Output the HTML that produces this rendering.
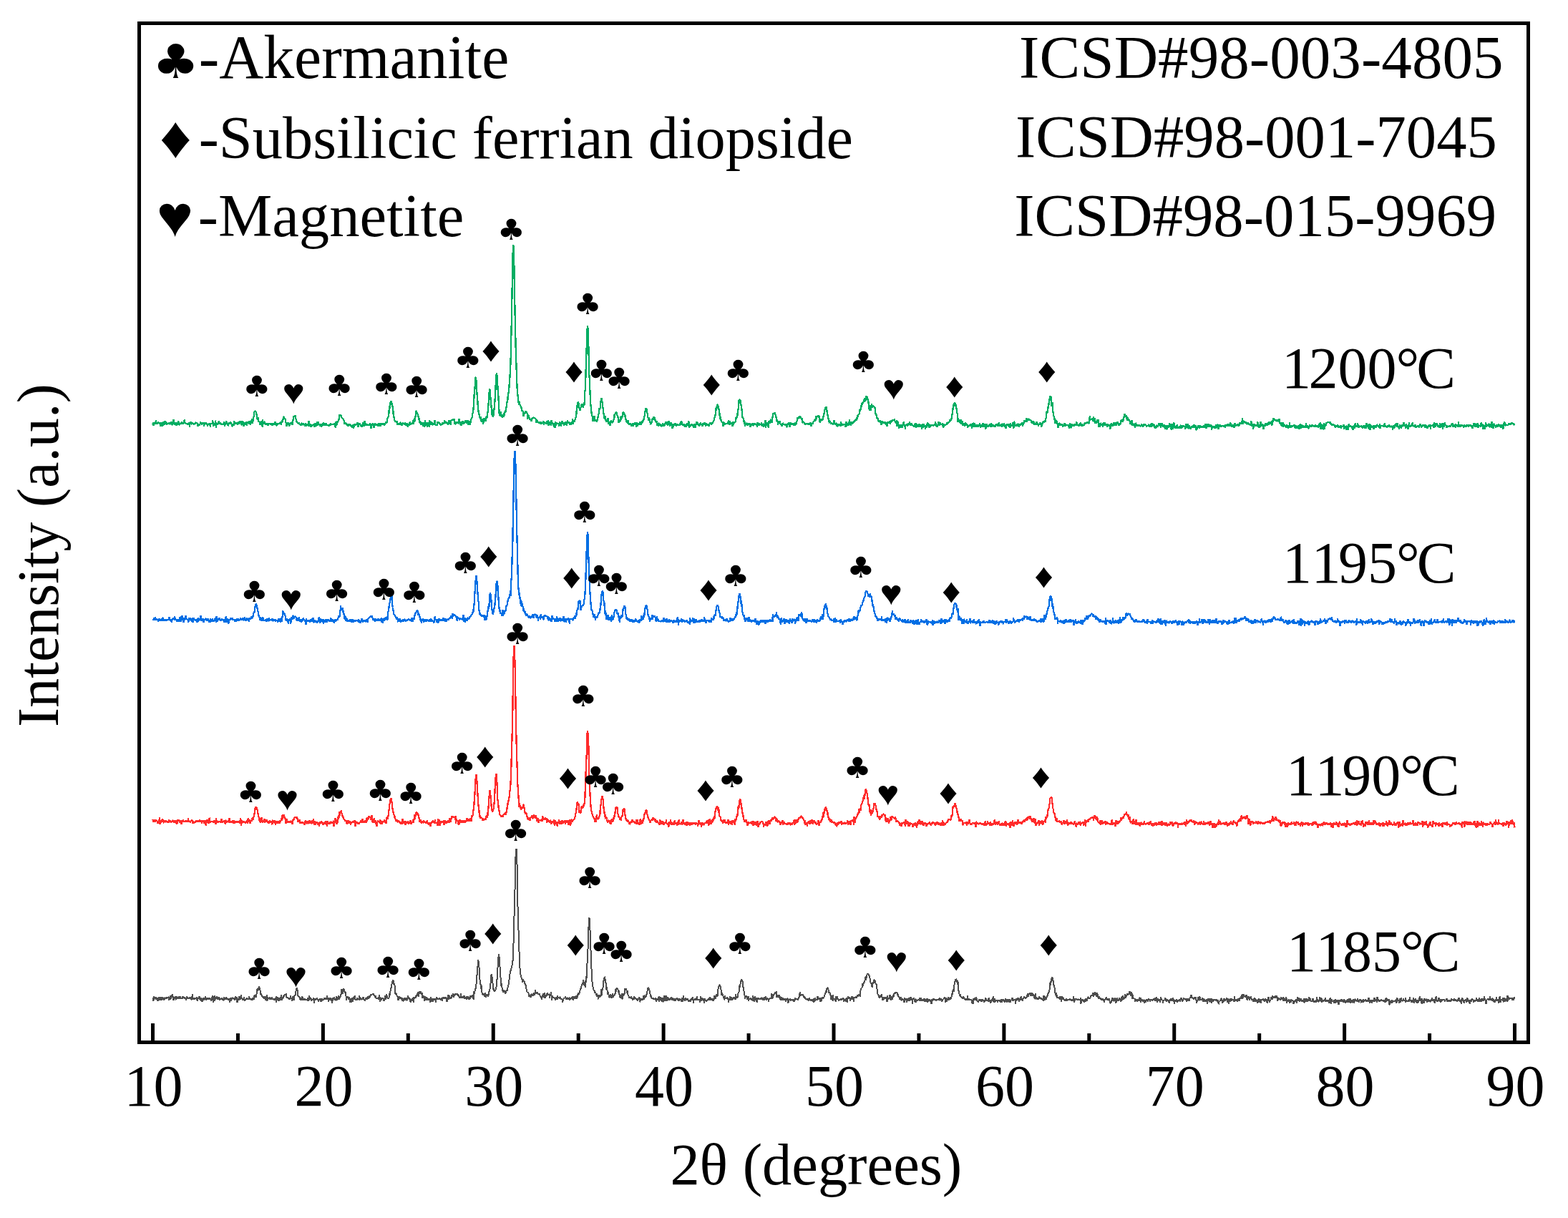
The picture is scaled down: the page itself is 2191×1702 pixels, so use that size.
<!DOCTYPE html>
<html><head><meta charset="utf-8"><title>XRD patterns</title><style>html,body{margin:0;padding:0;background:#fff;}svg{display:block;}</style></head><body>
<svg width="2191" height="1702" viewBox="0 0 2191 1702">
<rect width="2191" height="1702" fill="#fff"/>
<g fill="none" stroke-linejoin="bevel" stroke-linecap="butt" shape-rendering="crispEdges">
<path stroke="#00ad62" stroke-width="2.3" d="M213.5 591.5l.5 3.1 .5-4.8 .4 4.7 .5-3.6 .5 .4 .5 1.6 .4-1.7 .5 .4 .5-4.0 .5 4.9 .4-.9 .5-.6 .5 1.7 .5-1.8 .4 .5 .5-1.6 .5 1.5 .5-1.0 .4 .4 .5 1.8 .5-1.7 .5 .7 .4 4.4 .5-.9 .5-2.6 .5-.7 .4-.9 .5-.7 .5 5.3 .5-3.8 .4-2.0 .5 2.4 .5 .7 .5-.7 .5 2.0 .4-5.8 .5 3.5 .5-.2 .5-2.7 .4 3.3 .5 1.2 .5-1.4 .5-1.1 .4 2.4 .5-1.5 .5 .0 .5 .9 .4-2.6 .5 3.0 .5-.7 .5 .5 .4-2.4 .5 2.5 .5-2.5 .5-1.1 .4 4.1 .5 .0 .5 .2 .5-2.0 .4-.7 .5-4.7 .5 6.0 .5 .3 .4 .7 .5-2.2 .5-.4 .5 1.6 .5 .8 .4 2.3 .5-5.2 .5 1.6 .5 2.1 .4-2.3 .5 .5 .5-4.3 .5 4.6 .4 1.9 .5-1.0 .5 .6 .5-1.5 .4-1.5 .5 2.0 .5-2.2 .5 2.7 .4-4.3 .5 4.2 .5-2.9 .5 1.1 .4-.2 .5 1.3 .5-2.1 .5 1.1 .4-5.2 .5 4.7 .5 .6 .5-1.8 .4 2.5 .5-.8 .5 1.2 .5-.3 .5-.7 .4 2.0 .5-1.4 .5 .9 .5-1.8 .4 .6 .5-1.4 .5 6.8 .5-6.5 .4 .1 .5-1.7 .5 1.7 .5 1.9 .4-.3 .5-2.5 .5 1.4 .5 .2 .4 .8 .5-.7 .5 .4 .5 1.3 .4-.7 .5-1.3 .5 .3 .5-.3 .4-1.6 .5 .9 .5 .4 .5 .1 .4 .0 .5 .9 .5 3.6 .5-2.7 .5 .1 .4-.2 .5-.7 .5 2.1 .5-1.8 .4-.6 .5-2.5 .5 2.5 .5-1.1 .4-.7 .5 1.8 .5 1.2 .5-1.9 .4 1.8 .5-1.0 .5-1.7 .5 5.2 .4-3.8 .5-.5 .5 2.4 .5-3.5 .4 2.7 .5-2.1 .5 1.0 .5-.8 .4 2.6 .5-1.8 .5 4.3 .5-3.6 .4 .3 .5-.6 .5-.7 .5 .3 .5 3.2 .4-4.1 .5 6.3 .5-4.1 .5-1.4 .4 .9 .5-.8 .5 .0 .5 .4 .4-4.6 .5 4.5 .5 3.9 .5-4.6 .4 1.7 .5-1.1 .5-1.0 .5 3.4 .4-6.8 .5 3.9 .5 6.2 .5-6.4 .4 2.5 .5-1.3 .5 1.0 .5-.9 .4-.8 .5 1.4 .5-4.9 .5 3.8 .4-.3 .5 .4 .5-1.8 .5 .7 .4 1.3 .5-.5 .5 1.5 .5-.9 .5 1.5 .4-.9 .5-.6 .5-1.0 .5 1.9 .4-2.1 .5-1.6 .5 6.1 .5-3.4 .4 .9 .5-1.0 .5 .3 .5-4.0 .4 2.3 .5 2.0 .5-.4 .5-1.8 .4 4.7 .5-4.7 .5 1.6 .5-1.7 .4 2.5 .5-1.6 .5-1.0 .5-1.4 .4 1.8 .5 .1 .5 1.4 .5-.2 .4 3.4 .5-.1 .5-2.0 .5-.6 .5 1.0 .4 1.2 .5-7.0 .5 2.3 .5 1.5 .4-1.8 .5 2.5 .5-1.2 .5 .1 .4 .1 .5-1.5 .5 3.1 .5-.4 .4-.2 .5-3.9 .5 3.4 .5 .8 .4-2.2 .5 1.2 .5-4.0 .5 2.0 .4 1.3 .5 .8 .5 .2 .5 2.1 .4-2.6 .5-3.7 .5 5.7 .5-4.3 .4 .6 .5 5.8 .5-2.6 .5-1.5 .5-1.3 .4 1.4 .5-.2 .5 2.4 .5-2.2 .4-2.2 .5 5.0 .5-2.2 .5-2.4 .4-.1 .5 1.8 .5-2.3 .5 2.7 .4-.2 .5-4.2 .5 5.0 .5-.3 .4 1.0 .5-2.1 .5-.2 .5-2.7 .4-3.2 .5 .6 .5 5.9 .5-4.5 .4 1.4 .5-5.7 .5-.3 .5-6.5 .4-.7 .5-.4 .5-.5 .5-.1 .5 1.1 .4 1.6 .5 2.6 .5 6.1 .5-2.4 .4 3.6 .5-3.5 .5 4.0 .5 1.5 .4 1.0 .5-.9 .5 1.1 .5 3.8 .4-2.4 .5 .0 .5-2.9 .5-.1 .4 2.0 .5-.5 .5 6.5 .5-10.1 .4 5.2 .5-2.5 .5 3.5 .5-3.7 .4 .6 .5 .3 .5 1.7 .5 1.1 .4 1.0 .5-2.1 .5 .1 .5 2.3 .5-.5 .4-2.8 .5 3.2 .5 .2 .5-2.9 .4 1.8 .5-1.6 .5 .3 .5 1.0 .4 .0 .5-.1 .5 .2 .5-1.2 .4 2.2 .5-1.9 .5 3.2 .5-2.3 .4-.7 .5-.8 .5 1.4 .5-.4 .4 .8 .5-.4 .5-3.5 .5 5.0 .4-4.6 .5 4.5 .5-.1 .5 1.2 .4-2.1 .5-2.1 .5 1.4 .5-.1 .5 .5 .4-.8 .5 .8 .5-1.9 .5 .6 .4 .4 .5-.6 .5-2.1 .5 5.1 .4-3.8 .5 .0 .5-3.3 .5 2.3 .4-3.3 .5-.4 .5-3.7 .5 .3 .4 .8 .5 1.7 .5 .3 .5 .1 .4 3.5 .5 1.5 .5-.2 .5 6.1 .4-5.1 .5-.1 .5 2.2 .5-1.3 .4-.7 .5 .1 .5 3.9 .5 .5 .5-3.1 .4-1.4 .5 1.5 .5-2.0 .5 .4 .4 .4 .5-.8 .5-.7 .5 4.0 .4-6.7 .5 .6 .5-5.8 .5-.5 .4 .2 .5 .5 .5-1.8 .5 1.0 .4-.8 .5 4.3 .5 .9 .5 1.5 .4 2.4 .5-.5 .5 1.5 .5-.4 .4 1.0 .5 .7 .5-1.4 .5 .9 .4 .7 .5 .3 .5 1.4 .5-.7 .5-.2 .4 1.7 .5-3.0 .5-.9 .5 1.9 .4-1.4 .5 1.9 .5 .1 .5-2.0 .4 2.6 .5-.5 .5-.4 .5 2.7 .4-.8 .5-2.7 .5-.4 .5 3.9 .4-3.9 .5 2.5 .5-1.6 .5 .2 .4 .6 .5 2.5 .5-8.1 .5 4.0 .4 2.3 .5-1.1 .5-.4 .5 4.2 .4-4.3 .5 1.6 .5 2.8 .5-2.5 .5-.3 .4 .1 .5 .5 .5-2.1 .5 1.2 .4 .9 .5 .7 .5 .3 .5 .0 .4-4.5 .5 1.9 .5 .2 .5 2.2 .4-2.3 .5-.6 .5-3.5 .5 3.6 .4 1.9 .5-5.4 .5 2.8 .5 .9 .4 .7 .5-.5 .5 2.4 .5-3.2 .4 1.4 .5 .9 .5 1.6 .5-.8 .4-3.6 .5 2.9 .5-.6 .5-.8 .5-3.8 .4 2.5 .5 2.4 .5-3.3 .5 1.8 .4-.3 .5 1.8 .5-1.4 .5-1.9 .4 2.0 .5-.2 .5 1.3 .5-1.4 .4 1.3 .5-.6 .5 1.9 .5-1.2 .4-1.1 .5 .2 .5-.1 .5 1.9 .4-3.6 .5 1.5 .5 .3 .5-.3 .4 .4 .5-.3 .5-.3 .5 .8 .4-1.3 .5 .9 .5 .4 .5-2.8 .5 1.2 .4 3.4 .5 .6 .5 1.7 .5-9.3 .4 4.5 .5 1.0 .5-1.1 .5-2.1 .4-1.0 .5-.7 .5-1.7 .5-.2 .4-2.7 .5-2.7 .5-2.8 .5 3.0 .4-1.8 .5-.2 .5 .9 .5 .4 .4 2.2 .5 .4 .5 .7 .5 1.0 .4-.2 .5 1.0 .5 .8 .5 1.0 .4 4.5 .5-1.1 .5-1.6 .5 2.2 .5 .3 .4 .0 .5-1.1 .5 1.2 .5 2.1 .4-2.1 .5 .4 .5 2.7 .5-3.6 .4 1.9 .5-.8 .5 1.2 .5-1.6 .4 .6 .5-.5 .5 2.2 .5 .7 .4-2.0 .5 4.0 .5-3.5 .5 .6 .4 .7 .5-3.0 .5 5.8 .5-5.2 .4 .3 .5-1.4 .5 2.8 .5-1.9 .4 1.2 .5-1.8 .5 .7 .5 .1 .4-.7 .5-2.5 .5 4.6 .5 2.1 .5-4.2 .4-.5 .5 1.1 .5-2.0 .5 3.0 .4-.9 .5 .6 .5 2.0 .5-.5 .4 .8 .5 .2 .5-2.5 .5-.2 .4-3.5 .5 1.3 .5 2.2 .5 1.6 .4-1.8 .5-5.4 .5 4.4 .5 2.1 .4-2.5 .5 .3 .5 .5 .5 1.1 .4 1.2 .5-2.7 .5 1.4 .5-.2 .4-.2 .5 .4 .5 1.0 .5-2.4 .5 1.1 .4-2.2 .5 2.2 .5 1.2 .5 4.3 .4-5.6 .5-.7 .5 1.0 .5-.7 .4-1.5 .5 2.0 .5 1.1 .5 .8 .4 2.2 .5-4.7 .5-.5 .5-1.1 .4 1.8 .5 1.5 .5-2.4 .5 2.7 .4-.9 .5-2.1 .5 1.7 .5 .9 .4 1.3 .5-4.3 .5 2.9 .5-.3 .4-2.1 .5 .2 .5 4.0 .5-3.9 .5-.3 .4 1.4 .5-2.6 .5 1.6 .5-.5 .4 .5 .5 .1 .5 .0 .5-.8 .4 2.1 .5-.7 .5 1.0 .5-3.2 .4 .7 .5-1.5 .5-1.1 .5 .7 .4 2.0 .5-2.9 .5-3.4 .5-1.9 .4 .5 .5-2.6 .5-1.4 .5-7.3 .4 1.0 .5-6.0 .5-3.5 .5-2.2 .4-1.3 .5 .9 .5-1.2 .5 3.5 .5 5.1 .4-2.3 .5 3.5 .5 3.6 .5 8.8 .4-.5 .5 1.8 .5 3.6 .5-.8 .4 2.6 .5-.6 .5 .3 .5 .9 .4-.8 .5-.8 .5 4.8 .5 .2 .4-1.8 .5 .9 .5 1.3 .5-2.0 .4 1.2 .5 .3 .5-3.4 .5 .8 .4 2.8 .5-.2 .5-2.0 .5 2.9 .4-.2 .5-1.8 .5 .1 .5-1.5 .5 1.9 .4-1.9 .5 2.2 .5 .3 .5-.2 .4-2.9 .5 3.1 .5 .6 .5-2.7 .4 2.0 .5 1.0 .5-2.7 .5 3.7 .4 1.5 .5-3.2 .5 1.0 .5-2.7 .4 1.3 .5 2.0 .5-6.0 .5 4.6 .4-2.6 .5 2.2 .5-1.0 .5 .6 .4-1.9 .5-.2 .5 2.3 .5-6.0 .4 .3 .5 5.1 .5-2.8 .5-5.9 .5 4.9 .4-7.3 .5 1.6 .5-1.6 .5-6.9 .4 .1 .5 .9 .5 1.1 .5 1.2 .4 .5 .5 4.3 .5-1.0 .5 2.0 .4 .7 .5 6.5 .5-1.2 .5-.6 .4 .0 .5 5.3 .5-3.6 .5-.5 .4 1.2 .5 1.3 .5 .5 .5-3.0 .4 5.3 .5-2.4 .5-3.3 .5 4.4 .4 2.5 .5-2.3 .5-6.9 .5 5.4 .5 .3 .4 1.8 .5-2.0 .5-2.5 .5 5.3 .4 .4 .5-3.2 .5-3.0 .5 4.6 .4-.7 .5 3.0 .5-9.4 .5 5.3 .4-.6 .5-1.3 .5 3.0 .5-1.4 .4-3.0 .5 1.7 .5 3.0 .5-.9 .4-1.5 .5 1.8 .5-2.5 .5 2.4 .4-.1 .5-6.1 .5 5.6 .5 .7 .4 .2 .5-.3 .5 1.2 .5-1.0 .5 1.5 .4-2.8 .5-3.4 .5 2.2 .5 .7 .4-2.7 .5 1.3 .5 2.1 .5-1.0 .4 .1 .5 1.6 .5 .8 .5 .0 .4-2.2 .5 1.2 .5 .8 .5-3.3 .4 .4 .5 1.6 .5-1.3 .5-.5 .4 .8 .5-4.3 .5 4.4 .5-3.0 .4 2.1 .5-.2 .5 .5 .5-1.4 .4 1.7 .5 .6 .5-1.4 .5 3.1 .5-1.2 .4-2.6 .5-3.2 .5 4.3 .5-2.5 .4 .1 .5 .4 .5 5.1 .5-7.1 .4 .2 .5 .0 .5-.4 .5-.2 .4 .1 .5 .2 .5 .8 .5-2.3 .4 .6 .5 6.7 .5-2.5 .5 .4 .4 1.6 .5 1.0 .5-3.7 .5 1.5 .4-.3 .5-.2 .5 .5 .5-1.2 .4 2.5 .5-2.1 .5-1.3 .5-3.6 .5 5.7 .4-1.5 .5 4.4 .5-4.6 .5 .7 .4 5.3 .5-4.7 .5 2.5 .5-1.4 .4-3.2 .5 .8 .5 .8 .5 2.3 .4-2.6 .5 .4 .5 .0 .5-.6 .4 1.7 .5-4.3 .5 1.8 .5 2.5 .4-1.2 .5-.5 .5-.5 .5-1.7 .4 1.6 .5 5.1 .5-5.1 .5-.3 .4 5.1 .5-3.8 .5 3.4 .5-3.0 .5-3.4 .4-2.1 .5 .3 .5-2.2 .5 .5 .4-5.7 .5-.9 .5-1.7 .5-6.9 .4-5.4 .5-10.9 .5-6.0 .5-4.4 .4-9.7 .5-4.5 .5 .0 .5 5.2 .4 8.1 .5 8.6 .5 4.6 .5 6.8 .4 8.0 .5 4.2 .5 3.9 .5 1.1 .4 2.8 .5 3.3 .5-.5 .5 2.4 .4-3.9 .5 7.4 .5-4.3 .5 1.5 .5 3.0 .4-3.5 .5-.1 .5 6.4 .5-2.7 .4-2.3 .5-3.3 .5 3.3 .5-1.5 .4-.5 .5 3.9 .5-3.0 .5-1.1 .4-3.8 .5 1.6 .5 .8 .5-5.2 .4-3.5 .5-3.7 .5-8.0 .5-6.2 .4-7.3 .5-5.5 .5-.2 .5 4.9 .4 6.3 .5 6.2 .5 4.7 .5 7.2 .4 6.1 .5-7.2 .5 8.3 .5 2.0 .4-4.9 .5 2.9 .5-6.2 .5-4.4 .5-5.4 .4-6.6 .5-7.1 .5-12.0 .5-7.0 .4-8.1 .5-2.9 .5 3.9 .5 5.4 .4 9.8 .5 8.6 .5 5.0 .5 11.6 .4 5.2 .5 10.2 .5-3.9 .5 1.1 .4 4.3 .5-7.3 .5 5.3 .5 2.2 .4-2.7 .5 1.3 .5 2.3 .5-2.6 .4-.9 .5 3.1 .5-6.0 .5 4.2 .4-3.7 .5-1.9 .5 .0 .5-1.8 .5 2.7 .4-5.7 .5-4.1 .5-2.6 .5-4.3 .4 .9 .5-6.8 .5-3.2 .5-3.2 .4-1.8 .5-7.3 .5-5.7 .5-8.4 .4-7.2 .5-10.0 .5-20.4 .5-23.8 .4-19.6 .5-27.0 .5-28.0 .5-25.3 .4-15.0 .5-5.3 .5 5.5 .5 17.8 .4 26.9 .5 24.3 .5 25.8 .5 21.4 .4 19.3 .5 15.0 .5 16.1 .5 16.1 .5 11.4 .4 6.6 .5 3.9 .5 4.9 .5 3.7 .4 3.8 .5 .3 .5-4.5 .5 5.0 .4-.4 .5 1.8 .5 .3 .5 1.1 .4 2.0 .5 1.8 .5 2.5 .5-1.3 .4 .9 .5 3.4 .5 3.7 .5-5.1 .4 1.6 .5-.3 .5-1.1 .5 1.1 .4-4.0 .5 1.5 .5 .1 .5 .3 .4 .9 .5 1.4 .5 7.4 .5-6.6 .5 2.9 .4-1.7 .5 1.6 .5 3.2 .5 1.4 .4-.7 .5 .0 .5 1.1 .5 2.3 .4-.9 .5-1.7 .5-2.0 .5 1.1 .4-2.7 .5 2.2 .5-1.6 .5 .2 .4 .1 .5 .0 .5 .4 .5 1.2 .4-.7 .5 1.1 .5 3.7 .5 1.2 .4-4.0 .5 1.9 .5 .3 .5 2.1 .4-.7 .5-.6 .5 1.7 .5-.7 .5-1.4 .4 2.6 .5-1.2 .5 2.2 .5-1.4 .4-2.1 .5 2.7 .5-.7 .5 .0 .4-.4 .5 .9 .5-3.4 .5 2.9 .4 2.9 .5-4.0 .5-.5 .5 1.5 .4 .4 .5-.4 .5 .3 .5 .7 .4 .6 .5-4.3 .5 2.8 .5 .8 .4-4.7 .5 7.5 .5-2.7 .5-.5 .4 .0 .5-1.6 .5-1.0 .5 3.4 .5 1.9 .4-1.3 .5-5.5 .5 .8 .5 3.5 .4 .2 .5 .2 .5 1.5 .5 .3 .4 3.1 .5-5.8 .5 .5 .5 5.7 .4-4.9 .5-3.7 .5 5.3 .5-2.0 .4-1.6 .5 .8 .5 .7 .5 .3 .4-.8 .5 1.2 .5-.8 .5 4.0 .4-2.5 .5-3.3 .5-.5 .5 3.8 .4-1.3 .5 3.8 .5-4.4 .5-1.2 .5-2.2 .4 4.6 .5-3.5 .5 2.9 .5-.3 .4 .7 .5 2.1 .5-4.1 .5 1.0 .4 1.0 .5-2.3 .5-1.1 .5 .6 .4 4.4 .5-1.6 .5-2.5 .5-3.5 .4 5.2 .5-1.2 .5-.5 .5-.2 .4 1.1 .5-.5 .5 3.4 .5-2.9 .4 1.9 .5 .3 .5-.5 .5-2.4 .4 .1 .5-.4 .5-4.8 .5 7.4 .5-5.1 .4 1.5 .5 .0 .5 .1 .5-1.9 .4-.5 .5-.2 .5-2.8 .5-2.1 .4-1.4 .5-8.8 .5-.6 .5-6.7 .4-1.1 .5-1.2 .5 .9 .5 1.0 .4 3.0 .5 3.6 .5 .7 .5 3.0 .4-3.9 .5-.3 .5-1.3 .5-3.3 .4-.2 .5-.5 .5 1.6 .5 .0 .4 3.7 .5-2.1 .5-3.0 .5 2.4 .5-6.9 .4-12.1 .5-3.1 .5-10.1 .5-20.2 .4-12.1 .5-15.4 .5-15.7 .5-12.0 .4-4.6 .5 4.6 .5 12.9 .5 16.0 .4 20.5 .5 16.5 .5 4.4 .5 16.6 .4 8.3 .5 9.4 .5 5.2 .5 5.7 .4 2.7 .5 3.5 .5 .0 .5 .9 .4 7.1 .5-5.0 .5-.2 .5 .2 .4-2.8 .5 7.6 .5-2.0 .5-1.3 .5 2.6 .4-1.0 .5-1.3 .5 3.5 .5-1.7 .4-3.1 .5-.9 .5-2.8 .5-2.3 .4-.1 .5-3.5 .5-5.3 .5 .9 .4-.3 .5-7.9 .5-2.5 .5-3.0 .4-.5 .5 2.0 .5 3.2 .5 4.4 .4 3.3 .5 2.8 .5 5.2 .5 3.4 .4 2.0 .5 2.5 .5-.2 .5-4.4 .4 5.6 .5 1.1 .5 1.5 .5-.2 .5 1.2 .4-1.4 .5 1.3 .5-5.6 .5 6.6 .4 1.3 .5 .1 .5 .2 .5-3.2 .4 5.9 .5-4.5 .5-1.6 .5-1.0 .4-.5 .5 3.0 .5-.2 .5 .4 .4-1.2 .5-1.1 .5-2.6 .5 1.4 .4-8.7 .5 5.1 .5-4.4 .5-1.3 .4-.3 .5-1.6 .5 .1 .5 .2 .4 2.3 .5 1.6 .5 .3 .5 2.8 .5-.7 .4 8.6 .5-4.6 .5 1.2 .5-.4 .4 1.6 .5-.6 .5 .5 .5-7.5 .4 3.2 .5 .2 .5-1.8 .5-.5 .4-5.3 .5-.3 .5-1.0 .5 .1 .4 .8 .5 3.3 .5-1.4 .5 1.3 .4 4.5 .5-.3 .5 3.5 .5 1.6 .4-2.1 .5 3.0 .5 .7 .5 .4 .4-3.9 .5 5.2 .5-.1 .5-1.4 .4 .8 .5 1.0 .5 .7 .5-2.4 .5 2.1 .4-1.2 .5 3.5 .5-1.3 .5-2.3 .4 .0 .5 .4 .5 3.6 .5-5.2 .4 1.9 .5 .3 .5 .4 .5-3.6 .4 3.1 .5-.5 .5-.4 .5 4.4 .4-6.0 .5 2.8 .5-1.9 .5 4.3 .4-3.2 .5-.2 .5-.8 .5 1.0 .4 1.6 .5-4.6 .5 3.1 .5-2.3 .4 .4 .5 2.7 .5-4.6 .5 3.3 .5-4.3 .4 2.6 .5-.3 .5-3.0 .5 2.0 .4-4.0 .5-.7 .5-3.4 .5-.2 .4-5.3 .5-2.1 .5-2.8 .5 .5 .4-.2 .5 2.6 .5 3.7 .5 1.5 .4 3.6 .5 1.4 .5 4.4 .5-2.4 .4-2.2 .5 3.3 .5 2.8 .5 .5 .4 1.4 .5 1.7 .5-4.0 .5 1.3 .4-2.6 .5-1.0 .5-2.7 .5 2.8 .5-3.5 .4-.5 .5-.4 .5 1.7 .5-.8 .4 2.0 .5 2.5 .5-1.4 .5 4.0 .4-.4 .5-1.7 .5 6.6 .5-3.7 .4 .5 .5 1.5 .5 2.7 .5-4.5 .4-.7 .5 2.8 .5-.2 .5-.7 .4 .7 .5 2.6 .5-1.4 .5-1.3 .4 2.1 .5 .1 .5-1.2 .5-3.0 .4 2.1 .5 .2 .5 1.6 .5-1.8 .5 .3 .4 .4 .5-3.1 .5-.6 .5-.8 .4 1.7 .5 1.2 .5-2.2 .5 3.4 .4 .0 .5-.4 .5-5.3 .5 5.5 .4-1.9 .5-3.6 .5 6.7 .5 1.1 .4-4.9 .5 3.1 .5-3.5 .5 3.3 .4 .1 .5-.1 .5 5.1 .5-5.0 .4-1.8 .5 4.2 .5-3.4 .5 .8 .4-.3 .5 1.5 .5-3.7 .5 2.0 .5 .2 .4 .5 .5 2.0 .5-3.0 .5 .2 .4 1.1 .5-1.8 .5 1.2 .5-.6 .4 1.0 .5-.1 .5 .4 .5-.9 .4-.8 .5-3.7 .5 5.0 .5-1.3 .4-4.5 .5 5.1 .5-.4 .5 1.4 .4-1.3 .5 .3 .5 1.2 .5-.2 .4-2.1 .5 1.8 .5 2.5 .5-.5 .4-.6 .5-2.4 .5 4.1 .5-4.6 .5 .9 .4-1.7 .5 2.2 .5 .6 .5-.1 .4-6.2 .5 10.1 .5-5.2 .5 1.5 .4 1.7 .5-1.5 .5-1.0 .5 .0 .4-1.8 .5 1.4 .5 1.7 .5-.8 .4-.1 .5 .1 .5-1.1 .5 4.9 .4-4.9 .5-.8 .5 1.8 .5-2.0 .4 5.5 .5-3.8 .5-2.2 .5-2.2 .4 4.5 .5-3.7 .5 .3 .5 2.8 .5 .1 .4 1.6 .5-3.3 .5 3.6 .5-2.1 .4 1.9 .5-3.2 .5-1.6 .5 3.0 .4-1.0 .5 1.1 .5 1.4 .5 .6 .4-4.4 .5 1.4 .5 .3 .5-.8 .4 1.3 .5-3.0 .5 1.8 .5-1.6 .4 2.6 .5 3.0 .5-4.5 .5 3.6 .4-2.7 .5 1.5 .5 .6 .5-1.3 .4 .4 .5-.5 .5 2.2 .5-1.6 .5-1.5 .4-.6 .5-1.0 .5 1.5 .5-1.3 .4-.2 .5 2.9 .5-1.6 .5-1.0 .4 1.1 .5-2.1 .5-1.1 .5 .2 .4-1.4 .5-3.0 .5-1.0 .5-1.1 .4-3.8 .5 1.7 .5-10.1 .5 3.7 .4-2.4 .5-5.1 .5-1.3 .5 .3 .4 .8 .5 3.4 .5 1.0 .5 2.3 .4 8.3 .5-4.4 .5 1.9 .5 6.7 .5 1.5 .4-.6 .5 1.4 .5 1.9 .5 .3 .4 .7 .5-.3 .5 5.1 .5-6.0 .4 2.3 .5-1.4 .5 .8 .5-.1 .4 2.3 .5-1.1 .5-.7 .5 .7 .4-.2 .5 .3 .5-1.1 .5 .7 .4 .2 .5-2.3 .5-2.4 .5 5.1 .4-1.5 .5 2.5 .5-5.5 .5 3.0 .4 1.5 .5-2.3 .5 1.5 .5-.6 .5-.2 .4-.3 .5 5.1 .5-5.0 .5-1.6 .4 4.3 .5-4.4 .5 2.2 .5-.8 .4-.2 .5-.3 .5-3.5 .5-3.4 .4 2.3 .5-1.6 .5-3.0 .5 .4 .4-7.1 .5-.7 .5-3.4 .5-11.2 .4 4.9 .5-3.9 .5-1.4 .5-.4 .4 1.8 .5 2.8 .5 4.1 .5-1.5 .4 8.0 .5 3.5 .5 6.8 .5-1.1 .5 2.4 .4 .8 .5 1.5 .5 6.0 .5-4.4 .4 6.8 .5-5.0 .5 2.6 .5-1.9 .4 1.5 .5 .2 .5-1.6 .5 .0 .4 3.7 .5-3.4 .5 1.8 .5-2.4 .4 1.5 .5-.3 .5-.4 .5-.1 .4 4.7 .5-3.0 .5-.6 .5 .4 .4 1.4 .5-1.0 .5-2.4 .5 .7 .4 3.3 .5-1.9 .5 .2 .5-1.8 .5-.2 .4 .6 .5 .6 .5 .7 .5-.5 .4 1.0 .5-.8 .5 .3 .5 3.1 .4-6.5 .5 3.8 .5 .4 .5-2.3 .4 3.2 .5-3.7 .5 3.2 .5-2.6 .4 1.1 .5-.1 .5 .5 .5 .2 .4-3.9 .5 4.8 .5-1.3 .5 2.4 .4-4.0 .5 1.3 .5 3.4 .5-2.9 .4-.4 .5-.2 .5 2.5 .5-8.1 .4 11.0 .5-5.6 .5 1.4 .5-1.6 .5 1.4 .4-3.8 .5 1.9 .5 1.1 .5 4.4 .4-5.9 .5-3.1 .5 3.3 .5-1.0 .4-2.8 .5-.2 .5 .4 .5-2.6 .4 3.3 .5 2.2 .5-6.4 .5-.7 .4-3.9 .5-3.2 .5 1.9 .5-.9 .4-.6 .5-.1 .5-1.3 .5 3.7 .4-.8 .5 2.5 .5 2.2 .5 .4 .4 5.3 .5-2.6 .5 1.8 .5 4.9 .5-3.0 .4-.4 .5 1.9 .5-1.9 .5-.6 .4-1.1 .5 4.4 .5 .1 .5 .2 .4 .2 .5-.3 .5 2.8 .5-3.0 .4-1.7 .5 1.0 .5 .7 .5 .7 .4-.7 .5 .3 .5-.6 .5 1.6 .4 .8 .5-2.1 .5 1.8 .5-2.5 .4 5.4 .5-4.6 .5 1.0 .5-.2 .4-2.8 .5 2.7 .5-3.5 .5 3.2 .5 .1 .4 3.1 .5-4.6 .5-1.8 .5 3.5 .4-1.1 .5 .8 .5-1.1 .5 1.5 .4-2.7 .5 1.9 .5 .9 .5 .9 .4-2.8 .5 .5 .5 2.9 .5-5.4 .4 3.0 .5-1.0 .5 2.4 .5-4.4 .4-.8 .5-.6 .5-1.5 .5-3.7 .4 2.5 .5-1.7 .5-.5 .5-.5 .4-1.0 .5-.1 .5 .5 .5 2.0 .5-2.2 .4 2.5 .5 .2 .5 2.3 .5-3.2 .4 6.9 .5-.1 .5-3.0 .5 2.9 .4-.6 .5-.2 .5 3.2 .5-.4 .4-.5 .5 .3 .5 1.6 .5-2.3 .4 .6 .5-1.0 .5 1.0 .5-1.3 .4 1.0 .5 1.0 .5-1.3 .5 1.3 .4 .7 .5-.8 .5-.6 .5-.3 .4-2.4 .5 3.6 .5 2.2 .5-4.5 .5 1.5 .4-.6 .5 .8 .5-1.0 .5-2.4 .4-1.0 .5 .7 .5-1.5 .5 1.0 .4-3.8 .5 2.4 .5-.4 .5-6.1 .4 5.2 .5-2.3 .5-2.1 .5 .5 .4-.8 .5 1.3 .5-2.2 .5 3.9 .4-2.4 .5 1.1 .5 7.6 .5-2.3 .4-.3 .5 .9 .5-2.5 .5-1.1 .4 1.3 .5 1.2 .5-.8 .5-1.4 .5-2.6 .4-1.5 .5-1.1 .5-3.0 .5-4.2 .4-.9 .5-1.0 .5-1.8 .5-.6 .4 .5 .5-.6 .5 6.2 .5 5.2 .4-.2 .5 1.5 .5 4.9 .5-1.7 .4 2.7 .5 3.1 .5 .7 .5-3.1 .4 1.7 .5 .9 .5 1.8 .5-.2 .4-.3 .5-.3 .5-.2 .5 1.2 .4 1.1 .5-1.7 .5-.2 .5-4.5 .5 3.4 .4 .3 .5 1.7 .5 1.3 .5-1.3 .4-1.4 .5 .3 .5 4.7 .5-2.8 .4-1.1 .5 2.4 .5 1.5 .5-3.0 .4-.3 .5-.2 .5 .0 .5 2.2 .4-1.1 .5 1.7 .5-6.2 .5 1.9 .4 1.9 .5 .2 .5-.5 .5 .3 .4 2.1 .5-2.0 .5-1.1 .5 .8 .4-.7 .5 1.1 .5-.2 .5 .5 .5 3.3 .4-4.2 .5-3.6 .5 3.5 .5 .0 .4 1.1 .5 1.5 .5-4.4 .5 3.6 .4-3.6 .5 1.7 .5-6.1 .5 7.2 .4-2.0 .5-1.0 .5 4.2 .5-5.7 .4 1.8 .5 .3 .5-1.0 .5 .2 .4 1.9 .5-3.2 .5 1.2 .5-1.7 .4 1.3 .5-1.8 .5 .0 .5 .3 .4-1.7 .5 1.4 .5-2.8 .5 2.2 .5-1.7 .4-3.7 .5 1.2 .5-4.3 .5 .4 .4-.3 .5 .4 .5-1.7 .5-1.8 .4-3.3 .5-.7 .5 .3 .5-2.4 .4-2.2 .5-4.2 .5 .1 .5 1.8 .4-1.8 .5-.4 .5-2.2 .5 .2 .4-2.6 .5 3.3 .5-5.5 .5 .7 .4 4.2 .5-5.1 .5-1.8 .5-.4 .4 .6 .5-.5 .5 2.1 .5 2.4 .5-1.1 .4 5.6 .5 3.3 .5 4.5 .5 2.6 .4-7.8 .5 6.3 .5 1.3 .5 .5 .4-3.6 .5-5.9 .5 5.3 .5-.5 .4-1.9 .5-.5 .5 1.3 .5-.8 .4 .6 .5 .6 .5 1.4 .5 .0 .4 3.3 .5 5.5 .5 .0 .5 1.2 .4 4.0 .5 1.0 .5-1.4 .5 1.8 .4-.2 .5 1.6 .5 3.5 .5-2.1 .5 .4 .4 1.3 .5-.2 .5-1.9 .5 2.3 .4-1.2 .5 4.7 .5-1.4 .5-.9 .4-2.5 .5 .9 .5 1.3 .5 1.1 .4-2.2 .5 1.8 .5-.9 .5-.7 .4 .3 .5 .0 .5 3.6 .5-2.9 .4-.7 .5 3.6 .5 2.0 .5-2.7 .4-3.6 .5 .8 .5-.1 .5-.7 .4 2.1 .5-3.3 .5 4.0 .5-1.9 .5-1.5 .4-1.6 .5 2.1 .5 .4 .5-1.5 .4-1.9 .5 1.4 .5-1.0 .5-.1 .4 .6 .5 .2 .5-2.0 .5 3.5 .4-.9 .5 2.7 .5-.5 .5 .5 .4-1.5 .5-1.9 .5 8.7 .5-7.8 .4 1.0 .5 3.3 .5 3.2 .5-2.6 .4 5.6 .5-4.8 .5 .8 .5 .0 .4 1.7 .5 .9 .5-4.4 .5 1.4 .4-.7 .5 4.4 .5-4.0 .5-.6 .5-3.3 .4 4.5 .5-5.8 .5 5.5 .5-1.3 .4 1.5 .5 4.9 .5-6.0 .5 .7 .4 .0 .5-1.7 .5 2.4 .5-.1 .4 .4 .5-2.2 .5-1.6 .5 2.4 .4-1.6 .5 1.1 .5-3.7 .5 4.3 .4-.2 .5-.1 .5 .2 .5-3.0 .4 3.2 .5 .7 .5-1.1 .5 .8 .4 1.1 .5-1.2 .5 2.6 .5-1.6 .5-.9 .4-2.6 .5 2.4 .5-3.5 .5 6.9 .4-6.5 .5 2.0 .5-.2 .5 3.1 .4 .6 .5-1.5 .5 .9 .5-2.6 .4 3.0 .5-4.2 .5 1.5 .5 2.3 .4-1.0 .5 2.1 .5-1.2 .5-2.7 .4 .9 .5 5.4 .5-4.5 .5 .5 .4-3.6 .5 5.7 .5-3.1 .5-1.8 .4 1.9 .5 2.1 .5-2.2 .5 5.4 .5-2.9 .4-2.7 .5 3.7 .5-2.6 .5-2.0 .4-1.3 .5-1.7 .5 4.0 .5 .9 .4-2.8 .5 .6 .5 5.2 .5-2.7 .4-1.9 .5 3.5 .5-3.0 .5-.8 .4 .4 .5-.3 .5 1.5 .5-1.1 .4 .6 .5 .1 .5-.3 .5-.2 .4-.3 .5-.6 .5-1.2 .5 2.9 .4-5.4 .5 5.5 .5 .1 .5 .4 .5-.9 .4 2.7 .5-3.5 .5 .2 .5-.7 .4-4.5 .5 5.1 .5 .1 .5-.1 .4-3.5 .5 2.0 .5 .7 .5 .5 .4-1.0 .5 .8 .5-.4 .5-1.4 .4 4.0 .5-1.7 .5 4.3 .5-4.4 .4 .0 .5-.9 .5 1.7 .5-1.5 .4 1.4 .5-1.6 .5 .8 .5-.5 .4-1.0 .5-2.3 .5 1.1 .5 .7 .5-.2 .4-1.5 .5-.1 .5-.3 .5 .2 .4-3.5 .5 1.3 .5-.1 .5-.3 .4-3.2 .5 1.8 .5-4.8 .5-1.9 .4-6.3 .5-.4 .5-7.6 .5 3.0 .4-3.3 .5-.4 .5-1.1 .5-.2 .4 1.9 .5 .2 .5 4.9 .5 2.3 .4-2.3 .5 6.6 .5 1.7 .5 2.4 .4 9.1 .5-3.8 .5 2.3 .5-.5 .5-.2 .4 1.7 .5 1.9 .5-.4 .5-4.9 .4 6.1 .5 .1 .5 .9 .5-4.4 .4 6.3 .5-2.1 .5-.2 .5-.1 .4 2.5 .5-2.4 .5 .2 .5 2.9 .4-2.1 .5-3.0 .5 1.3 .5 3.0 .4-1.5 .5-.1 .5 .0 .5 4.8 .4-4.0 .5 2.2 .5-.9 .5 .0 .4 .0 .5-1.8 .5 2.2 .5-1.5 .5-1.3 .4 .5 .5 1.0 .5-.1 .5 5.0 .4-4.5 .5 .0 .5-3.4 .5 .3 .4 2.1 .5 .5 .5 2.8 .5-5.7 .4 3.9 .5-.4 .5-1.3 .5 3.4 .4-2.8 .5 1.9 .5-2.3 .5 1.0 .4 .9 .5 .7 .5-2.2 .5-.8 .4 1.7 .5 .0 .5-3.7 .5 3.5 .4 2.7 .5-3.9 .5 1.4 .5 2.0 .5-2.8 .4 1.7 .5 .8 .5-5.3 .5 2.5 .4-.3 .5 3.3 .5-2.0 .5-2.2 .4 1.5 .5-.4 .5 6.3 .5-3.6 .4-.3 .5-3.6 .5 1.7 .5 .2 .4-.5 .5 2.6 .5-2.1 .5 1.1 .4-.7 .5-.6 .5-2.0 .5 4.0 .4-1.7 .5-2.6 .5 2.6 .5-3.2 .4 2.6 .5 2.8 .5-2.7 .5 .0 .5-.1 .4 .8 .5-.2 .5-.3 .5 2.0 .4-1.7 .5 1.6 .5-1.8 .5-.2 .4-1.0 .5-1.3 .5 3.0 .5-.7 .4-1.2 .5 1.7 .5 .7 .5-.4 .4-4.8 .5 4.0 .5 1.0 .5-.9 .4 .2 .5 1.3 .5-2.8 .5 .2 .4 2.5 .5 1.4 .5-4.0 .5-1.4 .4 4.3 .5-1.2 .5-1.2 .5-2.2 .5 3.3 .4-1.7 .5 3.8 .5 .0 .5-1.4 .4 3.8 .5-5.3 .5-1.3 .5 2.4 .4-1.4 .5 1.6 .5-3.3 .5 2.1 .4 1.0 .5 2.3 .5-5.2 .5 2.2 .4 3.2 .5-6.1 .5 2.9 .5 1.0 .4-1.0 .5 1.7 .5-1.9 .5-.4 .4-3.4 .5 4.0 .5 4.4 .5-2.1 .4-7.9 .5 1.8 .5 .8 .5 4.6 .5-2.2 .4-.4 .5 1.7 .5-1.5 .5 .1 .4 1.0 .5 1.4 .5-3.6 .5 .1 .4-.1 .5 4.2 .5-2.9 .5 1.1 .4-2.9 .5 3.0 .5-2.6 .5 .9 .4-1.7 .5 1.0 .5 .7 .5-2.7 .4 4.9 .5-2.3 .5-1.3 .5 .0 .4-2.3 .5-2.0 .5 1.4 .5-1.8 .4 .9 .5 1.3 .5-3.2 .5-1.8 .5 3.9 .4 1.3 .5-3.7 .5-.6 .5 .9 .4-.5 .5-.1 .5 1.0 .5 .5 .4 .4 .5-.8 .5 1.3 .5-1.1 .4 3.1 .5-.2 .5 2.3 .5-1.6 .4 .1 .5-1.9 .5 2.0 .5-2.6 .4 5.6 .5-1.1 .5-.9 .5 1.6 .4 .6 .5-2.2 .5 1.2 .5-2.4 .4-1.3 .5 4.5 .5-2.2 .5 .9 .4 .3 .5 3.1 .5-2.0 .5-1.0 .5 1.2 .4-2.4 .5-1.5 .5 1.4 .5 1.2 .4-1.0 .5 5.8 .5-5.3 .5-.1 .4 .5 .5-1.1 .5-1.8 .5-.1 .4 .8 .5-1.3 .5-.8 .5 .2 .4 1.0 .5-.3 .5-4.2 .5-1.8 .4-4.5 .5-4.3 .5 3.6 .5-3.8 .4-1.3 .5-5.8 .5-.4 .5-3.8 .4 .0 .5-5.3 .5-3.3 .5-.1 .5 .5 .4-.6 .5 5.5 .5 8.9 .5-4.6 .4-1.7 .5 9.1 .5 4.4 .5 1.9 .4 4.2 .5 .2 .5 4.8 .5-2.7 .4 1.5 .5 6.9 .5-6.2 .5 4.6 .4-3.1 .5 1.4 .5 2.4 .5 1.4 .4-.8 .5 5.6 .5-.5 .5-6.5 .4 1.7 .5 .2 .5-1.2 .5 2.1 .4 1.4 .5-.9 .5 .4 .5-2.0 .5 1.2 .4-1.6 .5 2.5 .5 1.8 .5-2.7 .4 .1 .5 .9 .5 1.3 .5-4.4 .4 3.3 .5 1.2 .5-3.3 .5 .5 .4 .7 .5 .4 .5-.4 .5 .4 .4-.6 .5 .1 .5-.4 .5 1.2 .4 2.4 .5 2.0 .5-5.2 .5-2.9 .4 3.7 .5 2.8 .5 .0 .5-2.6 .4-1.0 .5-2.0 .5 2.3 .5 .6 .5 .3 .4-.3 .5 .7 .5-3.2 .5 2.0 .4-.2 .5 .2 .5-.1 .5 .4 .4-2.4 .5-3.2 .5 5.0 .5 .5 .4-.5 .5 .2 .5-.3 .5 1.6 .4-.1 .5-2.9 .5 2.0 .5-.4 .4-3.1 .5 .6 .5 3.7 .5-.7 .4-2.4 .5 1.8 .5 1.8 .5-2.1 .4 .1 .5 .2 .5-.6 .5 1.7 .5-3.0 .4-.4 .5-1.3 .5 1.9 .5-.7 .4 .3 .5-1.7 .5 1.1 .5-.3 .4-1.1 .5 1.7 .5-1.7 .5-.2 .4 2.7 .5-1.9 .5-2.0 .5-7.1 .4 6.2 .5-1.7 .5-.7 .5 1.0 .4-.7 .5 .2 .5 .3 .5-1.2 .4-.6 .5 5.0 .5-6.8 .5 6.1 .4 .1 .5 .2 .5-4.3 .5 7.6 .5-4.0 .4 3.7 .5-1.5 .5-.3 .5-.5 .4-3.5 .5 4.6 .5-.7 .5-3.5 .4 6.6 .5 4.0 .5-4.1 .5 1.5 .4 2.7 .5-6.3 .5 2.4 .5 .1 .4-.7 .5 1.9 .5-.6 .5-1.6 .4 4.6 .5-5.0 .5-1.1 .5 4.2 .4-1.2 .5 .8 .5-4.4 .5 1.4 .4 1.8 .5 .2 .5 .6 .5-.6 .5-.5 .4 4.3 .5-5.0 .5 1.8 .5-1.1 .4 2.5 .5-1.0 .5 .0 .5-.6 .4 .1 .5 5.7 .5-5.8 .5 .7 .4-2.9 .5 2.4 .5 .9 .5-1.1 .4 .9 .5-.3 .5-2.6 .5 2.0 .4-3.8 .5 1.4 .5 2.9 .5-1.7 .4-2.1 .5 3.0 .5 .7 .5-1.6 .4-.6 .5 .2 .5-3.3 .5 .7 .5 3.1 .4-1.2 .5 .8 .5 2.4 .5-1.4 .4-.2 .5 .9 .5-2.6 .5-1.2 .4-3.2 .5 3.1 .5-3.8 .5 .8 .4-.9 .5 3.2 .5-2.0 .5-4.0 .4-.3 .5-.4 .5-4.4 .5 .5 .4 2.4 .5-.2 .5 .2 .5 1.4 .4-2.6 .5 5.3 .5-3.1 .5 5.2 .4-3.8 .5 2.3 .5 2.1 .5-1.5 .5 .0 .4 1.9 .5 .9 .5 3.3 .5-2.7 .4 2.1 .5 1.3 .5-6.3 .5 4.5 .4 3.4 .5-1.9 .5-1.5 .5 1.6 .4-.1 .5 1.9 .5-.2 .5-1.7 .4 5.3 .5-7.8 .5 5.6 .5-4.5 .4 2.5 .5-.4 .5 1.7 .5-1.4 .4-.7 .5 1.6 .5-1.1 .5 .2 .4 1.6 .5-1.8 .5 .5 .5 1.3 .5 .2 .4-.8 .5 .1 .5-2.9 .5 2.4 .4 .2 .5-2.0 .5 3.7 .5-1.4 .4-2.7 .5 .3 .5-.2 .5 .4 .4 2.0 .5-2.4 .5 1.9 .5-.4 .4 1.2 .5 .3 .5-.3 .5-.1 .4-.1 .5 .8 .5-1.0 .5-1.1 .4-.9 .5 2.4 .5 1.0 .5-.5 .4-.1 .5 .4 .5-3.5 .5 4.1 .5-5.4 .4 4.0 .5-.4 .5-1.6 .5 2.1 .4-2.2 .5-1.1 .5 3.8 .5 1.4 .4-2.3 .5 1.5 .5 1.9 .5-2.3 .4-1.1 .5 3.2 .5-3.9 .5 .0 .4 1.6 .5 .8 .5-2.2 .5 .2 .4-3.2 .5 1.6 .5 1.7 .5-1.6 .4-2.0 .5 5.3 .5 .9 .5-3.7 .4 1.2 .5-4.1 .5 4.4 .5-1.6 .5 2.1 .4 .4 .5 .2 .5-2.9 .5 3.4 .4 .3 .5-2.4 .5 4.8 .5-4.4 .4-.4 .5-.6 .5 5.0 .5 1.2 .4-3.5 .5-1.8 .5-.7 .5 2.7 .4 .1 .5-.7 .5-5.5 .5 2.5 .4 2.5 .5-3.6 .5 4.8 .5 2.9 .4 .0 .5-2.8 .5-4.8 .5 1.4 .4 6.3 .5-4.1 .5-2.2 .5-3.5 .4 3.6 .5 3.9 .5-2.6 .5 1.6 .5 1.9 .4-3.3 .5 3.1 .5-.7 .5-3.8 .4 .0 .5 4.1 .5-.7 .5-.1 .4-.9 .5 2.8 .5-3.6 .5 1.6 .4-.3 .5-1.2 .5-.6 .5-1.2 .4 5.2 .5-1.9 .5-.4 .5-1.8 .4 2.3 .5-2.7 .5 1.7 .5-1.9 .4 1.3 .5 .5 .5 .5 .5 1.6 .4 .9 .5-2.3 .5-4.3 .5 2.9 .5 1.2 .4 1.0 .5-6.0 .5 3.9 .5 3.0 .4-.1 .5-.7 .5-3.5 .5 1.0 .4 3.2 .5-.2 .5 1.1 .5-2.8 .4 .0 .5-1.6 .5 1.6 .5-1.6 .4 2.4 .5-1.2 .5-1.1 .5-.9 .4-.2 .5 .3 .5 4.0 .5-2.8 .4 .6 .5-1.9 .5 3.8 .5 3.4 .4-5.5 .5 3.1 .5 .7 .5-3.2 .5-2.3 .4 2.2 .5-1.9 .5 3.5 .5-.1 .4-3.4 .5 .9 .5 1.1 .5-1.6 .4 2.5 .5-1.5 .5 .4 .5-.6 .4 1.5 .5-.2 .5 .1 .5-1.7 .4 .0 .5-.5 .5 3.1 .5-4.1 .4 1.5 .5-3.2 .5 4.2 .5 2.8 .4-3.3 .5-3.6 .5 3.1 .5 1.0 .4-2.1 .5 1.6 .5-.6 .5-2.7 .5 4.4 .4-1.9 .5-.6 .5 1.8 .5-.6 .4-.5 .5-1.5 .5 7.1 .5-4.7 .4-.4 .5 .4 .5-.4 .5 1.3 .4 .6 .5-2.5 .5 3.4 .5-3.4 .4 1.1 .5 2.5 .5-2.2 .5-3.7 .4 3.4 .5 1.3 .5-4.8 .5 1.9 .4 .9 .5-.1 .5 4.8 .5-6.8 .4 1.0 .5 1.8 .5-2.5 .5 2.4 .5 .1 .4-.3 .5-.4 .5 .1 .5-.3 .4 .1 .5-.2 .5-.2 .5-.7 .4 1.6 .5 .1 .5-.2 .5-.1 .4 1.3 .5 1.0 .5-5.2 .5 2.6 .4 .1 .5-2.1 .5 1.7 .5 .3 .4-3.2 .5 3.2 .5-2.0 .5 1.9 .4-1.0 .5-.9 .5-.7 .5 2.8 .4-5.6 .5 5.2 .5-2.6 .5 3.5 .5-.2 .4-2.1 .5 1.2 .5 1.2 .5-2.7 .4 3.1 .5-.8 .5 2.3 .5-2.7 .4-3.7 .5 3.0 .5 .8 .5-.8 .4-.4 .5-.7 .5 1.5 .5-2.4 .4 2.5 .5-2.1 .5 .9 .5 2.1 .4-2.5 .5 1.3 .5-4.6 .5 2.2 .4 .1 .5-2.4 .5 2.0 .5-.6 .4-1.0 .5 1.1 .5-7.7 .5 8.7 .5-5.7 .4 2.9 .5-1.0 .5 .3 .5 .1 .4 .1 .5 1.1 .5 1.2 .5-1.8 .4 .5 .5 .6 .5-.6 .5 2.3 .4 .1 .5-2.4 .5 2.6 .5-1.6 .4 .7 .5 1.3 .5-.2 .5 .6 .4-1.1 .5 2.3 .5-3.0 .5-3.4 .4 4.6 .5 1.3 .5 1.8 .5-2.2 .4-1.8 .5 7.5 .5-4.3 .5-1.4 .5-.2 .4-.6 .5-.3 .5 2.8 .5-2.7 .4 2.6 .5-.9 .5 .7 .5-.8 .4-1.6 .5-3.6 .5 7.1 .5-.1 .4-3.3 .5 1.1 .5 .6 .5 3.0 .4-3.3 .5 .6 .5-5.8 .5 2.6 .4 3.8 .5-.9 .5-2.8 .5 3.5 .4-2.1 .5 3.4 .5 2.9 .5-2.1 .4-4.6 .5 1.6 .5 1.5 .5-1.6 .5-3.3 .4 1.7 .5 1.3 .5-1.1 .5-1.4 .4 1.6 .5 1.3 .5-1.3 .5-1.8 .4-.8 .5-1.1 .5 1.0 .5 .8 .4 1.9 .5-3.8 .5 1.5 .5 2.0 .4-4.2 .5 1.2 .5 4.6 .5-7.6 .4 .8 .5 1.7 .5-4.4 .5-1.2 .4 3.0 .5-.3 .5-.1 .5 .2 .4 1.2 .5-1.0 .5 .6 .5 1.5 .5-1.6 .4 .4 .5 1.4 .5-3.5 .5 3.5 .4-1.3 .5 2.1 .5-4.8 .5 2.3 .4 3.8 .5-.5 .5 1.8 .5-.2 .4 .0 .5 2.1 .5-4.8 .5 6.4 .4-5.2 .5-.6 .5 7.0 .5-5.0 .4 1.6 .5-.1 .5-.4 .5 1.1 .4 2.0 .5-2.1 .5 .7 .5 3.0 .4-3.4 .5-.4 .5 .6 .5 1.3 .5-.5 .4 2.9 .5-4.0 .5 3.4 .5-3.2 .4-4.4 .5 5.3 .5 2.4 .5-3.8 .4 3.2 .5-.6 .5-2.1 .5 1.7 .4-1.7 .5 1.0 .5-.4 .5-1.1 .4 1.0 .5-.1 .5-2.2 .5 4.4 .4-2.6 .5 .1 .5 3.9 .5-3.6 .4 .0 .5 1.9 .5-2.0 .5 3.7 .4-3.3 .5-.3 .5-.2 .5 .0 .5 4.7 .4-4.1 .5-2.7 .5 .2 .5 3.7 .4 1.0 .5 1.3 .5-6.0 .5 1.6 .4 2.4 .5 .0 .5 .0 .5-2.9 .4 2.5 .5-.1 .5 1.3 .5-2.4 .4 .7 .5-1.7 .5 2.1 .5-5.5 .4 6.3 .5-1.1 .5-1.2 .5-.6 .4 1.1 .5 1.0 .5 1.7 .5 1.0 .4-3.5 .5-.8 .5-1.2 .5 2.7 .4-.5 .5-1.4 .5 1.2 .5-.4 .5 1.5 .4-3.6 .5 1.1 .5-.1 .5 1.3 .4-.5 .5 .8 .5-.3 .5-.5 .4 1.2 .5-.5 .5-2.0 .5 1.4 .4 .7 .5 .1 .5-.5 .5-1.3 .4 2.8 .5-1.4 .5 .4 .5 1.3 .4-5.1 .5 1.3 .5 2.8 .5-3.1 .4-3.4 .5 9.7 .5-7.5 .5 4.9 .4 2.7 .5-4.9 .5 .6 .5-2.5 .5 7.6 .4-3.6 .5-3.1 .5-2.1 .5 3.6 .4 4.3 .5-7.6 .5 3.6 .5-.7 .4-3.4 .5-.5 .5-.3 .5 .1 .4 .2 .5-1.3 .5 .3 .5 .5 .4-.2 .5-.1 .5-.3 .5 1.7 .4-2.0 .5 .1 .5 3.7 .5-1.5 .4 .9 .5 1.9 .5-.9 .5 .3 .4-1.2 .5 .2 .5 .9 .5-.2 .5-.7 .4 2.3 .5 .4 .5 1.5 .5-1.8 .4-.4 .5-.4 .5 .3 .5 1.7 .4-.4 .5-3.0 .5 2.5 .5 1.8 .4-.5 .5-1.9 .5 1.8 .5 .2 .4-1.2 .5 1.6 .5-3.6 .5 4.5 .4-1.1 .5-1.9 .5 1.5 .5-1.2 .4 1.2 .5-1.8 .5 1.1 .5-3.1 .4 7.0 .5-3.6 .5 1.5 .5-1.7 .5 .1 .4 1.5 .5 3.4 .5-5.9 .5-.3 .4 1.6 .5-1.0 .5 5.6 .5-5.3 .4-2.3 .5-1.2 .5 4.2 .5-1.4 .4-.3 .5 1.4 .5-1.6 .5 .6 .4 .0 .5 1.5 .5-.3 .5 1.7 .4-3.3 .5 6.3 .5-5.4 .5-.5 .4 3.3 .5-4.3 .5 4.8 .5-7.6 .4 2.7 .5 1.6 .5-.9 .5 1.6 .5-.5 .4-1.2 .5 .7 .5-4.5 .5 6.9 .4-5.3 .5 2.5 .5 2.8 .5-2.2 .4 .1 .5 .3 .5 .3 .5-1.3 .4-1.4 .5 2.3 .5-.4 .5 .4 .4 2.9 .5-3.0 .5-1.5 .5 .7 .4 2.5 .5-2.8 .5 .2 .5 3.6 .4-3.0 .5 .7 .5 2.0 .5-1.0 .4-5.9 .5 4.2 .5 .6 .5-2.3 .5 .3 .4 2.5 .5-.2 .5 3.6 .5-7.4 .4-.2 .5 8.3 .5-4.5 .5-2.9 .4 2.7 .5 .0 .5 .1 .5 .8 .4-.6 .5-.7 .5-.5 .5-.9 .4 5.9 .5-4.8 .5-.6 .5 1.3 .4 .1 .5-.3 .5 1.6 .5-1.6 .4-.7 .5-1.9 .5 .3 .5 1.9 .4-.8 .5-.8 .5 3.1 .5-1.6 .5 1.0 .4 .8 .5-4.7 .5 6.3 .5-3.1 .4-.7 .5 .5 .5-1.1 .5 .6 .4 .9 .5-1.7 .5 1.2 .5-.7 .4 1.9 .5-2.1 .5 1.8 .5-5.7 .4 4.7 .5 .1 .5-.2 .5 .3 .4 1.6 .5-1.6 .5 1.3 .5-.5 .4-2.1 .5 .6 .5-.9 .5 2.7 .4-3.4 .5 3.9 .5-1.5 .5-.3 .5 .3 .4 .0 .5 .2 .5-.2 .5-.8 .4 2.8 .5-1.8 .5 5.1 .5-7.3 .4 4.7 .5-2.5 .5 .2 .5 2.3 .4-5.7 .5 1.5 .5 1.5 .5-.9 .4-3.9 .5 3.9 .5 1.3 .5 .0 .4-4.7 .5 3.5 .5 2.3 .5-1.2 .4-.2 .5 3.6 .5-4.5 .5-1.8 .4 2.7 .5 .1 .5-.3 .5 3.1 .5-2.6 .4-3.3 .5 3.1 .5-3.2 .5 3.0 .4-.2 .5-5.6 .5 4.3 .5 1.0 .4-.4 .5-1.1 .5 2.1 .5 2.6 .4-6.4 .5 4.5 .5-1.6 .5-.3 .4 2.0 .5 1.5 .5 1.7 .5-1.7 .4-4.6 .5-3.2 .5 6.0 .5 .1 .4-2.6 .5 1.8 .5 .2 .5-.8 .4-1.1 .5 1.0 .5-.3 .5-4.7 .5 4.7 .4-.2 .5 1.5 .5-.1 .5 .1 .4-1.3 .5 1.0 .5-2.2 .5 3.0 .4 1.8 .5-1.8 .5-.2 .5-.7 .4 .8 .5-1.1 .5-.8 .5 2.0 .4-1.0 .5 2.5 .5-2.3 .5-.2 .4-3.5 .5 2.3 .5 1.9 .5-1.0 .4 2.8 .5-2.3 .5-1.2 .5-.1 .4 .3 .5-.4 .5 1.2 .5-2.5 .5 2.6 .4-.4 .5 2.1 .5 .1 .5-2.7 .4-.6 .5 1.0 .5 .3 .5 .7 .4 3.1 .5-1.8 .5-2.4 .5 .5 .4 .1 .5 1.6 .5-4.0 .5 3.5 .4-2.2 .5-1.2 .5 6.4 .5-4.9 .4 1.4 .5-1.3 .5-.3 .5 .8 .4-1.1 .5 .0 .5-2.1 .5 3.8 .4 1.8 .5-8.0 .5 4.7 .5 2.6 .5-1.5 .4-2.2 .5 .9 .5-.2 .5-2.5 .4 1.8 .5 .0 .5 1.9 .5 1.0 .4-1.0 .5 .4 .5 1.5 .5-.9 .4-3.2 .5-1.8 .5 6.6 .5-3.5 .4 2.6 .5-3.2 .5 3.3 .5-2.1 .4-3.6 .5 8.9 .5-7.0 .5-2.2 .4 5.3 .5-1.8 .5-3.1 .5-1.3 .4 4.7 .5-1.8 .5 1.6 .5 1.1 .4 2.5 .5-3.8 .5 .9 .5 .5 .5 .5 .4-1.3 .5 1.2 .5-1.3 .5 1.0 .4-.4 .5-.6 .5 2.0 .5-2.5 .4 .2 .5 .4 .5-2.8 .5 3.1 .4-4.3 .5 5.8 .5-2.3 .5 2.5 .4-3.6 .5 2.4 .5-.5 .5-.1 .4 2.1 .5-4.7 .5 4.8 .5-3.2 .4-.1 .5 1.5 .5-.9 .5-1.5 .4 1.9 .5 1.7 .5-7.3 .5 5.2 .5-1.1 .4 2.1 .5 .4 .5-2.8 .5 3.2 .4-2.2 .5 1.6 .5-2.8 .5 1.8 .4 .5 .5-.5 .5 .7 .5 .4 .4 1.5 .5-2.1 .5-1.9 .5 2.4 .4-1.2 .5 .9 .5-.1 .5 1.4 .4-1.7 .5-1.3 .5 .7 .5 .7 .4-.2 .5-1.5 .5 2.7 .5-1.2 .4 .0 .5-1.4 .5 1.1 .5-.8 .5 .3 .4 .1 .5 .8 .5-.7 .5 2.5 .4-1.2 .5 3.4 .5-4.0 .5-.6 .4-.1 .5-3.2 .5 4.2 .5-1.3 .4-3.5 .5 6.5 .5-3.4 .5-1.2 .4 3.1 .5 .2 .5 .0 .5-.7 .4-4.4 .5 4.1 .5 3.3 .5-3.5 .4-.6 .5 .8 .5 .3 .5-1.1 .4 1.7 .5 .5 .5-5.6 .5 1.9 .5 2.2 .4-2.9 .5 1.6 .5 3.1 .5 3.6 .4-3.9 .5-3.1 .5 2.8 .5-1.0 .4 5.2 .5-6.2 .5 2.9 .5-6.8 .4 3.5 .5 3.3 .5-2.2 .5-1.2 .4 1.9 .5-1.3 .5 .9 .5-.6 .4-2.2 .5-.3 .5 5.1 .5-.5 .4-1.9 .5-.9 .5-.8 .5 5.1 .4-3.2 .5-5.7 .5 5.9 .5 .6 .5-1.6 .4 5.0 .5-7.2 .5 .8 .5 2.3 .4-.4 .5-.3 .5 1.1 .5 1.9 .4-.9 .5-.9 .5-1.6 .5 .1 .4-.7 .5 3.2 .5-1.3 .5-.3 .4-2.9 .5 4.2 .5-3.2 .5 1.6 .4 2.8 .5-3.2 .5 .3 .5 3.1 .4-3.7 .5 .5 .5-.2 .5 .1 .4 .0 .5 5.6 .5-4.1 .5-4.7 .5 3.7 .4-5.4 .5 2.5 .5 2.7 .5 .1 .4-1.9 .5 1.1 .5-.2 .5 1.0 .4-1.0 .5-.3 .5 1.7 .5-1.1 .4-2.8 .5 2.0 .5-1.5 .5 .0 .4 1.0 .5 1.2 .5-2.2 .5 .1 .4-.1 .5 .3 .5-.9 .5 .6 .4-.2 .5 1.1 .5-.5 .5 .8 .4 .2 .5 .7 .5 .4"/>
<path stroke="#006ee4" stroke-width="2.3" d="M213.5 864.6l.5 .2 .5 2.0 .4-3.6 .5 2.6 .5 .5 .5-2.1 .4-1.7 .5 2.2 .5 1.3 .5-.3 .4-1.8 .5 1.4 .5 .8 .5-.8 .4 .6 .5 3.3 .5-3.0 .5-1.0 .4-1.0 .5 .9 .5 .5 .5 2.0 .4-1.0 .5-1.6 .5 3.1 .5-2.6 .4 .7 .5-2.7 .5 .0 .5 .9 .4 3.2 .5-1.4 .5 1.0 .5-1.1 .5-.8 .4 .4 .5 .2 .5 1.5 .5-2.0 .4 2.3 .5-1.7 .5 1.1 .5-1.5 .4 .7 .5-1.2 .5 .6 .5-1.2 .4-1.0 .5-1.3 .5 4.2 .5-.8 .4 2.2 .5-.6 .5-1.9 .5 4.3 .4-3.6 .5 .7 .5-1.3 .5-1.0 .4-.1 .5 .0 .5 1.7 .5-2.3 .4-2.3 .5 5.8 .5-3.6 .5 2.0 .5 .1 .4 .4 .5-.3 .5 2.7 .5-1.8 .4-.7 .5 .1 .5-.3 .5 3.5 .4-4.6 .5 1.7 .5-.5 .5-3.4 .4 2.6 .5 3.3 .5-1.5 .5-6.0 .4 4.2 .5-4.6 .5 6.7 .5-3.4 .4-.9 .5 7.4 .5-4.6 .5-.5 .4-2.5 .5 2.8 .5-.1 .5 .5 .4-5.6 .5 3.9 .5 .5 .5 1.0 .5-.5 .4 1.0 .5-1.1 .5 3.1 .5 1.1 .4-6.3 .5 1.7 .5 1.4 .5 .8 .4-3.8 .5 1.5 .5 1.2 .5 .7 .4 1.6 .5-.4 .5-.6 .5-4.2 .4 7.1 .5-3.7 .5-2.7 .5 1.4 .4 1.3 .5-.7 .5 .2 .5 1.4 .4 .2 .5-1.3 .5 1.0 .5-1.4 .4 4.3 .5-3.7 .5 3.4 .5-7.0 .5 5.2 .4-1.7 .5 .5 .5-2.0 .5 1.4 .4-.8 .5-1.4 .5-3.4 .5 7.8 .4-1.7 .5-1.8 .5 .3 .5 .8 .4 1.5 .5-3.3 .5 5.6 .5-.7 .4-3.9 .5 1.4 .5-.9 .5 1.1 .4-3.0 .5 2.3 .5 .3 .5 .2 .4 .2 .5 1.4 .5-3.0 .5-.6 .4 1.3 .5 .5 .5 3.2 .5-2.7 .5 .2 .4 3.0 .5-4.7 .5-.1 .5 .7 .4-.5 .5 1.2 .5 2.7 .5-4.8 .4 1.7 .5 .5 .5-.6 .5 2.4 .4-1.5 .5 1.1 .5-4.0 .5 .8 .4-1.5 .5 4.2 .5 2.1 .5-8.3 .4 5.9 .5-.3 .5 1.5 .5-3.1 .4 1.5 .5-1.7 .5-1.5 .5 3.4 .4-4.2 .5 4.0 .5-1.5 .5 .8 .4 2.1 .5-3.0 .5 .8 .5-.3 .5-.9 .4 1.3 .5-1.3 .5 2.6 .5-.9 .4-1.1 .5 4.7 .5-4.5 .5 1.1 .4 .3 .5-1.7 .5-4.2 .5 7.1 .4 1.2 .5-4.7 .5-.1 .5 1.4 .4 .5 .5 4.8 .5-1.6 .5 1.5 .4-6.0 .5 1.3 .5-.5 .5-.9 .4-1.7 .5 1.3 .5 1.0 .5-1.9 .4 .8 .5-1.7 .5 3.7 .5-.4 .5-1.0 .4 1.1 .5-.3 .5 .7 .5 2.2 .4-3.2 .5 1.0 .5-1.6 .5 3.9 .4-2.4 .5-2.0 .5 .7 .5-.7 .4 .2 .5 .7 .5 2.1 .5-1.5 .4-.7 .5 .5 .5-.6 .5 1.7 .4-3.7 .5 2.1 .5 .2 .5-.8 .4 2.2 .5-2.2 .5 .6 .5-2.2 .4 3.9 .5-1.4 .5 .9 .5-1.7 .5-3.1 .4 3.6 .5 1.7 .5 .4 .5-2.0 .4 2.0 .5-4.7 .5 3.1 .5-1.0 .4 .7 .5-1.0 .5 3.1 .5-2.9 .4 3.7 .5-5.2 .5 1.7 .5-.1 .4 .8 .5-1.5 .5 .3 .5-3.1 .4 1.7 .5 1.0 .5-3.8 .5 1.2 .4-2.1 .5-2.0 .5-2.4 .5 1.6 .4-3.3 .5-3.9 .5-2.6 .5-1.3 .5-1.7 .4-.1 .5 1.9 .5 1.6 .5 3.3 .4 2.2 .5 1.6 .5 2.8 .5 2.9 .4 .7 .5 1.5 .5 .4 .5 4.1 .4-1.7 .5-2.6 .5 3.6 .5 1.4 .4-.9 .5-1.8 .5 .3 .5-.4 .4-2.0 .5 3.1 .5 1.8 .5-.5 .4-.5 .5 1.2 .5-1.1 .5-1.6 .4 2.5 .5-1.7 .5 2.5 .5-2.6 .5-1.7 .4 3.2 .5-2.9 .5 3.9 .5-2.0 .4 1.4 .5-4.2 .5 3.2 .5 .5 .4-2.4 .5 2.2 .5-2.0 .5 1.0 .4 .2 .5 .8 .5-2.1 .5 .4 .4 2.5 .5-.3 .5-.9 .5-.7 .4 1.4 .5-.7 .5-.6 .5 2.5 .4-3.1 .5 2.5 .5-.9 .5 .1 .4 .1 .5 .3 .5 1.0 .5 .5 .5-3.5 .4-.7 .5 3.6 .5-3.5 .5 .0 .4 2.2 .5 2.2 .5-2.5 .5-2.1 .4-1.2 .5 4.9 .5-5.6 .5-1.9 .4-7.8 .5 3.7 .5-1.2 .5 1.1 .4 .6 .5 .8 .5 2.6 .5-.2 .4 2.6 .5 4.1 .5-.7 .5-2.3 .4 3.8 .5-2.5 .5 .6 .5-.6 .4 6.3 .5-6.2 .5 1.6 .5-.5 .5 .3 .4-2.8 .5 2.2 .5 5.4 .5-5.5 .4-1.6 .5-2.1 .5 2.3 .5 1.1 .4-5.6 .5 .3 .5 3.3 .5 .9 .4-2.8 .5-.3 .5-.2 .5 .0 .4 .6 .5-.5 .5 1.7 .5-.9 .4 4.9 .5-1.6 .5-2.4 .5 1.3 .4 3.0 .5-1.6 .5-.4 .5-3.1 .4 4.8 .5-.3 .5 1.4 .5-2.9 .5 2.4 .4 .6 .5 .0 .5-.5 .5-1.0 .4-3.0 .5 3.6 .5-4.4 .5 1.6 .4 2.2 .5-1.7 .5 1.8 .5 1.8 .4-3.0 .5 2.6 .5 4.4 .5-9.1 .4 3.3 .5 1.0 .5 .1 .5-1.6 .4 2.1 .5-1.7 .5-.8 .5 1.3 .4 .3 .5 1.2 .5-1.0 .5-3.0 .4 2.7 .5-.7 .5 1.2 .5-4.0 .5 3.8 .4 .7 .5-4.6 .5-1.3 .5 6.8 .4 .0 .5-3.5 .5 3.9 .5-2.7 .4 .3 .5-.1 .5-.5 .5 2.5 .4-1.6 .5 2.4 .5-2.4 .5 2.2 .4-2.5 .5-.1 .5 .3 .5-5.7 .4 6.5 .5-2.7 .5 4.6 .5-6.2 .4 4.0 .5 .3 .5-.9 .5-2.3 .4 3.5 .5-1.9 .5-.1 .5 1.4 .5 3.2 .4-6.1 .5 2.0 .5 .8 .5-1.4 .4 3.3 .5-2.2 .5-2.9 .5 1.0 .4-.2 .5 1.6 .5 2.4 .5-4.3 .4 .4 .5 .4 .5 1.4 .5-.5 .4 .0 .5-1.5 .5 3.1 .5-1.5 .4 1.8 .5-5.6 .5 3.7 .5-.4 .4 2.0 .5-1.0 .5-.6 .5-1.7 .4 2.1 .5 1.5 .5-1.1 .5 2.5 .5-3.5 .4-1.0 .5-.6 .5 2.2 .5 .0 .4-1.1 .5 .4 .5-1.5 .5 1.4 .4-1.5 .5-2.3 .5 .5 .5-.6 .4-3.1 .5 3.1 .5-3.2 .5-5.1 .4-1.3 .5-7.3 .5 6.9 .5-3.2 .4-.1 .5 .4 .5-.7 .5 2.1 .4 2.2 .5 4.1 .5 .1 .5 .1 .4 6.6 .5-2.2 .5-2.0 .5 7.9 .5-3.0 .4-.3 .5-1.2 .5 2.7 .5-2.7 .4 5.4 .5-1.8 .5-.1 .5 .4 .4 .8 .5-1.7 .5 1.5 .5-3.4 .4 2.8 .5 .3 .5-2.0 .5-.9 .4 4.5 .5-.3 .5-4.1 .5 2.4 .4-1.7 .5 .2 .5 3.9 .5-2.1 .4 .5 .5-1.8 .5 1.9 .5-.5 .4-1.1 .5 .5 .5-.9 .5 1.2 .4-1.6 .5 1.2 .5 1.8 .5-1.2 .5-.2 .4-2.3 .5 3.4 .5-1.0 .5 2.7 .4-.4 .5 .0 .5-2.6 .5 .9 .4-3.2 .5-1.2 .5 4.5 .5-.7 .4 2.5 .5-3.8 .5 .6 .5 1.2 .4-.9 .5 1.2 .5-2.0 .5 1.8 .4 .0 .5 .4 .5-2.7 .5 2.4 .4-3.3 .5 .7 .5 3.9 .5-4.5 .4-.6 .5-1.3 .5 .0 .5-.6 .5 .2 .4-1.0 .5-.4 .5 .0 .5 1.2 .4-.7 .5-1.3 .5 1.4 .5 1.6 .4-1.0 .5 3.7 .5-1.7 .5 .9 .4 .3 .5-1.8 .5 4.5 .5-.9 .4-3.2 .5 2.0 .5 .0 .5-.6 .4 .3 .5-.5 .5 1.4 .5-.7 .4-1.9 .5 1.1 .5-.6 .5 2.1 .4-.3 .5-.5 .5 .4 .5 .2 .5-1.6 .4-1.9 .5 6.5 .5-5.0 .5 .3 .4 1.7 .5 4.1 .5-7.0 .5 1.5 .4 1.8 .5-4.4 .5 1.3 .5 1.1 .4 .9 .5-4.2 .5 1.5 .5 .0 .4-1.0 .5-1.0 .5 4.9 .5-2.4 .4-8.5 .5-2.0 .5-1.9 .5-5.4 .4-2.8 .5-.9 .5-.1 .5-6.2 .4-1.2 .5 .1 .5 .8 .5-3.7 .5 6.9 .4 9.0 .5-1.8 .5 6.2 .5 1.8 .4 3.7 .5 .7 .5 .4 .5 1.1 .4 1.1 .5 .8 .5 .7 .5 .7 .4 1.5 .5 .0 .5-2.6 .5 2.8 .4 3.2 .5 .3 .5-3.4 .5-.9 .4 1.0 .5-1.0 .5 1.0 .5 3.6 .4-.6 .5-2.0 .5 .4 .5 .6 .4 .0 .5 .0 .5 .2 .5-.5 .5-2.1 .4 2.5 .5-.1 .5-2.1 .5 .3 .4 1.7 .5-.8 .5 1.7 .5-2.1 .4 1.3 .5-.2 .5-2.4 .5 1.3 .4 .3 .5-.3 .5-1.7 .5 1.3 .4 1.1 .5-1.2 .5 1.4 .5-.7 .4 .0 .5-1.2 .5 2.3 .5-3.9 .4 5.4 .5-3.0 .5 2.5 .5-3.3 .4-1.1 .5-.5 .5 2.5 .5-3.7 .5-1.4 .4-2.7 .5-1.5 .5 .1 .5-1.3 .4-.4 .5-2.1 .5 .1 .5-.1 .4 .8 .5 1.8 .5 3.7 .5-2.7 .4 1.8 .5 3.6 .5 .4 .5-1.7 .4 3.9 .5 3.5 .5-2.1 .5 5.2 .4-4.5 .5-1.3 .5 2.0 .5-.9 .4-2.4 .5 2.0 .5 3.6 .5-2.5 .4-.8 .5 1.2 .5-.1 .5-2.1 .5 1.4 .4 1.5 .5-3.3 .5 2.1 .5-2.1 .4 1.2 .5 1.8 .5-1.4 .5 1.8 .4-.6 .5-.4 .5-2.0 .5 1.4 .4 2.1 .5-1.5 .5-3.1 .5 2.6 .4-.1 .5 .1 .5-.3 .5 1.6 .4-1.2 .5 1.6 .5 1.5 .5-1.2 .4-1.1 .5-5.3 .5-1.3 .5 4.1 .4 1.5 .5-.8 .5-1.1 .5 4.4 .5-2.9 .4-1.0 .5 1.2 .5 4.4 .5-3.7 .4 1.8 .5-4.6 .5 2.8 .5-1.4 .4 .0 .5 .3 .5 .0 .5 1.3 .4-1.9 .5 .5 .5-.1 .5 .5 .4-.2 .5-3.4 .5 4.8 .5-1.2 .4-2.2 .5 1.6 .5 2.2 .5-.3 .4-2.3 .5-.8 .5 4.1 .5-2.4 .4-.4 .5-.9 .5 1.9 .5-3.2 .5 2.6 .4-.3 .5-1.5 .5-.7 .5 .8 .4-1.4 .5-.3 .5-1.1 .5 1.6 .4-3.5 .5 1.0 .5-.8 .5 4.9 .4-8.1 .5 1.9 .5-.6 .5 .2 .4-.2 .5 2.1 .5-.3 .5-1.4 .4 1.8 .5-.1 .5 1.3 .5 2.1 .4-1.2 .5 5.4 .5-2.3 .5-3.3 .4-.5 .5 2.6 .5-.9 .5-.4 .5 3.6 .4-2.3 .5-1.0 .5 1.0 .5 .0 .4 1.2 .5-1.5 .5 .2 .5-1.6 .4 3.3 .5 .8 .5-8.1 .5 6.6 .4 3.0 .5-2.3 .5-.5 .5-2.5 .4 6.6 .5-6.0 .5 2.1 .5-.7 .4-.8 .5 3.2 .5-.3 .5-3.7 .4-.1 .5 2.3 .5-2.7 .5 1.9 .4-3.2 .5-.1 .5 .3 .5-.7 .5 .1 .4-1.5 .5-1.1 .5 .5 .5-2.1 .4-.3 .5-1.5 .5 1.5 .5-6.9 .4-3.3 .5-2.1 .5-9.8 .5-8.3 .4-6.3 .5-6.6 .5-7.1 .5-1.9 .4 2.1 .5 5.7 .5 8.1 .5 7.0 .4 5.4 .5 6.7 .5 2.4 .5 10.4 .4 1.2 .5 5.0 .5-2.3 .5 2.1 .4 1.0 .5-1.4 .5 2.6 .5 .6 .5-.2 .4-.1 .5-.3 .5-1.5 .5 3.2 .4-1.6 .5-1.3 .5 7.5 .5-2.7 .4-2.8 .5 .3 .5-1.4 .5 6.2 .4-6.3 .5 1.9 .5-1.4 .5-7.1 .4-.5 .5 1.6 .5-7.6 .5 3.4 .4-3.5 .5-10.8 .5-5.7 .5-2.0 .4 1.4 .5 5.5 .5 3.3 .5 5.7 .4 6.2 .5 3.9 .5 .0 .5 4.1 .4-2.3 .5-2.5 .5-1.7 .5-3.3 .5-.1 .4-6.0 .5-3.0 .5-9.4 .5-5.8 .4-7.8 .5-4.4 .5 .3 .5 4.5 .4 1.0 .5 14.2 .5 2.0 .5 8.7 .4 4.3 .5 4.7 .5-.1 .5 3.8 .4 1.8 .5-1.1 .5 1.4 .5-.2 .4 1.5 .5 1.3 .5-2.2 .5-5.8 .4 8.3 .5-2.8 .5-2.2 .5 2.0 .4-1.7 .5-2.2 .5 .1 .5-.1 .5-2.5 .4-3.0 .5-3.5 .5 1.2 .5-.7 .4-4.1 .5-1.9 .5-1.6 .5-2.1 .4-.1 .5-1.4 .5 1.9 .5-5.9 .4-.9 .5 3.3 .5-22.0 .5 .9 .4-7.8 .5-15.8 .5-18.6 .5-13.2 .4-27.9 .5-21.6 .5-29.6 .5-13.7 .4-26.5 .5-5.1 .5-1.4 .5 11.1 .4 17.7 .5 25.7 .5 24.1 .5 30.7 .5 17.8 .4 10.0 .5 29.7 .5 16.2 .5 10.6 .4-2.5 .5 7.4 .5 5.7 .5-.6 .4 5.2 .5 1.3 .5 4.5 .5-6.6 .4 9.5 .5-5.6 .5 4.3 .5 .2 .4 .7 .5 1.1 .5 5.2 .5-3.9 .4 4.5 .5 2.1 .5-2.1 .5 2.1 .4 .7 .5 3.9 .5-3.9 .5 1.7 .4 1.6 .5-2.1 .5 1.3 .5 2.5 .5-.4 .4-.1 .5 1.9 .5-2.9 .5 3.8 .4-3.3 .5 3.3 .5-1.8 .5-.2 .4-.6 .5 .6 .5-2.2 .5 1.4 .4-3.5 .5 2.4 .5 3.5 .5-.8 .4-5.3 .5 2.1 .5-1.2 .5-.1 .4 .2 .5 .3 .5 .3 .5 4.1 .4-1.9 .5-2.3 .5 3.3 .5-.5 .4 6.1 .5-6.5 .5 2.1 .5-.7 .5-1.0 .4-.8 .5 4.4 .5-7.1 .5 3.9 .4 .8 .5-.8 .5 .8 .5-1.8 .4 2.5 .5-1.2 .5 .0 .5 3.6 .4-6.3 .5 1.2 .5-1.9 .5 .7 .4 .6 .5 .1 .5-.2 .5 .4 .4 .3 .5-.3 .5 2.5 .5-2.0 .4 5.5 .5-.6 .5-3.8 .5 4.2 .4-2.1 .5-.7 .5 .6 .5 1.2 .5 2.4 .4-1.0 .5 1.3 .5-3.6 .5-5.2 .4 4.0 .5 1.5 .5-1.8 .5 2.5 .4-2.0 .5 1.3 .5 .1 .5 3.1 .4-2.4 .5-1.9 .5 3.0 .5 1.9 .4-2.0 .5-6.4 .5 7.2 .5-2.7 .4 2.6 .5 .0 .5-.8 .5-3.2 .4 2.2 .5-1.4 .5 3.0 .5-3.9 .4 2.6 .5 1.1 .5 .5 .5-1.7 .5-2.2 .4 4.4 .5-2.7 .5 .7 .5-5.6 .4 4.9 .5 3.7 .5-2.1 .5-.1 .4-.6 .5-2.0 .5 .6 .5 4.4 .4-5.4 .5 2.6 .5-1.0 .5 1.3 .4-2.6 .5-.5 .5 2.2 .5-1.1 .4 2.1 .5 4.4 .5-7.5 .5 .8 .4-.6 .5 1.0 .5-.8 .5 1.3 .4-.8 .5 .3 .5 1.6 .5-.1 .5-3.5 .4 .4 .5 .8 .5-.5 .5-4.2 .4 4.4 .5-.2 .5-2.2 .5-2.9 .4 1.6 .5-5.7 .5-2.3 .5 .7 .4-3.7 .5 3.0 .5-10.3 .5-2.0 .4-.1 .5 1.8 .5 2.1 .5-5.3 .4 6.8 .5 7.5 .5-3.3 .5-.9 .4-2.1 .5 .2 .5-.8 .5-.3 .4 .8 .5-2.3 .5 .3 .5-6.0 .5-2.2 .4-3.6 .5-6.9 .5-10.1 .5-16.7 .4-5.1 .5-22.6 .5-12.5 .5-11.1 .4-5.0 .5 4.4 .5 11.9 .5 25.6 .4 6.7 .5 13.0 .5 14.1 .5 9.3 .4 5.2 .5 7.6 .5 6.7 .5 3.8 .4 1.6 .5 1.1 .5-.9 .5 5.7 .4-1.5 .5 3.0 .5 3.1 .5-1.2 .4-.9 .5-3.2 .5 4.3 .5 4.3 .5-5.5 .4 2.5 .5-1.6 .5 1.1 .5-.5 .4-1.9 .5 .3 .5-3.0 .5-.5 .4 .2 .5 .3 .5-3.2 .5 .1 .4-4.6 .5-1.2 .5-5.9 .5-6.5 .4-5.9 .5-2.3 .5-2.2 .5-.6 .4 1.7 .5 11.8 .5 .1 .5 2.1 .4 .0 .5 7.8 .5 4.4 .5 6.8 .4-7.0 .5 7.2 .5 4.0 .5 1.1 .5-2.8 .4 1.4 .5-.1 .5-5.1 .5 4.2 .4 4.1 .5-5.2 .5 .9 .5 2.1 .4 1.9 .5-2.7 .5 .8 .5 4.1 .4-3.0 .5-6.9 .5 5.5 .5-3.2 .4 5.2 .5-3.4 .5 .7 .5-3.8 .4-4.8 .5 .1 .5-3.4 .5 1.5 .4-1.5 .5-1.0 .5 .9 .5 .3 .4 2.4 .5 1.9 .5 2.0 .5-2.7 .5 3.9 .4 .2 .5 3.5 .5-.2 .5 6.2 .4-5.3 .5-1.8 .5-1.2 .5 2.4 .4 .2 .5-4.4 .5 .8 .5 2.1 .4-3.3 .5-7.5 .5-.2 .5-1.3 .4-3.0 .5-.8 .5 .6 .5 1.7 .4 2.4 .5 8.4 .5-.9 .5 6.9 .4-3.2 .5 4.1 .5-3.2 .5 4.0 .4-2.2 .5 1.7 .5-2.3 .5 3.5 .4-2.1 .5 3.5 .5-3.5 .5 .5 .5 .5 .4 2.0 .5-1.0 .5-1.7 .5 .9 .4 1.7 .5 .5 .5-1.1 .5-1.5 .4 3.2 .5-2.9 .5 1.2 .5 .5 .4-.7 .5-3.7 .5 1.9 .5 2.3 .4-.6 .5 1.1 .5-.9 .5-.1 .4 1.3 .5 .6 .5-3.4 .5 2.2 .4 2.1 .5-5.7 .5 1.7 .5 .2 .4-.1 .5 1.5 .5-7.8 .5 2.6 .5 3.7 .4-2.5 .5 .1 .5-2.4 .5 4.3 .4-5.1 .5-4.8 .5 3.4 .5-4.8 .4-4.3 .5-3.0 .5-1.5 .5 .2 .4 .2 .5 1.8 .5 3.6 .5-.7 .4 6.7 .5 1.8 .5 1.8 .5 .3 .4 .7 .5 2.7 .5 4.0 .5-4.1 .4 2.3 .5-4.1 .5 2.5 .5-2.5 .4-.2 .5-3.9 .5 6.5 .5-4.7 .5 .2 .4 .1 .5 .2 .5 1.4 .5-2.5 .4 .7 .5 2.4 .5 3.8 .5 .1 .4 1.1 .5-1.8 .5-5.4 .5 6.2 .4-1.0 .5-.9 .5 1.2 .5 1.6 .4-.5 .5 .7 .5-.4 .5-.1 .4-.1 .5 1.0 .5-.5 .5 .0 .4-1.0 .5-.6 .5 2.2 .5-.6 .4 .6 .5-1.6 .5-4.0 .5 5.7 .5-2.5 .4 2.4 .5-4.0 .5 .8 .5 .3 .4 .3 .5 3.0 .5-5.4 .5 3.4 .4 .9 .5-.1 .5 .5 .5-.5 .4-1.8 .5-.7 .5 3.6 .5-1.9 .4-.9 .5 .9 .5-1.1 .5 2.9 .4-2.2 .5 1.4 .5-.5 .5 .5 .4 2.4 .5-2.6 .5-1.7 .5 2.4 .4-1.3 .5-.2 .5 2.2 .5-2.4 .5 .3 .4 .6 .5 1.2 .5 .0 .5-1.4 .4-5.2 .5 .0 .5 3.6 .5 7.5 .4-5.7 .5 .2 .5 .6 .5-.7 .4-1.5 .5 2.3 .5-2.1 .5 .8 .4-3.6 .5 4.6 .5 .8 .5-1.8 .4-2.4 .5 2.5 .5-1.0 .5 .3 .4 1.7 .5-.1 .5-.1 .5-.6 .4 .6 .5-.4 .5-.3 .5-2.0 .5 4.2 .4-2.2 .5 1.9 .5 .5 .5-2.3 .4 .8 .5-.5 .5 1.2 .5 3.7 .4-10.5 .5 7.4 .5-2.9 .5-.1 .4 1.9 .5-1.7 .5 1.0 .5-1.8 .4-3.1 .5 4.8 .5-1.5 .5 3.9 .4-6.3 .5 2.0 .5 4.7 .5-3.7 .4 1.3 .5-3.9 .5 4.2 .5-.6 .4 1.3 .5-.7 .5-.2 .5-.6 .5 .3 .4 .8 .5-1.4 .5 .9 .5-2.3 .4 3.5 .5-1.4 .5-2.0 .5 .6 .4 .5 .5-2.1 .5 2.6 .5 .0 .4 .1 .5-.4 .5-1.0 .5 2.1 .4-1.1 .5-5.4 .5 6.5 .5-4.4 .4 3.8 .5-.3 .5 2.3 .5-.2 .4-2.8 .5 .7 .5-2.2 .5 1.9 .4-.8 .5 .4 .5-.2 .5 2.7 .5-2.2 .4 1.2 .5-1.8 .5-.5 .5 3.7 .4-4.1 .5-2.8 .5 1.9 .5 1.8 .4-1.4 .5 .9 .5-1.0 .5 1.0 .4-4.9 .5 2.8 .5-4.8 .5-.3 .4 1.7 .5-6.0 .5-1.3 .5-3.1 .4-2.9 .5-.5 .5-1.0 .5-.8 .4 1.7 .5 1.1 .5 4.6 .5 .5 .4 1.7 .5 1.6 .5 5.1 .5 .5 .5 .2 .4-1.2 .5 2.9 .5-2.5 .5 1.5 .4 2.0 .5-2.1 .5 .2 .5 3.2 .4 1.3 .5-2.2 .5 2.7 .5-3.1 .4 1.5 .5-.1 .5 1.6 .5-.9 .4 .0 .5-2.7 .5 1.2 .5 .5 .4 1.6 .5 1.0 .5 .7 .5-.9 .4-.2 .5 .0 .5-1.1 .5-3.6 .4 .9 .5-.9 .5 3.6 .5-.2 .5-2.5 .4 .7 .5-1.1 .5 3.2 .5-.8 .4-.8 .5-.7 .5-.8 .5-.7 .4-2.5 .5 1.1 .5-.9 .5-1.2 .4-5.1 .5 3.5 .5-4.8 .5-3.2 .4-5.5 .5-2.6 .5-3.5 .5-6.2 .4-.8 .5-2.0 .5-.1 .5 1.8 .4 3.4 .5 7.7 .5 .4 .5-4.0 .4 7.3 .5 6.2 .5 2.9 .5 2.8 .5 1.1 .4 1.5 .5-1.6 .5 5.5 .5-.9 .4 3.5 .5 .0 .5 1.6 .5-2.8 .4-3.3 .5 3.0 .5 .5 .5-.9 .4-2.5 .5 4.7 .5 .4 .5-2.4 .4-3.9 .5 6.3 .5-.2 .5-2.3 .4 .5 .5 .4 .5 1.6 .5 1.3 .4-.3 .5-2.8 .5 .9 .5 .7 .4 .3 .5-1.4 .5 .6 .5 .8 .5 .2 .4 .5 .5-.8 .5-4.2 .5 3.1 .4 1.2 .5-.8 .5 5.3 .5-5.6 .4 2.8 .5-3.0 .5 2.3 .5-.4 .4 4.9 .5-5.0 .5 2.0 .5-.6 .4-2.4 .5 .6 .5-2.3 .5 1.0 .4 3.1 .5-3.2 .5 .7 .5-.8 .4 2.7 .5-3.0 .5 1.9 .5-1.8 .4 3.1 .5-3.3 .5 2.0 .5 3.0 .4-2.8 .5-.4 .5 .7 .5-1.2 .5-1.9 .4 2.9 .5 1.0 .5-2.9 .5 .8 .4 1.5 .5-2.4 .5 .1 .5 .0 .4-1.3 .5 3.7 .5-2.0 .5-.2 .4 .1 .5 .4 .5-2.3 .5 3.3 .4-10.4 .5 4.1 .5-1.2 .5 1.1 .4-.1 .5-.8 .5-.3 .5-1.4 .4 .0 .5 .3 .5 .6 .5-5.6 .4 6.9 .5 1.6 .5-3.1 .5 3.0 .5-.4 .4 .1 .5 2.2 .5 .8 .5-1.5 .4 2.8 .5 .3 .5 5.3 .5-4.7 .4-5.1 .5 2.7 .5 4.4 .5-4.0 .4 .5 .5 1.1 .5 1.4 .5-1.3 .4-4.1 .5 3.8 .5 3.9 .5-4.4 .4 1.7 .5-1.3 .5-2.4 .5 2.6 .4 .4 .5 1.9 .5-3.2 .5 3.3 .4-3.7 .5 1.2 .5 .4 .5 3.6 .5-3.8 .4-.2 .5-3.1 .5 2.6 .5 1.4 .4 .4 .5-1.1 .5 3.0 .5-6.5 .4 4.1 .5-.9 .5 .3 .5-.7 .4-1.3 .5 .0 .5-.7 .5 2.3 .4 4.3 .5-6.8 .5 3.4 .5-1.7 .4-1.9 .5-1.4 .5-.3 .5 4.9 .4-4.6 .5 4.8 .5-7.6 .5-1.7 .4 1.4 .5-1.0 .5 .4 .5 .2 .5 2.1 .4-.4 .5-6.2 .5 3.1 .5-1.4 .4 6.9 .5 .8 .5 .5 .5 2.4 .4-2.9 .5 1.7 .5 2.1 .5-.9 .4-.9 .5-2.2 .5 .5 .5 6.1 .4-5.2 .5-1.7 .5 4.8 .5-1.0 .4-.2 .5 .6 .5-1.4 .5 .6 .4-.4 .5-.7 .5 2.2 .5-1.0 .4 .0 .5 .6 .5 .3 .5 .6 .5-.5 .4-1.4 .5-1.8 .5 2.9 .5-1.6 .4 .9 .5 2.2 .5-4.9 .5 2.5 .4-.8 .5 1.2 .5 .0 .5-1.0 .4 3.7 .5-2.7 .5-2.2 .5 3.0 .4-.7 .5-1.0 .5 1.3 .5-.2 .4-1.7 .5 2.7 .5-2.1 .5-3.8 .4 1.3 .5-3.6 .5 4.6 .5-3.2 .4 1.2 .5-1.0 .5-4.5 .5 8.1 .5-4.8 .4 1.1 .5-9.5 .5-2.9 .5-3.8 .4 3.7 .5-5.0 .5-.8 .5-.9 .4 3.9 .5 .2 .5 3.1 .5 4.4 .4 2.5 .5 .7 .5 3.7 .5-.5 .4 1.1 .5 1.6 .5 .5 .5-.3 .4 2.3 .5 .1 .5-1.9 .5 2.1 .4 .0 .5 .3 .5 .2 .5 .6 .4-.7 .5 .3 .5 2.2 .5-5.1 .5 4.0 .4-3.9 .5-1.4 .5 6.4 .5-3.9 .4-.6 .5 4.1 .5-2.0 .5 .5 .4 .4 .5-.2 .5 .8 .5-1.0 .4 1.4 .5-1.8 .5-1.3 .5 3.0 .4 2.0 .5-1.5 .5-4.1 .5 2.4 .4 .5 .5-.2 .5 1.2 .5 3.8 .4-4.9 .5 1.6 .5-2.5 .5 .5 .4 2.1 .5-3.3 .5 1.3 .5 .2 .5-1.2 .4 1.6 .5 .0 .5-.7 .5-1.5 .4 .2 .5 1.0 .5-1.3 .5 1.8 .4 .1 .5-3.4 .5 2.8 .5 .1 .4-.2 .5 .6 .5-.7 .5-2.3 .4 .6 .5 1.4 .5 .4 .5-2.5 .4 .8 .5-2.1 .5 2.6 .5 .4 .4-5.2 .5 4.7 .5-2.6 .5-.1 .4-.2 .5 2.2 .5-3.4 .5 1.3 .5 4.2 .4-6.2 .5-.8 .5-.8 .5-1.4 .4-6.2 .5 3.6 .5-1.3 .5-2.3 .4 1.4 .5-3.9 .5-1.3 .5-2.6 .4 .9 .5-1.0 .5 .7 .5-3.8 .4-.8 .5-1.7 .5-.1 .5-3.1 .4-.6 .5-1.6 .5-.8 .5-.9 .4-4.1 .5-1.6 .5-1.1 .5-.1 .4 1.1 .5-.2 .5 2.6 .5 .4 .5 4.2 .4-1.6 .5-.3 .5 1.7 .5 .5 .4-2.6 .5-2.3 .5 3.1 .5-.3 .4 1.4 .5 1.2 .5 2.5 .5 4.6 .4 .4 .5 5.3 .5 .1 .5-1.0 .4 5.9 .5 1.6 .5 1.7 .5 2.0 .4 3.4 .5 .4 .5 .8 .5-1.8 .4 3.1 .5 .7 .5-1.8 .5 4.8 .4-3.3 .5 2.5 .5-1.6 .5 .2 .5 .9 .4 .6 .5-1.8 .5 1.8 .5-2.5 .4 .9 .5 .8 .5-5.0 .5 7.2 .4-1.5 .5-1.3 .5 1.8 .5-1.1 .4-.7 .5 1.1 .5-.6 .5 .0 .4 3.7 .5-5.4 .5 2.8 .5 .1 .4-.1 .5 3.7 .5-8.1 .5 5.3 .4-4.2 .5 .2 .5 2.0 .5 .1 .4-.3 .5-1.3 .5 4.9 .5-3.4 .5-2.2 .4 2.4 .5-5.1 .5 2.3 .5-3.5 .4-6.5 .5 6.8 .5-2.2 .5 .1 .4-.1 .5 1.2 .5 1.2 .5 1.9 .4-2.2 .5 .8 .5 5.2 .5-3.4 .4-.5 .5 4.2 .5-2.2 .5 2.3 .4-.8 .5 1.7 .5-.7 .5 2.0 .4-2.2 .5-2.9 .5 3.7 .5-2.7 .4 2.2 .5 .2 .5 .1 .5-.2 .4 .7 .5 1.3 .5-3.3 .5 4.1 .5-3.2 .4 3.0 .5-.3 .5-.7 .5-.2 .4-2.6 .5 5.7 .5-2.4 .5-1.4 .4-.4 .5 4.1 .5-2.3 .5 1.1 .4-.2 .5-4.6 .5 5.3 .5-1.3 .4-.6 .5 .1 .5 .0 .5 1.8 .4-2.6 .5-1.8 .5 1.2 .5 2.2 .4-1.1 .5 .0 .5 3.1 .5-2.7 .4-2.7 .5 2.2 .5 .3 .5 4.5 .5-6.2 .4 2.7 .5 .3 .5-2.9 .5 5.0 .4-4.0 .5-1.8 .5 5.4 .5 1.1 .4-3.8 .5-1.1 .5-2.2 .5 6.1 .4-2.9 .5 4.2 .5-3.8 .5 .7 .4-1.2 .5-.2 .5 .6 .5-3.9 .4 3.4 .5 .8 .5-1.7 .5-.3 .4 1.0 .5-.3 .5 1.7 .5-2.9 .4 3.6 .5-3.3 .5 .6 .5 1.1 .5-.6 .4-.1 .5-2.5 .5 .6 .5 4.1 .4 3.8 .5-2.4 .5-2.9 .5-1.3 .4 1.2 .5 .5 .5-.5 .5 .6 .4-.7 .5 1.2 .5 .7 .5-.8 .4-.4 .5 2.7 .5-2.7 .5-3.3 .4 8.2 .5-2.8 .5-4.1 .5 .2 .4 4.3 .5-3.1 .5 1.4 .5-.3 .4 .6 .5-2.0 .5 1.8 .5-1.4 .5-.5 .4 .1 .5 2.8 .5-3.1 .5 2.7 .4-1.5 .5-1.3 .5-1.7 .5 3.9 .4-4.1 .5 5.4 .5-3.7 .5 3.7 .4-7.5 .5 1.5 .5 4.9 .5-3.3 .4 .0 .5 1.2 .5 .0 .5-1.4 .4 3.2 .5-4.3 .5 .4 .5 6.1 .4-4.5 .5-2.6 .5 .3 .5 1.5 .4 .1 .5 2.3 .5-2.5 .5-.1 .5 .0 .4-.7 .5 .1 .5 2.2 .5-.6 .4-2.3 .5-3.0 .5 2.6 .5-2.2 .4 1.5 .5-2.3 .5-1.9 .5-2.6 .4-.7 .5 1.6 .5-5.0 .5-3.8 .4-1.1 .5-3.9 .5-1.3 .5-.5 .4-.6 .5 .6 .5 .6 .5 .7 .4 5.2 .5-.4 .5 4.6 .5 2.3 .4-5.8 .5 14.8 .5 1.4 .5-6.3 .5 2.0 .4 4.4 .5-3.1 .5 1.3 .5-1.2 .4 4.2 .5-1.7 .5 3.4 .5 2.6 .4-4.8 .5-.4 .5-2.0 .5 4.0 .4 3.1 .5-7.3 .5 4.7 .5-2.4 .4 1.0 .5-.2 .5 .7 .5-.7 .4 2.9 .5-5.8 .5 4.0 .5 .2 .4 2.9 .5-3.1 .5-.4 .5-1.1 .4 .7 .5 2.0 .5-6.4 .5 7.0 .5-.3 .4-1.6 .5 1.5 .5-2.3 .5-.5 .4 2.4 .5-.2 .5-1.2 .5 1.2 .4-2.5 .5-1.5 .5 4.8 .5-1.5 .4 1.0 .5-.8 .5-.2 .5 2.5 .4 .5 .5-3.0 .5-.4 .5 .0 .4 1.8 .5-1.9 .5 .5 .5-3.3 .4 2.5 .5 2.7 .5 .9 .5 2.9 .4-6.5 .5 1.2 .5 .0 .5 1.6 .5-2.1 .4 2.4 .5-2.9 .5 .5 .5-.9 .4-.6 .5 2.4 .5 .5 .5-1.2 .4 1.3 .5-.9 .5 1.1 .5-1.6 .4-.4 .5 1.3 .5-1.8 .5 2.2 .4 .2 .5-2.3 .5 1.6 .5-.5 .4 1.8 .5-4.5 .5 1.3 .5 .6 .4 2.2 .5-2.5 .5 .5 .5 .6 .4 1.3 .5-.3 .5-3.7 .5 2.4 .5 2.7 .4-2.7 .5-1.0 .5-.5 .5 1.5 .4 .7 .5 3.1 .5-1.6 .5 .4 .4-3.8 .5-.4 .5 1.3 .5 1.2 .4-.7 .5 1.8 .5-1.6 .5 4.7 .4-4.4 .5-.7 .5 .1 .5 1.4 .4-1.3 .5-.1 .5-1.4 .5 2.6 .4-1.1 .5-1.7 .5 1.6 .5 .7 .4 .7 .5 1.9 .5-4.4 .5 1.3 .5-.9 .4 .4 .5 .6 .5 .4 .5-4.7 .4 1.9 .5 3.5 .5-1.7 .5-3.3 .4 3.7 .5-.3 .5-.4 .5 3.1 .4-1.2 .5-1.4 .5 1.4 .5 .8 .4-3.0 .5-.8 .5 1.2 .5 .7 .4 2.1 .5-1.5 .5-.3 .5-.8 .4 .7 .5-1.2 .5-4.6 .5 3.6 .4 1.3 .5-.3 .5 2.5 .5-1.2 .5 .0 .4-2.0 .5 1.6 .5-2.0 .5 1.9 .4-2.8 .5 .4 .5-1.2 .5 2.4 .4 .1 .5 1.8 .5-3.0 .5-.2 .4-.5 .5 1.6 .5-1.9 .5 1.2 .4-.7 .5-.9 .5-.6 .5 1.6 .4 1.0 .5-3.8 .5 .5 .5 1.8 .4-4.0 .5-1.7 .5 3.6 .5-2.0 .4 .5 .5 .2 .5-.8 .5 .1 .5-.1 .4 3.8 .5-3.5 .5 .5 .5 1.4 .4-1.5 .5 3.1 .5-2.3 .5 2.1 .4 1.2 .5-5.7 .5 4.5 .5 .5 .4 2.0 .5-1.6 .5 1.3 .5-1.9 .4 1.2 .5 1.1 .5-2.3 .5 .1 .4-.7 .5 1.4 .5 .3 .5 .5 .4 .7 .5-2.2 .5 1.6 .5-.4 .4 1.4 .5-.1 .5 .9 .5-.1 .4-1.9 .5 1.4 .5-1.1 .5 .2 .5 .7 .4-.9 .5 1.9 .5-4.6 .5 5.5 .4-2.9 .5 .4 .5-3.0 .5 1.9 .4-2.6 .5 4.7 .5-2.8 .5 4.5 .4-2.8 .5-3.1 .5-5.2 .5 4.0 .4-2.0 .5 5.0 .5-5.2 .5 2.1 .4-5.5 .5 1.0 .5-5.3 .5 .3 .4-2.6 .5-1.8 .5-1.7 .5 .7 .4-5.0 .5-6.4 .5-1.3 .5-2.0 .5-.8 .4 .4 .5 2.3 .5 1.7 .5 11.0 .4-4.7 .5 4.4 .5-.7 .5 7.9 .4 .6 .5-.6 .5 4.8 .5-1.4 .4 3.6 .5 4.0 .5-2.7 .5 1.1 .4 1.6 .5-2.9 .5 .3 .5 1.0 .4 7.7 .5-3.8 .5 .0 .5-1.1 .4 .8 .5-.7 .5 2.1 .5-.3 .4-2.9 .5 1.3 .5 .7 .5 1.5 .5-2.8 .4 3.4 .5-.5 .5-2.8 .5 2.0 .4 2.2 .5-.1 .5-.9 .5-3.7 .4 4.8 .5-3.2 .5-1.5 .5-1.0 .4 3.6 .5-.6 .5 .0 .5-1.0 .4 1.4 .5 .5 .5-.9 .5-1.9 .4-.7 .5 3.0 .5-1.6 .5-2.2 .4 4.9 .5-5.4 .5 3.8 .5 1.0 .4-2.1 .5-.3 .5 1.0 .5 .0 .5-1.8 .4 2.5 .5 5.4 .5-3.1 .5-1.6 .4-1.6 .5 2.7 .5-5.6 .5 3.7 .4 .5 .5 .6 .5 1.8 .5-2.7 .4-.1 .5 .8 .5 1.2 .5-3.9 .4 2.8 .5 .0 .5-1.4 .5 1.9 .4-.2 .5-3.8 .5 5.5 .5-3.7 .4-2.0 .5 1.5 .5 5.9 .5-6.2 .4 3.9 .5-3.6 .5-.9 .5 2.1 .5-2.7 .4 1.4 .5-3.7 .5 1.2 .5 1.1 .4-1.1 .5-4.8 .5 4.3 .5 .5 .4 .0 .5 .3 .5-4.9 .5 3.2 .4-1.9 .5 .4 .5-2.1 .5-.5 .4 2.2 .5-2.4 .5-.7 .5 .0 .4-1.1 .5 .0 .5 .2 .5 .7 .4 3.3 .5-2.7 .5 .6 .5 1.2 .4-.5 .5 2.4 .5-1.8 .5-.2 .5 .8 .4 4.0 .5-2.8 .5-.8 .5 2.2 .4 1.1 .5 1.1 .5-2.9 .5 2.5 .4 1.6 .5-1.1 .5-.5 .5 3.6 .4-2.7 .5-1.2 .5 1.9 .5 .6 .4 .5 .5-.1 .5 .3 .5-.9 .4 .9 .5 .5 .5 .3 .5-.4 .4-1.7 .5 1.6 .5 .6 .5 2.3 .4-1.5 .5-6.9 .5 9.0 .5-4.2 .5 .4 .4-2.1 .5 1.6 .5-1.4 .5 1.4 .4-.5 .5-.3 .5 .8 .5 2.2 .4-1.8 .5-.7 .5-1.9 .5 2.0 .4 4.0 .5-.6 .5-1.0 .5-.2 .4 .3 .5-7.4 .5 7.8 .5-.4 .4-3.2 .5 3.9 .5-2.1 .5-1.6 .4 2.9 .5-4.7 .5 3.2 .5-.6 .4 .4 .5 1.9 .5-2.1 .5 .9 .5-2.9 .4 5.0 .5-3.5 .5-2.3 .5 1.0 .4 3.7 .5-8.2 .5 8.6 .5-2.0 .4-1.9 .5 2.5 .5-4.6 .5 3.0 .4-2.1 .5 1.3 .5-4.7 .5 4.0 .4-1.3 .5 1.0 .5-2.2 .5 .6 .4-2.6 .5 1.5 .5 .2 .5-7.1 .4 3.6 .5-2.2 .5 3.0 .5-1.3 .4-1.9 .5-.2 .5 .5 .5 .6 .5-1.5 .4 1.7 .5-1.5 .5 3.5 .5-.2 .4 1.3 .5 1.0 .5 2.0 .5 1.0 .4-1.8 .5 .1 .5 2.1 .5 .5 .4-.3 .5 1.8 .5-2.0 .5 3.5 .4-2.0 .5 1.0 .5-1.6 .5-1.9 .4 3.5 .5-.9 .5 .4 .5 1.3 .4-1.2 .5 1.4 .5-1.9 .5 .8 .4-.3 .5-.9 .5 1.5 .5-.1 .5 .4 .4-.2 .5-.8 .5-.4 .5 1.2 .4 .0 .5-1.1 .5 .8 .5-3.4 .4 1.3 .5 .3 .5 .9 .5 1.7 .4 .3 .5 .4 .5-1.2 .5 .7 .4-.3 .5-1.9 .5 .9 .5 3.1 .4-6.1 .5 .9 .5 3.0 .5-.1 .4 .4 .5-.7 .5 1.1 .5-1.2 .4 .4 .5 .6 .5 1.6 .5-3.4 .5 1.0 .4-.1 .5-2.5 .5 5.0 .5-1.3 .4-1.2 .5-.4 .5-.3 .5 .9 .4-.5 .5 .7 .5 .0 .5 .1 .4 1.2 .5-.3 .5-2.9 .5-.1 .4 2.4 .5-.5 .5-5.4 .5 4.8 .4-.6 .5 1.4 .5-1.2 .5 3.9 .4-.7 .5-7.6 .5 6.1 .5 1.6 .4-2.8 .5 3.9 .5-4.7 .5-.1 .5-.1 .4 1.1 .5 .9 .5 .8 .5-3.5 .4-.5 .5 1.3 .5 3.7 .5 3.4 .4-4.5 .5-3.3 .5 .5 .5 1.5 .4 .7 .5 .2 .5-.1 .5-1.8 .4 2.9 .5-.4 .5-1.7 .5 .0 .4-1.7 .5 1.3 .5-.3 .5 1.0 .4 .5 .5 2.3 .5-2.9 .5-.5 .4 2.4 .5-3.5 .5 .8 .5 1.7 .4-.1 .5-.4 .5-.7 .5-1.0 .5-1.1 .4 3.2 .5-.1 .5-.2 .5 .0 .4 2.0 .5 1.8 .5-4.4 .5-.6 .4-.3 .5 .0 .5 4.9 .5-3.7 .4-1.2 .5 .2 .5 1.6 .5-.6 .4 .9 .5 3.4 .5-4.7 .5 2.9 .4-3.4 .5 .0 .5 5.1 .5-3.3 .4 .1 .5 1.5 .5-2.5 .5 .0 .4-1.1 .5 1.3 .5 .2 .5 .0 .5-.8 .4-1.1 .5 1.0 .5-1.9 .5-.7 .4 1.3 .5-2.4 .5 6.1 .5-4.6 .4 1.9 .5 2.9 .5-3.1 .5 1.4 .4 1.3 .5-1.9 .5 1.1 .5-.2 .4-2.0 .5 3.4 .5-1.5 .5-2.0 .4 3.2 .5-.5 .5 1.0 .5-1.8 .4 .5 .5-2.5 .5 3.5 .5-3.8 .4 1.9 .5-.4 .5 .8 .5 4.1 .5-1.4 .4-4.0 .5 1.8 .5 .2 .5-6.1 .4 6.6 .5-1.5 .5 .0 .5-1.1 .4 1.0 .5-.2 .5-4.5 .5 3.1 .4 3.8 .5-3.1 .5 2.9 .5-2.0 .4 .6 .5-4.4 .5 1.2 .5-.1 .4 3.1 .5-.9 .5-1.6 .5 3.3 .4-1.7 .5 .7 .5 .2 .5-.2 .4-.3 .5-4.4 .5 3.4 .5 1.9 .5-.2 .4 3.1 .5-8.4 .5 3.6 .5-.6 .4 3.1 .5-.8 .5 .9 .5-2.5 .4 2.9 .5-5.0 .5 1.0 .5 1.2 .4 1.6 .5-.3 .5-2.4 .5-.1 .4 3.2 .5-1.3 .5-2.1 .5-3.3 .4 3.8 .5 .0 .5 3.5 .5-3.0 .4 3.8 .5-2.6 .5 .5 .5-2.8 .4 1.2 .5 .1 .5-1.0 .5 1.9 .5-1.2 .4 .1 .5 .6 .5 1.2 .5 2.4 .4-4.3 .5 4.4 .5-3.0 .5-3.2 .4 2.0 .5 2.5 .5-3.7 .5 1.6 .4 .0 .5-.9 .5 2.2 .5-.6 .4-1.3 .5 3.8 .5-2.0 .5 1.2 .4 1.4 .5-3.6 .5 .1 .5 .5 .4-3.4 .5 4.6 .5 .4 .5-.9 .4-1.0 .5 1.6 .5-.9 .5 1.1 .5-1.4 .4-.8 .5 .1 .5 1.0 .5-2.6 .4 3.7 .5 .8 .5-.8 .5-2.1 .4-5.8 .5 7.6 .5-3.3 .5-4.5 .4 5.4 .5 2.5 .5-2.2 .5-1.5 .4-1.1 .5 1.9 .5-.8 .5-1.2 .4 .5 .5 2.2 .5-1.5 .5-.8 .4-1.7 .5 1.1 .5-2.8 .5 3.4 .4-.5 .5-1.8 .5 .3 .5-.1 .5-.8 .4 2.1 .5-1.9 .5 .1 .5 .8 .4-.8 .5-2.3 .5 3.5 .5-.6 .4 .5 .5 3.5 .5-5.4 .5 5.1 .4-2.3 .5-.9 .5 .5 .5 .5 .4 1.1 .5 3.2 .5-2.1 .5-.4 .4 1.9 .5-1.7 .5-1.3 .5 1.0 .4 4.1 .5-2.2 .5-1.0 .5 3.1 .4-4.3 .5 3.7 .5 .1 .5-3.0 .5 .5 .4-.8 .5-2.3 .5 2.4 .5 3.2 .4-4.4 .5 1.6 .5 .4 .5-1.7 .4 .8 .5 .4 .5 1.0 .5 1.1 .4-2.5 .5 .9 .5 .2 .5-.4 .4 1.2 .5 1.4 .5-3.2 .5 .5 .4-2.9 .5-.4 .5 4.1 .5-1.5 .4 .3 .5 6.3 .5-5.8 .5 .3 .4-.7 .5 2.2 .5-3.0 .5 .4 .5 .7 .4 3.1 .5-3.7 .5 1.6 .5-1.6 .4 .7 .5-2.4 .5 3.4 .5-1.4 .4-.9 .5 1.9 .5-3.3 .5 .2 .4 1.8 .5 1.3 .5 1.1 .5-4.4 .4 .8 .5-1.1 .5-1.4 .5 4.9 .4-4.9 .5 1.8 .5-3.6 .5 .5 .4-.9 .5 1.8 .5 .1 .5 .0 .4 .3 .5 2.8 .5-1.4 .5 1.3 .5-1.7 .4 1.3 .5-1.8 .5 1.5 .5-1.0 .4 1.2 .5-.6 .5 .8 .5 .2 .4 .4 .5-2.5 .5 .0 .5 3.9 .4-6.7 .5 5.7 .5-1.1 .5-.1 .4 1.5 .5-1.8 .5-.3 .5 3.2 .4 1.8 .5-.8 .5 .7 .5-2.2 .4 1.6 .5-3.9 .5 1.8 .5 .8 .4 .4 .5 .1 .5 3.3 .5-1.9 .5-3.7 .4 5.9 .5-3.9 .5 1.6 .5-3.9 .4 5.2 .5-2.8 .5 .8 .5 .0 .4-1.1 .5-.1 .5-1.1 .5 .2 .4 2.7 .5-.8 .5 .3 .5 1.8 .4-6.2 .5 2.2 .5 2.8 .5 .6 .4-1.8 .5 1.9 .5 .2 .5 .7 .4-1.6 .5 1.5 .5-1.7 .5-2.1 .4 .0 .5 1.3 .5 .4 .5-2.8 .5 7.3 .4-6.1 .5 2.5 .5-3.3 .5-3.5 .4 4.9 .5 6.1 .5-7.0 .5-3.0 .4 4.5 .5 3.3 .5-2.7 .5-.9 .4-1.4 .5 2.2 .5-.5 .5 5.4 .4-5.1 .5-1.6 .5 2.6 .5 1.4 .4-1.0 .5-1.7 .5 3.0 .5-3.1 .4-.7 .5-.2 .5-.9 .5 6.3 .4-3.2 .5 2.7 .5-3.4 .5-1.0 .4 .5 .5-.5 .5-1.6 .5 1.5 .5-2.0 .4 3.6 .5-2.9 .5 1.5 .5 .4 .4 .6 .5-1.4 .5 2.1 .5-2.5 .4 5.4 .5-.5 .5-5.7 .5 2.1 .4-1.0 .5-.2 .5 .6 .5 1.1 .4 2.0 .5 .4 .5-3.2 .5-.5 .4 1.4 .5 1.4 .5-1.7 .5 1.7 .4-7.4 .5 3.8 .5-2.0 .5 4.9 .4-2.6 .5 1.0 .5-.5 .5 .1 .5-.6 .4-1.3 .5 1.5 .5-2.0 .5 1.0 .4-3.3 .5 3.0 .5-.2 .5 4.9 .4-2.2 .5-2.6 .5-.6 .5 1.4 .4 2.1 .5-2.9 .5-.3 .5-1.8 .4 .0 .5-.2 .5 .0 .5 .3 .4 .6 .5-1.6 .5 .9 .5 .7 .4 1.1 .5-4.0 .5 3.9 .5 2.7 .4-2.2 .5 1.4 .5-1.0 .5 2.1 .5-2.1 .4 1.2 .5-1.1 .5-.5 .5 1.9 .4 .3 .5 1.2 .5-3.0 .5 .1 .4 2.5 .5-5.7 .5 4.1 .5 .0 .4-.9 .5-.4 .5 2.6 .5-1.0 .4 6.0 .5-5.3 .5-1.0 .5 .4 .4 .4 .5 1.6 .5-1.2 .5-2.5 .4 3.1 .5-2.0 .5-.7 .5 2.6 .4-1.1 .5 .1 .5 2.3 .5-5.3 .5 2.7 .4-.6 .5-1.9 .5 3.9 .5-.3 .4-1.0 .5-.5 .5 .9 .5-1.5 .4 2.6 .5-4.5 .5 3.9 .5-.4 .4-1.0 .5-.9 .5 1.7 .5 .7 .4-.8 .5 1.2 .5-3.6 .5 2.5 .4 .8 .5-2.7 .5 1.4 .5 1.1 .4 .0 .5 .1 .5-1.2 .5 .8 .4-1.3 .5 .1 .5-.4 .5 5.9 .5-9.4 .4 6.3 .5-2.0 .5 .1 .5 1.6 .4-1.4 .5 .0 .5 .2 .5-1.0 .4 1.0 .5 1.3 .5-5.4 .5 3.3 .4-1.1 .5-.2 .5 3.9 .5-1.3 .4 4.1 .5-3.4 .5-2.6 .5 .3 .4 1.9 .5-.9 .5-.7 .5 .6 .4-.6 .5 3.4 .5-2.6 .5-2.0 .4 .9 .5 1.2 .5 1.5 .5 .1 .5-1.2 .4-.9 .5-1.2 .5-2.1 .5 5.0 .4-.9 .5-.6 .5-.1 .5 .6 .4-.4 .5-5.2 .5 5.6 .5-.1 .4-1.4 .5 1.0 .5 3.5 .5-2.9 .4 .1 .5-.9 .5 .0 .5 2.4 .4 .4 .5-1.9 .5 .1 .5-.2 .4-.6 .5-1.9 .5 2.1 .5-.2 .4 .8 .5-.6 .5-3.0 .5 1.4 .5 4.9 .4-3.1 .5 2.8 .5-4.6 .5 1.1 .4 1.1 .5-.6 .5 .4 .5 1.6 .4 1.1 .5-2.2 .5-.9 .5 .6 .4-.6 .5 1.6 .5 1.4 .5-3.0 .4 .9 .5-.5 .5 1.0 .5-2.7 .4 3.0 .5-1.9 .5 2.2 .5-2.2 .4 .2 .5-1.6 .5 1.9 .5-.7 .4-1.3 .5 1.5 .5-3.0 .5-2.2 .5 5.2 .4 .3 .5-.9 .5 1.5 .5-4.9 .4 2.9 .5 1.0 .5 .3 .5 .3 .4-.1 .5-.3 .5 2.3 .5-2.8 .4-4.0 .5 4.8 .5-1.3 .5-.4 .4 1.2 .5 5.2 .5-5.1 .5 1.3 .4 .6 .5-1.5 .5 2.3 .5-.3 .4-2.3 .5 .4 .5-.6 .5 3.1 .4-4.7 .5 3.2 .5 2.7 .5-1.0 .5-2.6 .4 1.8 .5 1.5 .5-4.1 .5 .5 .4-1.7 .5 .8 .5 .7 .5 1.1 .4-.8 .5 1.5 .5-1.8 .5 4.8 .4 .3 .5-5.4 .5 1.0 .5 1.0 .4-.2 .5-.9 .5-4.7 .5 4.4 .4 1.3 .5-1.9 .5-.1 .5 1.3 .4-.9 .5 5.6 .5-4.4 .5-.8 .4 .2 .5-.6 .5 2.6 .5-1.8 .5 .4 .4-.9 .5-3.8 .5-1.8 .5 5.4 .4-3.4 .5 6.2 .5-2.9 .5 .2 .4-1.4 .5 2.1 .5-.7 .5-1.6 .4 1.3 .5-2.4 .5 3.9 .5-1.6 .4 .8 .5-.9 .5-.2 .5-3.3 .4 4.5 .5-.4 .5-.9 .5 6.3 .4-5.3 .5 .9 .5-2.2 .5-.6 .4 2.5 .5-1.5 .5-.4 .5 6.5 .5-5.4 .4-.3 .5-2.6 .5 3.3 .5-.3 .4-2.0 .5 2.2 .5 .0 .5 .6 .4-.6 .5-1.1 .5 1.9 .5-2.6 .4 5.1 .5-2.7 .5-1.6 .5 4.2 .4-1.4 .5-5.0 .5 2.5 .5-2.5 .4-1.8 .5 6.6 .5 1.6 .5-3.2 .4 .3 .5-.3 .5 .1 .5-.3 .4-.5 .5-.3 .5-3.0 .5 2.7 .5-.1 .4 1.3 .5 1.0 .5-.2 .5-1.1 .4 .4 .5-4.0 .5 1.3 .5 4.1 .4-1.9 .5 .1 .5-.5 .5 1.3 .4-1.8 .5 1.2 .5-.2 .5-.1 .4-.6 .5-.4 .5-.7 .5 3.3 .4-4.0 .5 1.5 .5 .5 .5-5.0 .4 6.6 .5-1.3 .5-.3 .5-.1 .4 .7 .5-.2 .5-1.4 .5 1.3 .4-.5 .5 1.0 .5 .3 .5-2.6 .5-3.4 .4 4.7 .5 2.6 .5-6.9 .5 5.8 .4 3.4 .5-7.9 .5 1.6 .5 3.1 .4-.5 .5-1.8 .5 1.2 .5 5.6 .4-9.2 .5 4.3 .5-.2 .5 .8 .4-1.7 .5-2.3 .5 1.9 .5 .1 .4 2.3 .5-.8 .5-3.7 .5 4.3 .4-.9 .5-1.2 .5-1.8 .5 2.6 .4-2.6 .5-3.0 .5 4.1 .5 .7 .5-.8 .4-1.1 .5 3.3 .5-.4 .5-3.4 .4 2.8 .5 .3 .5 1.2 .5-1.2 .4 2.1 .5-.3 .5-1.5 .5 1.2 .4-.7 .5-1.9 .5-2.5 .5 1.4 .4 2.7 .5-2.2 .5 1.7 .5 .1 .4-.3 .5 3.6 .5-1.6 .5-2.5 .4-1.5 .5 1.7 .5-.7 .5 1.2 .4-1.5 .5 1.3 .5-.3 .5 .3 .5 .3 .4 4.4 .5-6.0 .5-1.5 .5 2.4 .4 1.5 .5 .4 .5-1.1 .5 1.7 .4 .3 .5-3.7 .5 2.9 .5 .2 .4-3.5 .5 2.3 .5-.2 .5 .7 .4-1.7 .5 2.7 .5-4.0 .5 1.8 .4 5.8 .5-.5 .5-5.5 .5 5.6 .4-5.3 .5 .6 .5 .7 .5-1.3 .4-1.8 .5 1.9 .5-.8 .5-.2 .5 1.4 .4 .5 .5-.3 .5 4.1 .5 .9 .4-4.7 .5 2.4 .5-7.6 .5 7.2 .4-3.0 .5 1.3 .5 2.6 .5-4.0 .4 .2 .5-5.4 .5 4.9 .5-1.9 .4 2.8 .5-1.6 .5 2.1 .5-2.1 .4 3.4 .5-3.8 .5 2.3 .5 .6 .4-2.3 .5 5.4 .5-6.3 .5 3.7 .4-1.4 .5-2.2 .5 1.8 .5 1.9 .5-.4 .4-2.3 .5-2.3 .5 1.9 .5 4.9 .4-4.8 .5 1.7 .5 .8 .5-1.6 .4 .2 .5 .5 .5 .5 .5 .0 .4 .9 .5-2.5 .5-1.1 .5 .7 .4 .3 .5 .4 .5-1.1 .5 .0 .4 2.7 .5-1.3 .5 .2 .5 1.3 .4-3.5 .5 2.3 .5-.3 .5 .6 .4-2.9 .5 4.0 .5-2.1 .5 .9 .5-1.1 .4 2.4 .5-2.3 .5-3.1 .5 2.0 .4 2.0 .5 .7 .5-1.6 .5-1.4 .4 1.7 .5 .8 .5-.5 .5 1.6 .4-1.9 .5 .0 .5 1.4 .5-3.6 .4-.6 .5 1.7 .5 2.9 .5-.9 .4-.2 .5-1.4 .5 .9 .5-1.0 .4-1.5 .5 1.4 .5-1.6 .5 3.7 .4-3.2 .5 3.0 .5 .7"/>
<path stroke="#ff2b2b" stroke-width="2.3" d="M213.5 1145.1l.5 1.4 .5 2.2 .4-1.0 .5-2.5 .5 2.1 .5 .1 .4-1.4 .5 2.4 .5-2.9 .5 1.7 .4 .4 .5-.3 .5 .5 .5 .6 .4 2.4 .5-4.0 .5 1.2 .5 .2 .4-1.4 .5-4.8 .5 9.5 .5-4.6 .4 .0 .5 2.7 .5-1.8 .5-.3 .4 1.1 .5-4.8 .5 4.5 .5-1.1 .4-1.9 .5 2.8 .5 2.2 .5-3.9 .5 1.6 .4-1.1 .5 1.6 .5-.1 .5-1.9 .4 2.6 .5-1.0 .5 .1 .5 .8 .4-1.6 .5 1.2 .5 1.0 .5-4.1 .4 3.8 .5-2.0 .5 .3 .5-1.6 .4 2.4 .5-1.4 .5 2.5 .5-2.6 .4 1.0 .5-.5 .5 .6 .5-1.6 .4-.1 .5 2.3 .5 .1 .5-.8 .4 2.3 .5-3.7 .5 2.9 .5-3.1 .5 5.0 .4-3.2 .5 .0 .5 3.5 .5-2.7 .4 .0 .5-4.1 .5 2.6 .5-2.0 .4 1.1 .5 .1 .5 2.9 .5-3.6 .4 1.2 .5 .7 .5 1.6 .5 2.0 .4-2.9 .5-1.8 .5 1.2 .5 .6 .4-3.7 .5 3.6 .5-1.0 .5 .7 .4 .3 .5 .0 .5-.5 .5 .1 .4-1.4 .5 1.2 .5-1.8 .5 1.8 .5 .2 .4 .9 .5-1.3 .5-4.1 .5 4.5 .4-1.3 .5 2.1 .5-1.2 .5-.1 .4 2.7 .5-2.6 .5-.2 .5 .0 .4 .5 .5-2.2 .5 2.4 .5 2.3 .4-2.3 .5 .7 .5 2.2 .5-1.5 .4-.7 .5 .5 .5 .0 .5-2.3 .4 .9 .5-.4 .5-.4 .5 1.1 .4-.8 .5 .9 .5-.1 .5-2.3 .5 1.9 .4-.1 .5 1.0 .5-3.0 .5 .8 .4 1.5 .5-.3 .5 .9 .5-1.1 .4-.7 .5 3.9 .5-3.6 .5-.7 .4 .9 .5 .2 .5-.5 .5 1.1 .4 2.7 .5-4.6 .5 1.6 .5 .8 .4 1.4 .5 3.6 .5-7.2 .5 1.8 .4 1.8 .5-4.9 .5 3.2 .5-1.6 .4 2.4 .5 1.8 .5-2.7 .5-5.5 .5 2.6 .4 2.6 .5 1.8 .5-2.6 .5 1.6 .4-.9 .5-.5 .5 1.5 .5-1.3 .4 .2 .5 1.5 .5-1.1 .5 1.2 .4-1.1 .5-1.6 .5 1.4 .5 2.0 .4-1.6 .5 3.3 .5-9.0 .5 5.0 .4 1.5 .5-.4 .5-.4 .5 .3 .4 1.4 .5-1.3 .5-.5 .5 .1 .4 .3 .5-1.1 .5 1.2 .5-.2 .4 .8 .5-1.2 .5-3.9 .5 4.0 .5 1.6 .4-1.2 .5 .0 .5-.8 .5-.1 .4 1.2 .5-3.3 .5 4.3 .5 .1 .4 1.6 .5-5.2 .5-.2 .5 4.0 .4-2.3 .5-.6 .5 .5 .5 .9 .4-2.0 .5 1.4 .5 .6 .5 .3 .4-5.8 .5 6.3 .5-1.5 .5 .0 .4 .4 .5-1.0 .5 2.8 .5-3.2 .4 1.3 .5-1.6 .5 1.9 .5 1.8 .5-.3 .4-3.7 .5 2.2 .5 1.7 .5-3.3 .4 .9 .5 1.0 .5 .2 .5-1.0 .4 .5 .5 .1 .5-1.0 .5 1.0 .4-.3 .5 .5 .5-.7 .5-.5 .4 .3 .5 2.7 .5-3.8 .5-.4 .4-3.3 .5 6.6 .5 3.5 .5-6.1 .4 .1 .5-.4 .5 1.6 .5-.4 .4 1.4 .5-2.5 .5 3.0 .5-2.0 .5 1.4 .4-.1 .5 1.1 .5-2.4 .5 .3 .4-.1 .5-1.6 .5 1.3 .5 2.6 .4-.4 .5-6.6 .5 4.8 .5-1.2 .4-1.3 .5-.1 .5 2.9 .5 2.1 .4-3.6 .5-.6 .5 .2 .5 1.2 .4-1.0 .5-4.3 .5 1.0 .5 2.3 .4-3.1 .5-.8 .5-1.0 .5-2.8 .4-1.9 .5-3.4 .5-4.0 .5-1.7 .5 1.1 .4-1.4 .5 1.4 .5 3.2 .5 .0 .4 .1 .5 5.8 .5 1.8 .5 2.3 .4 1.3 .5 4.4 .5-4.3 .5 5.8 .4-5.9 .5 6.7 .5-3.2 .5 1.6 .4-6.2 .5 5.6 .5 .9 .5-.1 .4 1.0 .5-2.8 .5 1.4 .5 .8 .4-4.2 .5 5.4 .5-1.7 .5-.6 .4-.1 .5 1.6 .5-3.6 .5 2.2 .5 .3 .4-.1 .5 1.7 .5-.5 .5 2.0 .4-1.6 .5-1.3 .5 .1 .5-1.3 .4 .9 .5 1.4 .5 .5 .5-1.6 .4 .3 .5 1.7 .5 2.2 .5-5.8 .4-.2 .5 3.6 .5-1.0 .5-.2 .4 .6 .5 .6 .5-3.7 .5 6.2 .4-.2 .5-3.6 .5 .2 .5-.8 .4 1.1 .5-1.5 .5 1.3 .5 2.1 .5-2.3 .4 1.3 .5-2.9 .5 3.3 .5-4.1 .4 .6 .5 1.7 .5-1.9 .5-1.8 .4-1.2 .5 2.8 .5-7.1 .5 .1 .4 5.1 .5-4.1 .5-1.6 .5 .1 .4 1.3 .5 1.6 .5 1.4 .5 .9 .4 1.2 .5 5.2 .5-3.6 .5-2.0 .4 .2 .5 3.2 .5 .7 .5-.3 .4 .6 .5-1.5 .5 .3 .5-.4 .5 .5 .4-.5 .5 2.3 .5-3.2 .5 .4 .4 1.9 .5-1.3 .5-.4 .5 4.3 .4-2.4 .5-3.9 .5-1.2 .5 .7 .4-.7 .5-1.8 .5-.2 .5-.5 .4-.1 .5 .3 .5 1.4 .5-2.4 .4 1.2 .5 .8 .5 1.8 .5 3.8 .4-1.1 .5 .8 .5 .1 .5-.8 .4-1.9 .5 2.0 .5 3.2 .5-2.2 .5 .4 .4-.6 .5 1.8 .5-.1 .5-1.0 .4 .4 .5-.3 .5 .5 .5 .1 .4 .0 .5 2.0 .5 .9 .5-6.1 .4 2.7 .5-3.0 .5 3.0 .5 1.7 .4-.7 .5-.4 .5-2.5 .5 3.7 .4-1.0 .5-1.0 .5 1.8 .5-4.5 .4 2.1 .5 2.5 .5-4.4 .5 1.5 .4 1.8 .5 .7 .5-.4 .5-3.8 .5 2.7 .4 1.5 .5-1.2 .5-.7 .5-4.3 .4 4.7 .5 3.5 .5-5.8 .5 3.3 .4 2.2 .5-1.6 .5-1.5 .5 1.3 .4-2.4 .5 1.9 .5-.8 .5 2.7 .4-.1 .5-.8 .5-1.3 .5 1.6 .4 3.1 .5-4.7 .5 .4 .5-1.5 .4-.6 .5 2.9 .5-3.7 .5 3.2 .4-2.3 .5 2.6 .5 .4 .5 1.9 .5-3.2 .4-.1 .5 .1 .5 1.0 .5 .4 .4-3.1 .5 1.4 .5-2.4 .5 1.9 .4 1.9 .5 1.9 .5 1.6 .5-7.1 .4 2.4 .5 2.1 .5-1.9 .5-.5 .4 1.6 .5 .6 .5-3.4 .5 1.7 .4-1.8 .5 .3 .5 1.4 .5-1.0 .4 2.1 .5-1.7 .5-1.0 .5 1.7 .4-1.4 .5-1.9 .5 8.3 .5-7.1 .5-.6 .4 1.7 .5-5.8 .5 6.7 .5-4.1 .4-1.1 .5 6.9 .5-4.2 .5 2.2 .4-1.2 .5-2.3 .5-6.1 .5 3.4 .4-5.1 .5-4.6 .5 6.1 .5-4.4 .4-.2 .5-1.6 .5-.4 .5 .5 .4 3.4 .5-1.0 .5 3.8 .5 1.4 .4 .4 .5 1.2 .5 1.0 .5 1.8 .4-1.0 .5 1.9 .5 1.2 .5-.7 .5-.1 .4-.7 .5 3.7 .5 .8 .5-.3 .4-.7 .5-.3 .5-3.2 .5 5.0 .4-1.9 .5 .7 .5-2.5 .5 2.9 .4-2.5 .5 5.1 .5-2.6 .5-.7 .4 .5 .5-1.6 .5 1.1 .5-2.4 .4 1.7 .5 .0 .5-.7 .5 1.2 .4-2.5 .5-1.2 .5 3.4 .5 6.1 .4-4.7 .5-1.0 .5-1.0 .5-.7 .4 1.6 .5 .8 .5 .9 .5-1.5 .5 1.7 .4-.3 .5 .3 .5-2.2 .5 .4 .4-1.4 .5 1.7 .5-3.6 .5 3.2 .4-1.4 .5 1.4 .5-1.4 .5-4.2 .4 5.3 .5-.1 .5 .3 .5-2.1 .4 1.8 .5-.8 .5-2.0 .5 2.0 .4 .6 .5-1.5 .5 1.2 .5 .0 .4-6.7 .5 3.3 .5-.2 .5 .5 .4-1.0 .5-.4 .5-3.7 .5 1.9 .5-.3 .4 .2 .5 .3 .5-.2 .5 3.0 .4-3.4 .5-2.4 .5 5.2 .5 1.6 .4 3.2 .5-2.7 .5-1.4 .5 2.5 .4-4.7 .5 6.4 .5-1.8 .5-1.4 .4 .6 .5 3.3 .5 .9 .5-3.6 .4 7.0 .5-3.8 .5-2.3 .5-2.5 .4 1.5 .5 1.4 .5-1.0 .5-.2 .4 .5 .5 2.8 .5-5.6 .5 6.1 .5-2.7 .4 .9 .5-.9 .5 3.0 .5-4.6 .4 .4 .5 .9 .5-.2 .5-.7 .4-.3 .5-1.9 .5 2.2 .5 1.2 .4 .1 .5-2.6 .5 4.4 .5-1.3 .4-5.4 .5-2.5 .5 2.6 .5 .0 .4-4.7 .5 1.4 .5-7.1 .5-3.0 .4-6.9 .5-.7 .5-1.0 .5-5.1 .4-.9 .5-1.1 .5 2.6 .5 3.1 .5 3.0 .4 6.0 .5 1.7 .5 2.9 .5 2.6 .4 2.0 .5-1.0 .5 2.0 .5 4.3 .4-.8 .5 1.8 .5 1.4 .5 .3 .4-.9 .5 .4 .5-.6 .5 2.6 .4 .4 .5-2.5 .5 1.2 .5-.7 .4 2.1 .5-.9 .5 2.6 .5-2.6 .4 1.4 .5 .0 .5 2.6 .5-2.1 .4 2.0 .5-2.5 .5-5.8 .5 5.1 .5 1.5 .4-1.4 .5 1.0 .5-2.4 .5 2.4 .4-.8 .5 3.4 .5-5.7 .5 2.2 .4 1.5 .5-1.4 .5 .2 .5-.4 .4-1.7 .5 1.6 .5 2.5 .5-.9 .4-1.8 .5 1.2 .5 .6 .5-.1 .4-4.3 .5 1.4 .5 4.7 .5-4.3 .4 1.8 .5-1.0 .5 1.2 .5-4.9 .4 5.0 .5-1.4 .5-3.9 .5 1.0 .5-8.0 .4 6.8 .5-3.6 .5-.2 .5-1.1 .4-5.1 .5 1.9 .5-.8 .5 .0 .4 1.2 .5 .3 .5 3.1 .5-.5 .4 3.3 .5 2.0 .5 3.8 .5-3.3 .4 .3 .5 1.7 .5 .7 .5 2.5 .4-2.0 .5-.2 .5-.4 .5 1.7 .4-.2 .5-3.0 .5 2.0 .5-.7 .4 1.6 .5-.3 .5-1.2 .5 1.7 .5 .5 .4-1.1 .5 2.1 .5-3.7 .5-.7 .4 3.6 .5-.5 .5 .8 .5 1.8 .4-2.7 .5 1.3 .5-.9 .5-.4 .4-.1 .5 5.6 .5-6.1 .5 .3 .4 .1 .5 .5 .5-3.3 .5 3.3 .4-3.9 .5 3.1 .5 .2 .5 .3 .4 .0 .5 .1 .5-4.4 .5 3.5 .4 1.4 .5-1.1 .5 1.6 .5-1.3 .5 .1 .4 .3 .5 4.0 .5-10.2 .5 3.6 .4-.4 .5 1.1 .5-3.1 .5 9.3 .4-6.7 .5 1.6 .5 2.0 .5-2.1 .4-.9 .5 .2 .5 .4 .5-.4 .4 .5 .5-.2 .5-2.3 .5 4.4 .4 1.8 .5-3.6 .5-2.6 .5 4.6 .4-2.9 .5 .0 .5-.6 .5 3.5 .4-2.1 .5-1.5 .5 .1 .5 .0 .5-.4 .4 .7 .5 2.2 .5-7.0 .5 4.7 .4-.5 .5-3.5 .5 5.1 .5-3.1 .4-1.9 .5-3.8 .5 1.7 .5 .0 .4-.4 .5-.6 .5 1.6 .5-.4 .4-.4 .5 1.3 .5-1.1 .5 2.4 .4-4.0 .5 11.3 .5-7.3 .5 1.6 .4 .1 .5 .9 .5-.3 .5 2.8 .4-3.3 .5 7.1 .5-6.0 .5 5.1 .5-5.2 .4-1.9 .5 4.1 .5-3.1 .5 2.5 .4 1.1 .5-3.2 .5 .6 .5 .8 .4 1.6 .5-.2 .5-1.7 .5 .2 .4 1.0 .5-2.9 .5 4.3 .5-1.0 .4-2.9 .5 1.4 .5 .4 .5-.5 .4-3.2 .5-.4 .5 1.7 .5-1.2 .4 2.0 .5 .8 .5-.9 .5 2.0 .4-2.7 .5-.4 .5-2.1 .5 5.0 .5-3.2 .4 3.5 .5-2.3 .5-6.5 .5 1.9 .4-1.8 .5-.7 .5-7.5 .5 1.2 .4-4.5 .5-6.5 .5-8.9 .5-4.2 .4-14.5 .5-3.4 .5-7.1 .5-.9 .4 1.9 .5 6.7 .5 8.8 .5 8.5 .4 6.3 .5 8.3 .5 4.8 .5 3.7 .4 4.5 .5 5.7 .5-2.8 .5 5.3 .4-2.5 .5-.1 .5 .9 .5 1.1 .5-.9 .4 3.7 .5-3.0 .5 1.0 .5 1.5 .4-.2 .5-1.0 .5 .1 .5 .2 .4-1.0 .5-.7 .5 2.2 .5-4.5 .4-.9 .5 .4 .5-1.7 .5 4.0 .4-7.3 .5-1.5 .5-7.4 .5-8.3 .4-4.2 .5-7.1 .5-3.3 .5 2.5 .4 5.6 .5 4.5 .5 7.1 .5 6.3 .4 .3 .5 3.7 .5 .3 .5-.6 .4-3.3 .5 .8 .5-5.7 .5-4.7 .5-7.3 .4-10.0 .5-6.8 .5-10.0 .5-4.0 .4-.9 .5 4.8 .5 8.8 .5 8.9 .4 13.7 .5 1.6 .5 9.4 .5-3.5 .4 6.1 .5 3.6 .5 3.4 .5 .4 .4 .2 .5 .5 .5 2.4 .5-2.8 .4 2.7 .5-1.7 .5 1.2 .5 .6 .4-1.9 .5-1.5 .5-.1 .5-.4 .4-2.1 .5 1.7 .5-.1 .5-2.0 .5 3.3 .4-1.9 .5-3.8 .5-1.7 .5-4.4 .4-.1 .5-5.7 .5-1.5 .5-1.1 .4-2.6 .5-1.9 .5-9.5 .5 .8 .4-4.7 .5-5.4 .5-12.4 .5-14.9 .4-18.9 .5-14.4 .5-19.4 .5-24.2 .4-29.0 .5-30.0 .5-20.2 .5-9.7 .4 2.0 .5 11.8 .5 18.1 .5 28.7 .4 23.9 .5 29.6 .5 20.2 .5 21.5 .5 12.7 .4 15.5 .5 13.7 .5-2.1 .5 17.9 .4 1.4 .5 11.2 .5-5.8 .5 3.2 .4 2.5 .5 .7 .5 .7 .5 2.0 .4-4.5 .5 2.3 .5-2.2 .5 2.2 .4-2.2 .5-2.7 .5 .1 .5 1.6 .4 3.0 .5 1.7 .5 3.8 .5 3.1 .4-1.8 .5 1.2 .5-1.5 .5 4.3 .4-.1 .5 2.9 .5 .0 .5 3.1 .5-2.0 .4-1.5 .5 .8 .5 .5 .5 .1 .4 3.0 .5-2.9 .5-1.3 .5-.5 .4 .8 .5-3.4 .5 2.0 .5 2.0 .4-.2 .5-3.1 .5-.6 .5-.5 .4 .1 .5 .2 .5 .7 .5 3.9 .4-1.9 .5-2.3 .5 1.1 .5 2.9 .4 4.3 .5-3.6 .5 1.8 .5-2.2 .4 .1 .5 6.1 .5-2.7 .5-2.1 .5 1.5 .4-1.0 .5 .6 .5-1.1 .5 .2 .4 2.2 .5-3.6 .5 .9 .5 2.5 .4-7.6 .5 3.0 .5 .4 .5 .1 .4 .2 .5 1.8 .5-2.7 .5 1.1 .4-1.6 .5 1.6 .5 2.2 .5-3.2 .4 6.6 .5-1.8 .5-3.2 .5 3.9 .4-3.0 .5 2.2 .5-1.0 .5-.2 .4 1.7 .5 2.0 .5-4.4 .5 1.3 .5 1.3 .4 3.4 .5-3.7 .5 2.3 .5-1.7 .4-.2 .5 1.2 .5-2.3 .5 1.4 .4-3.8 .5 3.8 .5 5.6 .5-8.3 .4 .5 .5 2.4 .5 2.6 .5-2.6 .4 3.4 .5-4.1 .5 6.2 .5-6.8 .4 2.3 .5-1.7 .5 2.1 .5-5.1 .4 3.0 .5 3.2 .5-1.5 .5-1.1 .4-.4 .5 3.4 .5-4.3 .5 .0 .5-1.6 .4 3.4 .5 1.9 .5-4.3 .5 2.8 .4 .1 .5-2.3 .5 1.2 .5 .2 .4-3.3 .5 6.0 .5-4.9 .5 .2 .4 2.3 .5-.7 .5 1.1 .5-.7 .4-2.9 .5 2.1 .5 4.5 .5-5.1 .4-.8 .5 3.4 .5-4.7 .5 2.1 .4 5.9 .5-4.0 .5-3.8 .5-.8 .4 2.3 .5 .5 .5 .4 .5-2.9 .5 .7 .4-.4 .5-1.1 .5 .6 .5-1.5 .4-1.8 .5-.3 .5-4.4 .5-1.7 .4-2.4 .5-5.9 .5-5.3 .5-1.3 .4 1.2 .5 1.8 .5 2.8 .5-3.2 .4 6.5 .5 6.6 .5-3.0 .5-.6 .4 4.3 .5-1.5 .5-7.0 .5-.6 .4-1.1 .5 .3 .5 1.7 .5 .3 .4-4.4 .5 2.4 .5-2.0 .5-.1 .5-4.3 .4-.2 .5-15.1 .5-11.8 .5-16.4 .4-10.6 .5-9.7 .5-19.5 .5-12.5 .4-4.0 .5 4.8 .5 11.1 .5 7.4 .4 26.9 .5 14.4 .5 8.7 .5 14.8 .4 6.0 .5 8.5 .5 6.4 .5 2.9 .4 1.6 .5 3.9 .5-.7 .5 2.9 .4-.4 .5 2.1 .5 .4 .5 .6 .4 1.9 .5 .0 .5 3.6 .5-5.7 .5 6.4 .4-4.4 .5-2.4 .5-4.3 .5 4.8 .4 .7 .5 .3 .5 1.2 .5-1.4 .4 .0 .5-2.1 .5-1.9 .5 .9 .4-7.4 .5-6.9 .5-1.6 .5-4.7 .4-3.2 .5-3.4 .5-.8 .5 .9 .4 3.0 .5 2.0 .5 9.6 .5 3.6 .4 4.8 .5-2.1 .5 3.3 .5 5.4 .4 1.1 .5-3.2 .5 3.1 .5-2.4 .5 5.3 .4 .5 .5 1.7 .5-1.3 .5-1.4 .4 .0 .5 1.0 .5-.6 .5 3.9 .4-3.7 .5 .0 .5 4.3 .5-5.2 .4 .2 .5-2.2 .5 5.1 .5-3.0 .4-.7 .5 1.8 .5-.6 .5-5.1 .4-2.4 .5 2.4 .5-.7 .5-6.4 .4-2.4 .5-4.1 .5-.3 .5-.7 .4 .9 .5-.2 .5 6.6 .5 2.7 .5 1.8 .4 3.0 .5-2.1 .5 2.6 .5 .4 .4 1.9 .5 1.4 .5-2.9 .5 3.5 .4-3.6 .5-1.9 .5-1.1 .5 .4 .4-9.9 .5 4.0 .5-2.5 .5-1.2 .4-.6 .5 .2 .5 1.4 .5 7.6 .4-1.5 .5 4.9 .5 2.8 .5-1.6 .4 3.5 .5-1.9 .5 .3 .5 2.7 .4-1.6 .5 .1 .5 1.1 .5-.1 .4 3.9 .5-1.0 .5-1.3 .5 1.4 .5-3.0 .4 .2 .5 .4 .5 .9 .5-4.4 .4 1.9 .5 1.4 .5-1.3 .5 1.3 .4-1.2 .5 1.5 .5 .5 .5 .4 .4 1.1 .5-2.0 .5 .4 .5 2.2 .4-6.4 .5 4.6 .5-2.0 .5-3.0 .4 6.9 .5-1.5 .5-.7 .5 1.4 .4 2.0 .5-3.2 .5-.4 .5-5.6 .4 8.6 .5-2.1 .5-3.5 .5 1.8 .5-1.1 .4 3.8 .5-4.4 .5-1.8 .5 3.2 .4-4.2 .5-2.8 .5-3.1 .5-.7 .4-.8 .5-2.5 .5-1.0 .5-.8 .4 .2 .5-.1 .5 5.6 .5 1.7 .4 3.6 .5-2.5 .5 4.4 .5-.4 .4 .2 .5 1.6 .5 2.5 .5-.1 .4 .2 .5-2.7 .5 .6 .5-1.8 .4-.2 .5 2.1 .5-4.8 .5 2.9 .5-1.1 .4-1.0 .5 .4 .5 2.5 .5-.2 .4 1.4 .5 .5 .5-3.3 .5 4.9 .4 .0 .5-.8 .5-2.6 .5 3.1 .4 .8 .5-.5 .5 .8 .5-.4 .4 1.0 .5 2.2 .5-7.5 .5 5.2 .4 1.0 .5-5.4 .5 4.0 .5 1.4 .4-.6 .5-1.0 .5-.1 .5-3.2 .4 3.8 .5 1.4 .5 .0 .5-.6 .5-.8 .4-.9 .5 .2 .5-.7 .5 .9 .4-4.9 .5 5.4 .5 1.2 .5-1.6 .4 2.2 .5-1.5 .5 1.0 .5 4.4 .4-7.7 .5 1.9 .5-1.2 .5-.3 .4 2.5 .5-6.3 .5 5.9 .5 2.1 .4-2.6 .5 .8 .5-2.4 .5 2.8 .4 .1 .5-.8 .5 2.1 .5-2.2 .4 .1 .5-4.9 .5 6.0 .5-1.9 .5 1.2 .4-.7 .5-1.5 .5 1.5 .5 2.7 .4-2.2 .5-2.5 .5 2.2 .5 2.1 .4-6.2 .5-1.6 .5 6.9 .5-1.1 .4 .7 .5-1.5 .5 .7 .5-1.8 .4-.3 .5 2.1 .5 1.5 .5-1.5 .4-4.7 .5-1.0 .5 6.6 .5-1.5 .4-.8 .5 .4 .5 3.4 .5-2.6 .4-1.7 .5 .4 .5-1.4 .5 5.8 .5-3.1 .4-.1 .5-2.7 .5 2.1 .5 2.1 .4 .2 .5-1.7 .5-.6 .5 4.1 .4-3.9 .5-.2 .5-.9 .5 1.6 .4 1.6 .5-1.5 .5 1.4 .5-2.0 .4 1.2 .5-2.1 .5 1.3 .5-.5 .4 .0 .5 1.6 .5-2.1 .5 1.1 .4-.4 .5 2.4 .5-3.0 .5 .5 .4 1.2 .5-1.4 .5 1.5 .5 3.5 .5-4.8 .4 .6 .5-4.4 .5 5.5 .5-1.6 .4 .7 .5-1.6 .5 1.8 .5-.6 .4 5.5 .5-2.4 .5-2.9 .5-1.7 .4 .7 .5 .8 .5 1.2 .5 .8 .4-.2 .5-.8 .5-1.3 .5 .3 .4-1.1 .5 1.0 .5-.6 .5 .5 .4-3.7 .5 1.2 .5 2.7 .5-.7 .4-1.0 .5 4.8 .5-8.4 .5 7.4 .5-1.4 .4-7.4 .5 7.5 .5-1.3 .5-2.1 .4 1.6 .5 2.0 .5-6.0 .5 1.8 .4-1.7 .5 3.3 .5-4.6 .5-1.2 .4-1.3 .5 2.8 .5-4.7 .5 3.9 .4-10.9 .5 1.8 .5-4.6 .5-1.8 .4-1.0 .5-.1 .5-.1 .5 .9 .4 3.2 .5 1.5 .5-4.7 .5 8.1 .4 3.6 .5 .8 .5-.2 .5 1.5 .5 3.0 .4 1.8 .5 .2 .5-.5 .5-.1 .4 1.3 .5 2.9 .5-4.3 .5 .0 .4 .5 .5 2.7 .5-4.2 .5 3.5 .4 .1 .5 .5 .5 .1 .5 1.8 .4-2.2 .5-.9 .5 2.8 .5-2.3 .4-.6 .5-2.7 .5 7.8 .5-2.8 .4-.2 .5-2.8 .5 3.8 .5-4.4 .4 3.5 .5 .8 .5-1.7 .5-1.3 .5 5.4 .4-7.7 .5 2.4 .5 1.1 .5-.1 .4-2.0 .5 .2 .5 .3 .5 4.4 .4 1.0 .5-8.8 .5 3.5 .5-3.1 .4-1.8 .5-.6 .5-5.0 .5 2.3 .4-2.7 .5-4.9 .5-7.0 .5 2.6 .4 1.2 .5-10.3 .5 .5 .5-2.1 .4 .5 .5 3.2 .5 3.7 .5 1.5 .4 4.4 .5 1.6 .5 4.7 .5 .7 .5 3.2 .4 3.6 .5 1.4 .5 .4 .5 2.7 .4-.6 .5-.2 .5 .7 .5-2.1 .4-1.3 .5 2.7 .5 2.3 .5 4.1 .4-6.0 .5 5.8 .5-2.9 .5-2.9 .4 1.8 .5-.9 .5 1.9 .5-1.3 .4 .2 .5 .6 .5-.9 .5 2.0 .4-.9 .5-3.3 .5 3.3 .5-.4 .4 2.9 .5 .6 .5-6.1 .5 4.0 .5-.7 .4-.3 .5-2.0 .5 4.1 .5-1.6 .4 .0 .5 3.0 .5-5.4 .5 1.6 .4-3.3 .5 2.9 .5 6.4 .5-6.0 .4 1.8 .5 .4 .5-1.7 .5 1.4 .4-2.6 .5-1.4 .5 1.3 .5-1.0 .4 .0 .5-1.0 .5 .6 .5 .6 .4 2.1 .5-.8 .5 6.2 .5-5.1 .4 2.3 .5-1.9 .5 1.3 .5 .8 .4-3.4 .5-.7 .5-1.5 .5 6.0 .5-4.6 .4 5.4 .5-3.7 .5 .4 .5-5.0 .4 5.9 .5-5.0 .5 3.6 .5-5.2 .4 6.6 .5-6.5 .5 1.1 .5 1.0 .4-1.9 .5-1.2 .5 1.0 .5-3.4 .4 2.6 .5-.1 .5-1.7 .5-.6 .4-.9 .5-.1 .5 .1 .5 1.8 .4-1.0 .5 5.8 .5-4.7 .5 1.5 .4 1.4 .5-2.5 .5 4.5 .5 .6 .5-3.1 .4 3.0 .5-.4 .5-.9 .5 .5 .4-.4 .5 4.7 .5-1.2 .5-.4 .4-2.2 .5 2.3 .5-1.6 .5 .9 .4-4.2 .5 6.7 .5-2.9 .5 1.2 .4-2.6 .5 .7 .5 2.3 .5-.2 .4-.4 .5-.6 .5 .7 .5 1.9 .4-.9 .5-.2 .5-1.3 .5 .0 .4 2.3 .5-3.0 .5 .9 .5-1.3 .5 1.0 .4-.8 .5 2.9 .5 .3 .5-2.7 .4 1.6 .5 .0 .5 .7 .5-1.1 .4-2.0 .5 1.5 .5-1.4 .5 .8 .4-3.0 .5-1.6 .5 6.8 .5-2.7 .4 .0 .5 .3 .5-4.5 .5 4.1 .4 .0 .5-4.2 .5 4.0 .5-1.9 .4-.6 .5-1.4 .5-3.3 .5 1.0 .4-1.0 .5 1.8 .5-1.7 .5 .6 .5-2.5 .4 .1 .5 .3 .5 .3 .5 1.6 .4-1.7 .5 3.6 .5-1.0 .5 1.8 .4 1.3 .5-1.0 .5 5.6 .5-5.4 .4 4.7 .5 2.1 .5-2.3 .5-1.3 .4 1.6 .5-.6 .5 4.5 .5-4.0 .4-2.5 .5 2.1 .5-2.6 .5 2.7 .4-2.1 .5 2.0 .5 1.3 .5-5.2 .4 3.6 .5-2.4 .5 2.3 .5 .2 .5-4.4 .4 4.2 .5 1.2 .5-.7 .5-1.8 .4 1.6 .5-4.2 .5 2.7 .5 1.5 .4-1.4 .5 1.7 .5-2.1 .5 3.0 .4 .4 .5-.1 .5-.6 .5-.7 .4 1.4 .5-3.9 .5-1.4 .5 2.6 .4 4.5 .5-4.3 .5 .1 .5-1.3 .4 .8 .5 .6 .5-1.3 .5-4.3 .4 2.4 .5-.7 .5-2.9 .5-3.1 .5 3.2 .4-8.4 .5 2.8 .5-1.0 .5-1.4 .4-4.2 .5-1.9 .5-.4 .5 .2 .4 1.5 .5 1.9 .5 2.3 .5-1.7 .4 3.3 .5 6.7 .5-1.3 .5 2.7 .4 1.7 .5 .3 .5-2.2 .5 3.9 .4 .2 .5-.2 .5 .9 .5 .7 .4-3.6 .5 3.4 .5-.8 .5 1.4 .4-1.3 .5 1.3 .5 .2 .5-1.4 .5 .6 .4 1.3 .5 .2 .5 2.2 .5-2.1 .4-.2 .5 4.4 .5-.3 .5-4.2 .4-.1 .5 3.1 .5-3.4 .5 1.8 .4-2.7 .5-.1 .5 .7 .5 .7 .4-.4 .5-.8 .5-1.1 .5-.4 .4 4.9 .5-1.0 .5-.1 .5-.8 .4-.2 .5-.3 .5 .7 .5-.9 .4 2.1 .5-3.0 .5 .9 .5 1.2 .5-.9 .4 .7 .5-.1 .5-1.4 .5 .1 .4-2.8 .5 2.6 .5 3.3 .5-5.8 .4 5.2 .5-.9 .5-.7 .5-2.8 .4 3.1 .5 2.6 .5-5.1 .5-1.3 .4 .0 .5 .6 .5-.3 .5-1.9 .4 1.3 .5 .5 .5 1.2 .5 4.6 .4-12.2 .5 8.1 .5-.7 .5 1.8 .4-5.1 .5-1.0 .5-1.5 .5-.3 .5-1.1 .4-.8 .5-.3 .5-4.0 .5 .0 .4 .7 .5-6.0 .5 5.4 .5-2.4 .4-3.7 .5 1.1 .5 2.4 .5-5.3 .4-4.0 .5 .0 .5-1.3 .5-1.3 .4-1.7 .5-1.5 .5-1.2 .5-6.0 .4 5.9 .5-3.4 .5-2.7 .5-2.0 .4 3.1 .5-9.9 .5 2.8 .5-.3 .4 1.8 .5 2.9 .5 3.0 .5 4.4 .5 4.8 .4 2.6 .5 2.7 .5-2.9 .5 8.7 .4 2.7 .5-2.5 .5 1.0 .5 6.6 .4-8.7 .5 3.6 .5 1.6 .5 .3 .4-1.4 .5-2.2 .5-2.5 .5-2.4 .4-6.3 .5 3.1 .5-1.4 .5-.9 .4 .5 .5 1.7 .5 1.2 .5 4.8 .4 2.6 .5-.4 .5 2.5 .5 6.0 .4-1.1 .5-.8 .5 1.9 .5 .9 .5 1.3 .4 1.0 .5-.3 .5-3.8 .5-1.1 .4 2.8 .5-.5 .5-4.3 .5 2.0 .4 .7 .5-1.8 .5-.7 .5-.7 .4 .1 .5 .7 .5 1.3 .5-1.0 .4 3.2 .5-.5 .5 7.7 .5-6.3 .4 3.0 .5 1.5 .5-.2 .5-.2 .4 1.9 .5-5.0 .5 3.0 .5 4.7 .4-4.1 .5-.6 .5-.7 .5 .0 .5-4.5 .4 5.2 .5-5.5 .5 4.7 .5-5.4 .4 1.4 .5 1.2 .5-1.6 .5 .5 .4 .8 .5 .9 .5 .1 .5 1.2 .4-2.0 .5-1.2 .5 3.4 .5 1.6 .4 1.6 .5-.7 .5 .2 .5-1.9 .4 1.5 .5 1.5 .5-.4 .5 .8 .4 .8 .5-1.1 .5 4.4 .5-3.2 .4 3.7 .5-3.8 .5 .4 .5 4.7 .4-5.2 .5 1.2 .5 .4 .5-2.1 .5 .6 .4 .1 .5-1.5 .5 1.2 .5 .0 .4 2.0 .5 2.8 .5-9.5 .5 6.0 .4 .1 .5-1.3 .5 2.2 .5-1.7 .4-2.2 .5-.5 .5 3.7 .5 3.2 .4-3.6 .5 3.3 .5-4.6 .5-.1 .4 2.9 .5-2.2 .5 1.1 .5-.3 .4-.5 .5 1.0 .5-.1 .5 4.1 .4-2.7 .5-1.3 .5-1.2 .5 .9 .5-1.3 .4 3.7 .5-2.3 .5-1.9 .5 2.7 .4-.2 .5 2.4 .5 1.9 .5-5.4 .4-1.6 .5-.1 .5-2.5 .5 2.7 .4 2.5 .5-6.5 .5 5.4 .5 .7 .4-1.8 .5 1.7 .5 .1 .5-.4 .4-4.3 .5 4.5 .5-2.5 .5-1.3 .4 5.3 .5-.2 .5 .9 .5-4.7 .4 1.5 .5-.6 .5 .7 .5-1.2 .5 1.9 .4 1.2 .5 2.1 .5-2.2 .5-1.3 .4-.4 .5-.1 .5 1.0 .5 .2 .4-1.1 .5 .8 .5-2.0 .5-1.3 .4 4.2 .5-2.6 .5 3.1 .5 1.2 .4-4.2 .5 .4 .5 1.0 .5-.9 .4-2.2 .5 3.0 .5-1.9 .5 1.9 .4-1.4 .5 1.7 .5 .9 .5-3.1 .4 4.4 .5-2.0 .5-.2 .5 .0 .5-1.3 .4-1.9 .5 3.3 .5-1.0 .5 2.3 .4-3.1 .5 2.0 .5-.1 .5 .0 .4-.5 .5-1.2 .5 4.0 .5-4.0 .4 .0 .5 2.4 .5 .9 .5-2.8 .4-4.0 .5 4.2 .5 1.7 .5 1.1 .4-4.0 .5 2.2 .5-.5 .5 .7 .4-.3 .5-1.1 .5-.8 .5-.2 .4 .7 .5-1.7 .5 1.0 .5-2.8 .5 1.4 .4-3.8 .5 1.2 .5-.2 .5-.9 .4 .9 .5-1.0 .5 2.9 .5-2.9 .4-4.9 .5 .5 .5 1.5 .5-3.0 .4-3.5 .5-7.5 .5 3.0 .5-2.8 .4-2.6 .5 1.5 .5-3.3 .5-.9 .4 .5 .5 2.4 .5 3.5 .5 .0 .4 1.9 .5 1.8 .5 3.5 .5 .6 .4 1.8 .5 4.8 .5-2.2 .5 2.6 .5 4.2 .4-.8 .5 .2 .5-2.5 .5 .6 .4 .1 .5 1.7 .5 .4 .5-.6 .4 .0 .5 5.6 .5 .9 .5-3.0 .4 .4 .5-1.4 .5 .6 .5-.1 .4 1.0 .5-1.5 .5 .3 .5-1.0 .4 2.4 .5 2.7 .5-2.6 .5-2.2 .4 .7 .5 1.5 .5-.2 .5-.5 .4-5.2 .5 3.7 .5 1.0 .5 1.3 .5 .6 .4 .4 .5 .0 .5-2.3 .5 2.6 .4-2.7 .5 .4 .5-.1 .5 .2 .4 .4 .5 1.0 .5-2.1 .5 .3 .4 1.6 .5-.6 .5 4.7 .5-7.8 .4 1.0 .5 2.3 .5-1.7 .5 2.6 .4-.9 .5 .1 .5 .3 .5 .3 .4-.7 .5-.7 .5 1.4 .5-2.5 .4 1.3 .5 1.0 .5-.8 .5 1.2 .5 .2 .4 .0 .5-.6 .5-.9 .5 .4 .4 .8 .5 1.6 .5-.6 .5-1.1 .4 .3 .5-4.4 .5 3.3 .5 3.4 .4-2.4 .5 .0 .5 1.1 .5-2.4 .4-3.0 .5 4.1 .5-.7 .5-.1 .4-1.9 .5 1.0 .5 2.2 .5 2.0 .4-6.2 .5 3.5 .5-1.1 .5 1.2 .4-1.5 .5 3.5 .5-2.8 .5 .8 .5-.6 .4 .8 .5 .0 .5-1.2 .5-4.3 .4-.6 .5 4.7 .5 1.8 .5-.9 .4-.2 .5-3.2 .5 2.7 .5 .7 .4 .6 .5 .2 .5-1.3 .5 1.1 .4-4.5 .5 3.6 .5 .7 .5 1.0 .4 1.5 .5-2.3 .5 .0 .5-.9 .4 .0 .5-.5 .5 3.1 .5-2.9 .4-.5 .5 2.3 .5-1.4 .5-.2 .5 2.7 .4-5.2 .5 .4 .5 2.4 .5-3.6 .4 5.5 .5 1.4 .5-4.2 .5 2.5 .4-1.9 .5 .3 .5-.4 .5 2.4 .4-2.8 .5 3.1 .5-3.1 .5-.4 .4 6.5 .5-7.9 .5 .6 .5 2.0 .4 2.6 .5-1.2 .5-1.0 .5-5.4 .4 1.9 .5 3.9 .5 .0 .5 3.2 .4-4.9 .5 .6 .5-1.0 .5-1.5 .5 2.9 .4 .0 .5-3.5 .5 3.0 .5 1.3 .4-.6 .5-1.8 .5-4.7 .5 4.2 .4-.7 .5 1.2 .5 .3 .5-.2 .4-1.7 .5 1.0 .5-.7 .5 2.7 .4-.6 .5 1.4 .5-3.4 .5 1.4 .4-3.0 .5 .6 .5-.2 .5-.7 .4-1.0 .5 3.5 .5-3.2 .5 .6 .4-2.6 .5 1.6 .5-.5 .5 1.3 .5-3.9 .4 4.0 .5-1.9 .5-3.0 .5 .7 .4 .0 .5 1.3 .5-.8 .5-2.0 .4 2.2 .5 1.5 .5-4.0 .5 4.7 .4 .1 .5 .9 .5-2.4 .5 5.5 .4-3.3 .5 1.3 .5-1.2 .5-2.4 .4 .9 .5 3.6 .5 2.3 .5-1.5 .4-3.6 .5-1.2 .5 9.5 .5-4.9 .4 2.5 .5-1.1 .5 .0 .5 .7 .4-1.9 .5-.3 .5-2.4 .5 7.7 .5-7.0 .4 4.3 .5-4.5 .5 2.9 .5 1.6 .4-1.9 .5 .0 .5-.3 .5-2.5 .4 5.9 .5-3.2 .5 2.2 .5-1.4 .4-3.2 .5 2.0 .5-1.3 .5-1.8 .4 1.0 .5 3.5 .5-9.1 .5 3.8 .4-2.0 .5-1.0 .5-.8 .5-4.1 .4-4.6 .5-.5 .5-1.2 .5-1.9 .4-3.9 .5-1.4 .5-5.9 .5-2.7 .5-.1 .4-.7 .5 .6 .5-.5 .5 4.4 .4 4.2 .5 1.6 .5 5.9 .5-.4 .4 4.8 .5 1.4 .5 .0 .5 3.3 .4 .6 .5 3.5 .5 2.7 .5 .2 .4 .1 .5-3.3 .5 4.3 .5 1.2 .4-1.4 .5 .8 .5 .2 .5 .4 .4-2.2 .5 2.6 .5-.8 .5 1.2 .4-2.7 .5 2.1 .5-1.4 .5 3.3 .5 1.9 .4-2.0 .5-1.0 .5 .2 .5 .5 .4-1.4 .5-3.1 .5 6.1 .5-1.7 .4 .8 .5-.8 .5-.8 .5-2.7 .4 4.0 .5-.2 .5-5.6 .5 3.8 .4 4.6 .5-2.0 .5-1.9 .5 .7 .4 1.0 .5 1.0 .5-3.5 .5 2.5 .4-.3 .5 .5 .5-2.9 .5 1.8 .4 .9 .5-1.3 .5 1.0 .5-.4 .5 .4 .4 1.4 .5-.6 .5-3.2 .5 2.8 .4-3.9 .5 2.7 .5 1.4 .5 .3 .4 4.0 .5-5.9 .5 .8 .5 .5 .4 .6 .5 .7 .5-2.5 .5-.9 .4 .5 .5 2.0 .5-3.8 .5 1.7 .4 2.5 .5 1.8 .5-3.5 .5 1.2 .4-1.5 .5-.6 .5 1.0 .5-2.2 .4 1.8 .5 .6 .5 2.7 .5-1.4 .5-3.4 .4 .9 .5-3.0 .5-.3 .5 8.6 .4-7.3 .5 .8 .5 1.0 .5-2.3 .4 .6 .5-2.2 .5 3.1 .5-2.3 .4-1.4 .5 .4 .5 .6 .5-1.0 .4-1.0 .5-.5 .5-.2 .5 .1 .4-.8 .5 .6 .5-.7 .5 .0 .4-.6 .5 .5 .5 5.0 .5-4.6 .4 .3 .5-3.2 .5 4.4 .5-3.9 .5 3.7 .4 .2 .5 1.3 .5-.7 .5 .7 .4-4.1 .5 6.2 .5-.5 .5 2.7 .4-.1 .5-1.0 .5 2.6 .5-2.6 .4-2.2 .5 4.8 .5 1.8 .5-6.7 .4 3.3 .5-3.7 .5 4.7 .5 1.0 .4-3.7 .5 3.2 .5-.7 .5-1.6 .4 .7 .5-.2 .5 .0 .5 1.3 .4-3.0 .5 5.3 .5-2.7 .5 .1 .5 1.2 .4-3.5 .5 1.5 .5 1.8 .5-.1 .4-.6 .5 .9 .5-.4 .5 .3 .4 .8 .5-.8 .5 .9 .5-1.8 .4 1.5 .5-.5 .5-6.3 .5 5.5 .4 2.1 .5-2.4 .5-.3 .5-.1 .4 1.8 .5-1.9 .5-.7 .5 1.8 .4 4.1 .5-4.5 .5-4.3 .5 1.5 .4 1.5 .5 1.4 .5 1.3 .5-1.4 .5-3.3 .4 2.6 .5 .3 .5-1.5 .5-1.4 .4 .9 .5-.6 .5-.8 .5-4.9 .4 3.4 .5 1.3 .5-2.4 .5 .5 .4-1.7 .5-1.9 .5 1.4 .5 1.0 .4-3.0 .5-.7 .5-2.2 .5 .9 .4-.4 .5-1.2 .5 .3 .5-1.0 .4-1.6 .5 4.8 .5-.3 .5 .6 .4 2.2 .5-3.4 .5 5.0 .5 1.4 .5 1.0 .4-4.9 .5 2.4 .5 4.8 .5 1.2 .4 .6 .5-1.6 .5-.4 .5 2.3 .4-1.6 .5 3.6 .5-2.7 .5-4.7 .4 .7 .5 6.6 .5-2.7 .5-.6 .4-1.4 .5 2.3 .5 3.6 .5-8.5 .4 6.9 .5-1.6 .5 1.5 .5 .6 .4 .7 .5-3.6 .5 2.2 .5-2.4 .4 .5 .5 .1 .5 5.1 .5-1.9 .5-1.1 .4-2.2 .5-.6 .5 2.9 .5-.9 .4 1.4 .5-.8 .5-1.1 .5 .6 .4 1.2 .5-1.4 .5-3.6 .5 3.5 .4 1.2 .5-.7 .5 1.2 .5-.6 .4-.5 .5 .5 .5-1.8 .5-.4 .4-.5 .5 1.7 .5 .0 .5-.6 .4 2.1 .5-2.4 .5-1.9 .5 2.9 .4-.2 .5-3.6 .5 3.8 .5 .1 .5 2.2 .4-1.6 .5-1.5 .5 4.4 .5-1.8 .4 .6 .5-2.5 .5-.7 .5 2.8 .4-.5 .5-.8 .5-2.8 .5 2.1 .4-1.7 .5 5.0 .5-4.0 .5 2.8 .4-.9 .5-.8 .5 .6 .5-1.5 .4-2.3 .5 4.5 .5-1.7 .5-3.2 .4 3.2 .5 .9 .5 .5 .5 .1 .4-2.5 .5-3.1 .5 6.7 .5-2.4 .5-1.0 .4-.8 .5 3.4 .5-3.9 .5 3.8 .4-.8 .5-1.9 .5 3.3 .5 .3 .4-4.6 .5 2.2 .5 .1 .5-.3 .4 3.7 .5-3.6 .5 .7 .5 1.8 .4-.4 .5-1.7 .5 2.8 .5-3.2 .4 1.0 .5-3.6 .5 2.4 .5-.3 .4 .8 .5-3.0 .5 .9 .5 2.0 .4 3.5 .5-1.0 .5-2.5 .5-1.3 .4 1.9 .5-1.5 .5-.4 .5 1.1 .5-2.7 .4 .8 .5 3.0 .5-1.8 .5-1.4 .4 2.0 .5-1.2 .5 6.8 .5-5.6 .4 .6 .5 1.5 .5-2.2 .5 .7 .4-.9 .5 1.7 .5-1.6 .5-.2 .4 2.6 .5-2.7 .5-.5 .5 2.5 .4-1.7 .5 .2 .5-.7 .5-.1 .4 1.6 .5-4.1 .5 5.3 .5-2.9 .4 .4 .5 4.6 .5-4.9 .5-5.1 .5 5.0 .4-.4 .5 1.7 .5-4.3 .5 2.2 .4-.6 .5-1.0 .5 .6 .5-2.4 .4 .8 .5 .0 .5-.1 .5 .2 .4-1.7 .5 3.3 .5-.5 .5 .7 .4 .0 .5-.4 .5-.2 .5-1.8 .4 2.2 .5 1.9 .5 2.1 .5-4.8 .4 2.3 .5-1.2 .5 1.2 .5-.7 .4-.5 .5 1.6 .5-.6 .5 .3 .5 2.3 .4-1.4 .5-1.4 .5 .2 .5 1.0 .4-2.6 .5 4.1 .5-.5 .5-3.4 .4 .1 .5-.4 .5 2.9 .5-.9 .4 .9 .5 .1 .5 1.5 .5-1.4 .4-3.5 .5 2.7 .5 2.0 .5-.1 .4 .1 .5-.4 .5-2.0 .5 .3 .4 .4 .5-.5 .5 1.2 .5-1.0 .4 1.7 .5-4.2 .5 3.9 .5-1.5 .5 2.4 .4 .6 .5-1.9 .5-3.8 .5 .9 .4 3.7 .5-1.9 .5 1.1 .5 1.2 .4 .0 .5 4.2 .5-5.1 .5-.9 .4 .6 .5-.2 .5-.3 .5 5.9 .4-3.6 .5-2.3 .5 3.6 .5 1.5 .4-4.8 .5 .4 .5-.4 .5 .2 .4 1.0 .5-.3 .5-3.5 .5-2.9 .4 5.9 .5-1.1 .5 1.9 .5-5.0 .5 2.9 .4 1.2 .5 .7 .5-1.3 .5 .4 .4-.5 .5-.3 .5 .3 .5 1.1 .4-.4 .5-2.6 .5 2.6 .5 1.4 .4-2.1 .5 1.7 .5-.5 .5-.9 .4-2.4 .5 2.5 .5-.8 .5 5.0 .4-2.7 .5-1.6 .5 .6 .5 .4 .4 1.6 .5-2.2 .5-.8 .5-1.3 .4 2.8 .5-3.5 .5-1.3 .5 4.5 .5-.3 .4-1.2 .5 1.8 .5 .6 .5-2.5 .4-3.5 .5 1.9 .5 1.4 .5-.8 .4-1.2 .5 1.6 .5 .1 .5 .6 .4 .6 .5-1.3 .5 5.1 .5-6.8 .4 .8 .5-.8 .5-.1 .5-2.3 .4 2.1 .5 .0 .5-2.4 .5-1.1 .4-.8 .5 1.9 .5 2.2 .5-7.3 .4-.3 .5 5.0 .5-2.6 .5 .3 .5 .7 .4-1.8 .5 1.2 .5-1.0 .5 .0 .4 2.7 .5-2.1 .5-1.1 .5 .7 .4 3.2 .5-1.6 .5 .3 .5-4.6 .4 1.3 .5 3.4 .5 1.6 .5 6.3 .4-4.6 .5-3.2 .5 3.9 .5-.5 .4 3.1 .5 3.4 .5-4.8 .5 1.0 .4-1.2 .5-.7 .5 2.0 .5-3.1 .4 2.8 .5 1.5 .5-2.7 .5 2.3 .5-1.9 .4 1.9 .5-1.8 .5 1.0 .5-.2 .4-2.3 .5 3.2 .5-3.0 .5 3.0 .4-.4 .5 1.6 .5-1.7 .5-2.6 .4 2.3 .5 1.2 .5-3.1 .5 1.0 .4-.7 .5 3.3 .5-2.1 .5-.9 .4 2.2 .5-1.4 .5 1.2 .5 .8 .4-.7 .5 .9 .5-2.4 .5 1.8 .4-.6 .5-.7 .5 .7 .5-.1 .5-2.2 .4 .7 .5 .9 .5-1.5 .5 1.0 .4-.4 .5 .4 .5-1.8 .5 1.7 .4 .2 .5-1.1 .5-.7 .5-1.0 .4 2.8 .5 1.1 .5-2.2 .5-2.1 .4 1.8 .5-2.0 .5-1.2 .5 .8 .4-5.7 .5 2.8 .5 2.5 .5 2.7 .4-1.2 .5-1.9 .5-.2 .5-1.2 .4 2.1 .5-4.3 .5 4.9 .5 .1 .5-3.1 .4 3.6 .5-.6 .5-.5 .5 2.3 .4-2.0 .5 1.8 .5-2.1 .5 4.7 .4-1.5 .5-.7 .5-1.7 .5 8.1 .4-5.7 .5 2.9 .5 2.2 .5-4.2 .4-.3 .5-.5 .5 .9 .5-.1 .4-1.5 .5 .6 .5 2.9 .5 .7 .4-2.1 .5 5.8 .5-5.2 .5-1.0 .4 1.6 .5-.2 .5 .5 .5 3.8 .5-5.5 .4-.7 .5 1.7 .5-.8 .5 .9 .4 1.1 .5-2.2 .5 1.1 .5 1.5 .4-.4 .5-3.6 .5 1.8 .5 .3 .4 .6 .5-.5 .5-.3 .5 .2 .4 .7 .5-3.1 .5 2.6 .5 2.5 .4-2.0 .5 .6 .5 .2 .5 1.1 .4-4.8 .5-.1 .5 1.2 .5 .8 .4-2.2 .5 3.3 .5 .7 .5 .0 .5-1.2 .4-.1 .5-.5 .5 4.1 .5-2.1 .4 .1 .5-1.3 .5-2.6 .5 .5 .4-.3 .5 5.5 .5-5.3 .5 2.3 .4 .6 .5 .7 .5-1.3 .5 .4 .4-.8 .5 1.8 .5-3.7 .5 .8 .4 .8 .5 1.0 .5-1.0 .5-1.8 .4 4.2 .5-3.9 .5 1.2 .5 3.5 .4-1.7 .5-.5 .5 .4 .5-1.4 .4 1.3 .5-1.1 .5 .1 .5 .8 .5-.5 .4 2.4 .5-3.1 .5-.3 .5 1.9 .4-4.3 .5 2.1 .5 2.3 .5-4.6 .4 1.6 .5 2.8 .5-1.1 .5-3.1 .4 1.8 .5 2.5 .5-1.3 .5 .9 .4 1.8 .5 3.3 .5-4.7 .5-1.2 .4 .9 .5 2.0 .5-.9 .5-1.6 .4 2.6 .5-.4 .5-2.5 .5 .4 .4-.4 .5-1.0 .5 3.7 .5-.5 .5-3.9 .4 .7 .5 2.5 .5-4.5 .5 2.5 .4 .9 .5 .3 .5 1.3 .5-2.5 .4 .1 .5-1.0 .5 .9 .5 1.5 .4-1.1 .5 .8 .5 .2 .5-.3 .4-.5 .5 .2 .5 1.8 .5-2.2 .4-.8 .5 .1 .5 .4 .5-.8 .4 6.0 .5-6.2 .5 2.8 .5-.8 .4 5.2 .5-6.3 .5 2.7 .5-3.7 .5 .9 .4 .8 .5 1.8 .5-1.3 .5 .7 .4-1.1 .5-2.8 .5 1.0 .5 1.1 .4-1.0 .5 4.9 .5-3.1 .5 1.7 .4 3.0 .5-1.9 .5-5.0 .5-1.5 .4 4.3 .5-1.2 .5 .5 .5 1.9 .4-1.4 .5 .8 .5-.4 .5-.9 .4-.4 .5 1.0 .5 1.8 .5-.7 .4-.1 .5-2.4 .5-.5 .5 2.0 .5-.7 .4 4.1 .5-5.5 .5 5.4 .5-1.0 .4-8.0 .5 3.7 .5 2.3 .5-.8 .4-1.5 .5 2.9 .5-.5 .5-1.0 .4-.4 .5 2.5 .5-2.8 .5 1.0 .4-.1 .5-1.8 .5 2.3 .5-1.5 .4 .5 .5-.7 .5-.3 .5 2.0 .4-3.4 .5 2.9 .5 .3 .5 .4 .4-1.8 .5-2.2 .5 3.3 .5-3.4 .5 5.5 .4-7.9 .5 6.9 .5-1.4 .5-.2 .4-.2 .5-3.5 .5 4.3 .5-.4 .4 .1 .5-.1 .5 1.6 .5-1.9 .4 2.3 .5-6.4 .5 4.0 .5 .6 .4-5.7 .5 5.6 .5-1.8 .5 5.8 .4-2.9 .5-.9 .5 .3 .5 .8 .4-.9 .5 2.9 .5-6.4 .5 3.3 .4-3.4 .5 2.7 .5 .8 .5 .1 .5-3.3 .4 3.3 .5-.1 .5-5.9 .5 3.6 .4 1.8 .5 1.5 .5-1.9 .5 1.3 .4-3.0 .5 3.9 .5-1.0 .5-2.0 .4-.8 .5 2.4 .5 1.2 .5-1.4 .4-5.2 .5 4.3 .5 .7 .5-5.4 .4 1.5 .5 3.8 .5-1.6 .5 3.0 .4-1.6 .5 2.0 .5-1.9 .5-.2 .4 1.2 .5-.4 .5-.3 .5-1.5 .5-.2 .4 4.2 .5-2.8 .5 3.3 .5-4.4 .4 1.8 .5 .3 .5 .6 .5-2.5 .4 2.1 .5-3.4 .5 6.2 .5-5.6 .4 1.9 .5 3.3 .5-3.7 .5 .5 .4-.1 .5 .4 .5 .1 .5-1.2 .4-3.6 .5 4.5 .5 1.7 .5-1.4 .4 3.2 .5-5.6 .5 .9 .5 2.7 .4-7.3 .5 4.8 .5-3.4 .5 3.1 .5 2.2 .4-2.0 .5-1.4 .5 1.6 .5 1.4 .4-.2 .5-.1 .5 1.8 .5-2.5 .4 .4 .5 .7 .5-3.6 .5 3.1 .4 1.8 .5-2.3 .5 1.5 .5 .5 .4 .1 .5-2.0 .5-2.3 .5 3.0 .4-4.0 .5 3.7 .5-.1 .5 4.8 .4-4.5 .5-1.7 .5-2.0 .5 4.8 .4-1.8 .5 3.2 .5-1.4 .5-1.8 .5 2.4 .4-3.7 .5 2.6 .5 2.3 .5-8.5 .4 5.0 .5 1.5 .5-1.2 .5 1.1 .4-2.0 .5 1.0 .5-2.0 .5 4.5 .4-2.3 .5-.6 .5 .8 .5 2.1 .4-4.5 .5 1.2 .5 .8 .5-.6 .4 .2 .5 1.4 .5-3.9 .5 1.5 .4-.9 .5 .5 .5 1.4 .5 .8 .4-1.5 .5 .5 .5 .0 .5 1.0 .5-6.3 .4 5.8 .5 2.5 .5-2.2 .5 .2 .4-.5 .5-1.7 .5 3.5 .5-4.2 .4 3.2 .5-1.8 .5 1.7 .5-2.3 .4 3.6 .5-1.5 .5-3.7 .5 1.8 .4-.2 .5-.7 .5 1.6 .5-1.3 .4 3.7 .5-3.3 .5 1.4 .5-1.2 .4 1.3 .5 .1 .5-4.7 .5 1.4 .4 7.8 .5-4.0 .5 1.6 .5-2.1 .5 .8 .4-4.1 .5 2.4 .5 .7 .5 .0 .4-.6 .5-3.2 .5 3.6 .5 3.1 .4-2.4 .5 .5 .5 4.2 .5-1.9 .4-2.2 .5 1.1 .5-3.4 .5 3.5 .4-2.6 .5-2.4 .5 1.5 .5 2.7 .4 .5 .5-.4 .5 .1 .5 2.5 .4-4.5 .5-3.6 .5 .6 .5 3.8 .4-.9 .5-1.1 .5 .2 .5 .1 .5 .7 .4 3.7 .5-2.6 .5-2.3 .5 1.1 .4 .9 .5 1.0 .5-2.4 .5 1.7 .4-.7 .5 3.5 .5-5.4 .5 2.0 .4 .1 .5 1.3 .5-.9 .5 2.1 .4-2.4 .5-1.3 .5 1.4 .5-1.2 .4 5.3 .5-5.6 .5-.2 .5 1.3 .4-.8 .5 .0 .5-.3 .5-1.3 .4 3.6 .5-1.2 .5 1.0 .5-.4 .4 1.0 .5-4.9 .5 5.5 .5-3.3 .5 .7 .4 1.6 .5-.6 .5-.1 .5 .9 .4-.9 .5 3.8 .5-2.4 .5-.3 .4 .6 .5 .0 .5-.2 .5-.9 .4-.8 .5-1.9 .5 2.5 .5-1.8 .4 1.0 .5-1.3 .5 .4 .5 .2 .4 1.1 .5 .6 .5-1.1 .5-3.0 .4 3.7 .5-.8 .5 .6 .5-1.7 .4 1.4 .5-1.4 .5 1.2 .5-2.4 .5 1.9 .4 .0 .5 1.8 .5-2.7 .5 1.4 .4 1.6 .5-2.5 .5 .3 .5 5.9 .4-8.6 .5 2.5 .5 .9 .5-3.2 .4 3.7 .5-2.1 .5 3.3 .5 2.3 .4-6.1 .5-1.6 .5 3.9 .5-3.9 .4 2.1 .5-1.5 .5 1.7 .5 2.6 .4-.9 .5-3.4 .5 1.4 .5 2.8 .4-.9 .5-.3 .5 .7 .5 .2 .5-4.3 .4 2.9 .5-1.3 .5 3.3 .5-1.2 .4-.2 .5 1.2 .5-.8 .5-1.0 .4-2.4 .5 2.8 .5 1.7 .5-5.9 .4 7.1 .5-2.9 .5-.3 .5 .5 .4 5.2 .5-4.0 .5 1.0 .5-1.4 .4-5.2 .5 8.5 .5-3.8 .5-1.5 .4-1.3 .5 2.6 .5-1.0 .5 1.8 .4 1.2 .5-2.0 .5 2.4 .5-6.5 .5 3.6 .4-1.0 .5-.5 .5 6.3 .5-7.2 .4 2.7 .5 1.4 .5-1.7 .5-.9 .4 2.1 .5-.6 .5-.3 .5-1.0 .4 3.1 .5-2.3 .5 .0 .5 2.8 .4-2.9 .5-.7 .5 2.9 .5-1.9 .4 1.4 .5-1.5 .5 .9 .5-.6 .4-1.4 .5-2.2 .5 2.0 .5 1.5 .4-.7 .5 .7 .5 .1 .5 4.0 .5-4.6 .4 .5 .5-1.2 .5 1.3 .5-3.0 .4 2.0 .5 .1 .5 2.4 .5-7.5 .4 4.1 .5 .6 .5-1.4 .5 1.6 .4 1.8 .5-1.3 .5 1.8 .5-2.4 .4-4.8 .5 6.2 .5-2.6 .5 3.0 .4-1.0 .5-.8 .5 1.1 .5 .1 .4 1.3 .5-1.9 .5 .2 .5-.6 .4-.8 .5 5.2 .5-4.5 .5 .3 .5-1.7 .4 1.0 .5 .6 .5 2.1 .5 .0 .4-.3 .5-1.3 .5 1.5 .5-5.5 .4 4.1 .5-.5 .5-.1 .5-2.3 .4 8.2 .5-2.4 .5-1.3 .5-4.6 .4 4.0 .5-1.6 .5-4.0 .5 4.4 .4-2.1 .5 2.7 .5-.3 .5-5.8 .4 4.5 .5 1.5 .5 .2 .5-.3 .4-2.6 .5 3.1 .5 4.6"/>
<path stroke="#4d4d4d" stroke-width="2.0" d="M213.5 1397.4l.5-2.9 .5 4.1 .4-6.6 .5 2.8 .5-.7 .5 1.6 .4-2.6 .5 3.2 .5-1.7 .5 2.1 .4-2.2 .5-.2 .5 1.4 .5 3.5 .4-5.1 .5 4.2 .5-1.1 .5-4.0 .4 1.7 .5 .4 .5 2.2 .5-2.4 .4-2.3 .5 1.8 .5-.1 .5 .1 .4 3.3 .5-3.8 .5-.6 .5 1.1 .4 .4 .5 2.4 .5-2.6 .5-1.0 .5 3.4 .4-2.6 .5 .6 .5-.7 .5-1.0 .4 1.8 .5 .4 .5-2.4 .5 1.2 .4-.3 .5-1.0 .5 .3 .5 4.6 .4-1.6 .5-2.3 .5 1.2 .5-4.2 .4 5.6 .5-2.4 .5 1.1 .5-2.8 .4-.8 .5-1.9 .5 .1 .5 2.0 .4 1.4 .5 3.9 .5-.8 .5-2.4 .4-.3 .5 2.0 .5-3.3 .5 1.7 .5 2.3 .4 .5 .5-3.4 .5-1.5 .5 3.7 .4-.8 .5-1.4 .5 1.1 .5-2.7 .4 3.3 .5-.6 .5 .7 .5-3.1 .4 2.8 .5-.8 .5 .4 .5-.5 .4 .9 .5-.2 .5 .2 .5-3.2 .4 1.7 .5-1.5 .5 2.3 .5 .3 .4-2.0 .5 2.6 .5-.6 .5 .0 .4 .3 .5 2.5 .5-2.5 .5-2.5 .5 .6 .4 2.3 .5-1.2 .5 1.5 .5-.9 .4-.4 .5 1.3 .5-2.3 .5 .6 .4 .1 .5 .5 .5 2.5 .5-1.0 .4 .1 .5-1.0 .5-5.9 .5 4.8 .4 .7 .5 2.2 .5-2.6 .5 .6 .4 1.5 .5-2.2 .5 1.5 .5-.7 .4-.2 .5 .4 .5-.5 .5-1.9 .4 4.1 .5 1.7 .5-2.3 .5-2.0 .5 .9 .4 .6 .5-3.8 .5 4.0 .5-3.6 .4 5.3 .5-3.9 .5 4.5 .5-4.5 .4 1.1 .5 1.4 .5 3.5 .5-4.2 .4 .7 .5-1.8 .5 1.3 .5-1.3 .4 3.0 .5-1.6 .5-1.4 .5 1.5 .4-3.8 .5 5.2 .5-1.9 .5-1.2 .4 1.1 .5 .6 .5-.7 .5 1.6 .4-2.2 .5-.4 .5 .2 .5-.4 .5 .8 .4 1.0 .5 .9 .5-1.5 .5 .8 .4 2.6 .5-3.2 .5-2.9 .5 2.7 .4-4.7 .5 4.9 .5 5.0 .5-5.6 .4 2.8 .5-7.1 .5 8.0 .5-5.1 .4 3.0 .5-2.2 .5 .4 .5-1.5 .4-1.7 .5 4.4 .5 .0 .5-2.8 .4 2.3 .5-1.3 .5 3.0 .5-3.9 .4 2.1 .5 1.8 .5-2.0 .5 .5 .4 .7 .5-.5 .5 .6 .5-2.4 .5 3.4 .4-2.3 .5 2.3 .5-1.7 .5 .2 .4 2.3 .5-5.2 .5 3.9 .5-2.6 .4 2.2 .5-2.5 .5 1.0 .5-1.6 .4 3.0 .5-2.0 .5 .6 .5 1.3 .4-1.6 .5 2.4 .5-2.0 .5 2.9 .4-1.8 .5 4.4 .5-4.7 .5-1.4 .4 .7 .5 2.8 .5-.3 .5-3.5 .4 .0 .5 .0 .5 1.3 .5-1.6 .5 1.9 .4-1.3 .5 2.1 .5-2.4 .5 3.5 .4-3.1 .5-3.0 .5 2.0 .5 2.9 .4-2.8 .5 .5 .5 6.5 .5-5.8 .4 .7 .5-.3 .5-.2 .5 2.2 .4-5.7 .5 3.2 .5 .2 .5 .8 .4 .2 .5-6.4 .5 3.4 .5 1.2 .4 .4 .5 1.6 .5-.2 .5 1.7 .4-2.9 .5 .1 .5-1.5 .5 3.8 .5 .1 .4 1.1 .5-2.4 .5 1.1 .5-1.8 .4 1.3 .5-2.1 .5 1.5 .5 .0 .4-.6 .5 1.1 .5-.9 .5-1.6 .4-2.1 .5 2.4 .5-.7 .5 3.5 .4-2.2 .5 .7 .5 1.7 .5-1.5 .4 .5 .5-1.7 .5 .7 .5 2.2 .4-3.6 .5 .7 .5 2.3 .5-4.6 .4-2.1 .5 2.1 .5 1.6 .5-2.9 .5-2.3 .4 5.4 .5-6.6 .5-1.6 .5-4.4 .4 1.2 .5 1.5 .5-3.6 .5-.3 .4 1.0 .5-3.0 .5 5.5 .5-1.2 .4 3.6 .5 3.3 .5-1.0 .5 2.5 .4-.7 .5 1.9 .5 1.2 .5-.3 .4-.3 .5 1.9 .5-2.5 .5 1.4 .4 1.9 .5-1.0 .5-2.2 .5 3.0 .4 1.9 .5-3.8 .5 4.0 .5-7.9 .5 8.8 .4-2.8 .5-1.2 .5-.6 .5 1.4 .4 .0 .5 .2 .5 .1 .5-2.4 .4 1.4 .5-.7 .5 3.1 .5-3.0 .4 2.2 .5-2.9 .5 2.9 .5-.7 .4 .2 .5 1.0 .5-1.6 .5 1.3 .4 1.7 .5-1.5 .5-.5 .5 .3 .4 1.5 .5-6.1 .5 9.5 .5-5.6 .4 2.2 .5-5.0 .5 2.1 .5 .9 .5 .1 .4 2.6 .5-3.5 .5-.4 .5 1.4 .4-2.0 .5 3.9 .5-3.5 .5-4.6 .4 5.9 .5-1.6 .5 3.4 .5-4.8 .4 1.8 .5 .0 .5-.8 .5-3.6 .4 2.4 .5-2.8 .5-.5 .5 1.7 .4-.7 .5-.4 .5-1.6 .5 5.3 .4 .7 .5-.2 .5 .9 .5-1.6 .4 1.4 .5 1.0 .5-1.7 .5 2.0 .5 .5 .4-1.1 .5 .4 .5-4.5 .5 3.7 .4-.3 .5 .1 .5 3.0 .5 .3 .4-6.0 .5 3.1 .5-1.8 .5 1.5 .4 3.2 .5-6.6 .5 .4 .5-1.7 .4-.5 .5-1.8 .5-6.1 .5-.7 .4-.7 .5 1.8 .5 2.1 .5 2.6 .4 6.1 .5-2.4 .5 3.1 .5-1.3 .4 .8 .5 3.9 .5-.8 .5-.7 .5-1.8 .4 1.1 .5 3.3 .5-2.6 .5-3.1 .4 2.3 .5 1.4 .5 1.5 .5-1.8 .4-.8 .5 2.2 .5-1.8 .5-.2 .4 1.1 .5-.1 .5 1.7 .5-1.9 .4 .7 .5-.6 .5 .7 .5 1.6 .4-4.4 .5 4.4 .5 .1 .5-2.6 .4-5.1 .5 5.4 .5 .7 .5-1.8 .4-.1 .5 .9 .5 2.6 .5-1.8 .5 .4 .4-.4 .5 .3 .5-.8 .5 .2 .4-2.1 .5 7.6 .5-6.9 .5 2.8 .4-.9 .5 .5 .5-.9 .5 .1 .4-.6 .5-2.0 .5 2.9 .5-.1 .4-.9 .5 3.1 .5 .1 .5-3.0 .4 .3 .5-1.0 .5 1.9 .5-2.0 .4 .6 .5 4.0 .5-4.9 .5 3.7 .4-2.0 .5-1.4 .5 2.6 .5-1.1 .5 .9 .4-1.5 .5-.3 .5-1.4 .5 .2 .4 1.9 .5-.4 .5-2.6 .5 1.6 .4 1.3 .5-3.1 .5-2.3 .5 5.9 .4-2.8 .5 2.0 .5 3.0 .5-5.1 .4 2.0 .5-.9 .5 2.4 .5-1.1 .4-2.5 .5 3.4 .5 1.5 .5-1.4 .4-2.3 .5 6.3 .5-4.6 .5-1.0 .4-2.0 .5 2.4 .5-2.6 .5 .6 .5 2.3 .4 .4 .5-.6 .5-.6 .5 1.6 .4 .1 .5-5.3 .5 4.3 .5 .3 .4-1.1 .5-.7 .5 1.1 .5-5.3 .4 5.9 .5-2.5 .5-.4 .5-.3 .4-1.4 .5-1.6 .5-1.4 .5-1.9 .4-5.2 .5 5.8 .5 1.2 .5-5.6 .4-1.5 .5-.2 .5 .7 .5 .5 .4 1.0 .5 3.2 .5-.7 .5 .1 .5 3.3 .4 3.5 .5 4.8 .5-6.3 .5 2.9 .4-2.9 .5 3.2 .5-2.2 .5 1.0 .4 2.5 .5-3.0 .5 2.2 .5-.4 .4 6.0 .5-4.3 .5-1.8 .5 5.4 .4-4.0 .5-2.0 .5 .8 .5 2.2 .4 2.1 .5-7.0 .5 3.8 .5-1.4 .4 2.0 .5-6.3 .5 6.5 .5-.8 .4 .4 .5-.5 .5 .6 .5 .9 .4-4.0 .5 2.0 .5-.7 .5 1.1 .5 .5 .4-.6 .5 1.4 .5-6.3 .5 3.6 .4-.2 .5-.6 .5 2.6 .5 .3 .4-1.0 .5 1.1 .5-1.2 .5 .7 .4-3.7 .5 2.9 .5-2.4 .5 3.8 .4-.4 .5 1.1 .5 .2 .5-1.9 .4-1.9 .5 1.0 .5 1.0 .5 .1 .4 .0 .5-3.1 .5 .1 .5 2.5 .4-3.6 .5 2.3 .5-.6 .5 1.2 .5-4.4 .4 2.8 .5-2.1 .5 .6 .5-3.0 .4 1.5 .5-.4 .5-.7 .5-.3 .4 .2 .5 .3 .5 1.1 .5-2.2 .4 3.4 .5-1.8 .5 2.3 .5 .5 .4-1.5 .5 1.4 .5 2.3 .5-.1 .4-.2 .5 .9 .5-.8 .5 .4 .4-.1 .5 1.3 .5-3.7 .5 4.2 .4-6.6 .5 4.7 .5 4.6 .5-5.1 .5 .7 .4-1.1 .5 3.1 .5-3.0 .5 1.1 .4-.3 .5-.6 .5 1.2 .5-.6 .4 3.3 .5-3.1 .5 .8 .5-4.8 .4 5.4 .5-1.4 .5-1.1 .5 .7 .4-5.5 .5 3.3 .5 2.2 .5-1.2 .4 2.0 .5-2.0 .5 1.6 .5-2.0 .4-4.9 .5 2.6 .5-2.5 .5-4.2 .4-2.6 .5-1.3 .5-.3 .5-4.9 .5-2.0 .4-2.3 .5-1.0 .5-.1 .5 .4 .4 5.1 .5 .7 .5-2.0 .5 5.7 .4 7.5 .5 2.6 .5-2.1 .5 1.1 .4 1.5 .5 .6 .5 1.4 .5 1.0 .4-1.7 .5 6.2 .5-4.9 .5-.9 .4 3.0 .5-.7 .5 1.6 .5-2.2 .4 1.6 .5-1.8 .5 3.4 .5-2.5 .4 4.7 .5-4.6 .5 1.4 .5-.4 .5 3.8 .4-4.0 .5 .8 .5 1.9 .5-4.4 .4 2.3 .5 1.9 .5-2.7 .5-1.0 .4 2.1 .5 1.1 .5 .7 .5-2.1 .4-1.2 .5-3.8 .5 4.7 .5-1.5 .4 2.0 .5 .4 .5 .0 .5-1.9 .4 6.7 .5-4.4 .5-.8 .5 .8 .4 1.9 .5-3.9 .5 1.7 .5-1.6 .4-.2 .5 5.8 .5-7.5 .5 1.4 .5 1.0 .4-1.1 .5-1.2 .5 1.1 .5-2.8 .4 .5 .5-.7 .5-2.3 .5-.6 .4 2.7 .5-5.0 .5 6.7 .5-6.6 .4 2.5 .5-2.7 .5-.3 .5 .6 .4-1.2 .5 1.9 .5 1.5 .5 .8 .4-.9 .5-1.5 .5 7.7 .5-.5 .4-2.7 .5 2.9 .5-2.9 .5 1.4 .4 6.5 .5-7.0 .5 2.5 .5 .9 .5 .7 .4 1.7 .5-5.3 .5 3.4 .5-.2 .4-.5 .5-.8 .5 2.7 .5-2.2 .4 1.1 .5-1.1 .5 .4 .5 4.9 .4-5.8 .5 2.8 .5-4.2 .5 6.2 .4-3.2 .5-.9 .5 1.7 .5-.3 .4 2.9 .5-3.1 .5 .4 .5-1.5 .4 1.8 .5-.3 .5-1.2 .5-.8 .4 5.7 .5-4.9 .5 1.4 .5-4.0 .5 2.0 .4-.6 .5 2.1 .5-1.3 .5 1.7 .4-1.8 .5-.1 .5 .0 .5-.4 .4 1.1 .5-.2 .5 2.4 .5-2.9 .4-1.3 .5 3.6 .5 1.6 .5-3.4 .4-2.6 .5 2.4 .5-1.3 .5 .8 .4 .2 .5-2.6 .5 2.8 .5 .0 .4-1.0 .5-1.2 .5 2.3 .5 .3 .4 4.3 .5-4.6 .5-1.6 .5-.1 .5-3.6 .4 2.4 .5 3.7 .5-5.1 .5 3.4 .4-1.2 .5 1.6 .5 .6 .5-1.2 .4 .4 .5-4.4 .5 1.0 .5-1.0 .4 1.7 .5-3.9 .5 5.0 .5 .2 .4-1.2 .5-2.5 .5 .1 .5 .2 .4-1.7 .5 .3 .5 .0 .5 .1 .4 .1 .5-.6 .5 2.9 .5-1.4 .4 .9 .5 .9 .5-1.1 .5 4.1 .5-2.6 .4 2.0 .5-.3 .5-1.9 .5-3.7 .4 5.5 .5 1.2 .5-2.7 .5 3.1 .4-2.5 .5 .9 .5-1.5 .5 .4 .4 2.0 .5 .5 .5-4.0 .5 4.6 .4-1.4 .5 .1 .5-.2 .5-2.0 .4 5.1 .5-1.3 .5-4.0 .5 1.3 .4-.8 .5 1.2 .5-.1 .5 3.2 .4-2.6 .5 2.4 .5-1.5 .5-3.4 .5 2.5 .4-.9 .5-2.3 .5 1.7 .5 .4 .4-2.8 .5 3.5 .5 .7 .5 2.1 .4-11.7 .5 3.7 .5-2.2 .5-1.9 .4 .3 .5-3.2 .5-2.8 .5-3.6 .4-7.2 .5-3.9 .5-6.3 .5-4.9 .4-11.1 .5-.1 .5 2.8 .5 5.4 .4 3.4 .5 10.8 .5 7.6 .5 3.4 .4 .4 .5 6.9 .5-4.9 .5 8.8 .5 1.4 .4 2.0 .5-1.1 .5 1.3 .5 .1 .4-1.7 .5 2.3 .5 1.4 .5 .1 .4-2.1 .5-2.7 .5 6.3 .5-1.5 .4-2.9 .5 2.5 .5-1.6 .5 1.6 .4 .8 .5-2.8 .5 1.3 .5-6.0 .4 1.1 .5-1.3 .5-2.6 .5-4.0 .4-1.8 .5-8.8 .5-4.5 .5-1.6 .4 1.8 .5 4.6 .5 4.4 .5 5.1 .4 5.1 .5-.7 .5 2.7 .5 .0 .5 1.4 .4-1.1 .5-.7 .5-1.3 .5-2.0 .4-1.8 .5-7.0 .5-3.3 .5-12.8 .4-1.5 .5-9.5 .5-6.3 .5-4.9 .4 1.8 .5 3.6 .5 5.3 .5 16.2 .4 4.1 .5 1.7 .5 8.6 .5 5.5 .4-6.2 .5 6.5 .5 2.1 .5 2.9 .4 .5 .5-2.4 .5 .5 .5-.3 .4 2.4 .5-.8 .5 .5 .5 2.9 .5-3.5 .4-1.2 .5-.6 .5-.2 .5 1.5 .4-4.8 .5-.1 .5-2.6 .5-2.9 .4-3.1 .5-3.0 .5-3.7 .5-4.4 .4-1.4 .5-2.4 .5-1.4 .5-2.5 .4 .2 .5-3.0 .5-4.6 .5-3.5 .4 1.1 .5-19.3 .5-12.7 .5-15.5 .4-27.7 .5-14.4 .5-16.6 .5-29.2 .4-13.1 .5-6.6 .5-1.8 .5 9.9 .5 15.2 .4 26.7 .5 29.2 .5 11.7 .5 21.6 .4 12.3 .5 17.8 .5-.2 .5 22.8 .4 1.4 .5 5.5 .5 4.1 .5 1.5 .4 1.4 .5 .4 .5 2.1 .5 3.5 .4-1.3 .5-2.8 .5 1.3 .5 .5 .4 .7 .5 1.6 .5 1.6 .5 2.3 .4-1.2 .5 4.3 .5 1.6 .5 2.9 .4 .5 .5 2.2 .5-.9 .5 1.5 .5-1.4 .4 3.4 .5 3.3 .5-2.3 .5 .3 .4-.6 .5 3.0 .5-1.8 .5 2.3 .4-5.3 .5 3.2 .5-1.3 .5-1.2 .4 1.2 .5 .9 .5-3.3 .5-.9 .4 3.8 .5-1.5 .5-.4 .5-3.0 .4-2.8 .5 4.3 .5 .2 .5-.4 .4 .1 .5-.1 .5-.6 .5 2.2 .4-1.0 .5 1.9 .5-.5 .5 .5 .5-1.5 .4 2.4 .5 2.0 .5-.1 .5 .6 .4 .6 .5 3.4 .5-4.2 .5 .0 .4 1.2 .5-6.7 .5 5.3 .5-.5 .4 1.1 .5-6.6 .5 5.1 .5 3.3 .4-4.8 .5 2.5 .5-.4 .5-2.8 .4-1.6 .5 3.3 .5-4.0 .5 .8 .4 2.0 .5-.4 .5 .0 .5-.5 .4 .1 .5 5.1 .5-3.9 .5 .5 .5-.4 .4-4.8 .5 7.1 .5 4.5 .5-6.0 .4 2.1 .5-.1 .5 .6 .5-.1 .4 .6 .5-.3 .5 .4 .5-1.0 .4 2.5 .5 1.6 .5-3.0 .5-.9 .4-1.2 .5 3.1 .5 1.1 .5-5.4 .4 3.3 .5-.8 .5 .9 .5-.9 .4-.9 .5 2.7 .5-3.0 .5 .6 .4 1.8 .5 .6 .5 .8 .5-.9 .5-.3 .4 1.9 .5 3.5 .5-3.5 .5-.2 .4-2.2 .5 .1 .5-.3 .5-.3 .4 .0 .5-2.5 .5 3.3 .5 .2 .4 .9 .5-1.0 .5-1.6 .5 1.3 .4 .1 .5-1.3 .5 2.6 .5-2.7 .4 .7 .5 3.4 .5-2.0 .5 .7 .4-2.1 .5 1.3 .5-1.8 .5 .6 .4 .2 .5 1.1 .5-3.3 .5 5.8 .5-6.5 .4 3.7 .5-2.4 .5-1.0 .5 4.1 .4-2.7 .5 1.8 .5-2.4 .5-1.1 .4 .2 .5 .8 .5 2.6 .5-3.8 .4-.3 .5-4.3 .5 3.2 .5-1.2 .4-1.0 .5-.3 .5-.1 .5-4.2 .4-.9 .5-.9 .5 .2 .5-3.6 .4-3.3 .5 1.0 .5-1.9 .5-.3 .4 .9 .5-5.7 .5 6.6 .5 1.6 .5-1.0 .4-.3 .5-2.4 .5 6.3 .5-15.4 .4 8.4 .5-7.3 .5-5.3 .5-17.3 .4-2.1 .5-14.6 .5-14.5 .5-16.5 .4-10.0 .5-3.3 .5 4.7 .5 11.5 .4 8.4 .5 15.3 .5 15.9 .5 10.7 .4 11.2 .5 8.6 .5 6.5 .5 .5 .4 4.9 .5-.7 .5 4.8 .5-.4 .4 .4 .5 3.2 .5-.4 .5 .1 .5 .7 .4 3.0 .5-2.4 .5 1.2 .5 3.0 .4-1.6 .5-.6 .5 5.2 .5 .5 .4-4.5 .5-.7 .5 1.6 .5 .7 .4-2.6 .5 1.4 .5-.2 .5-9.3 .4 9.1 .5-8.7 .5 .3 .5 .7 .4-2.2 .5-8.4 .5-2.4 .5-2.1 .4-2.2 .5-1.7 .5 .9 .5 4.9 .4 .4 .5 3.8 .5 8.0 .5-2.1 .5-1.6 .4 6.4 .5 3.6 .5 .6 .5-4.0 .4 4.3 .5 3.8 .5-.1 .5-1.2 .4-.4 .5 1.4 .5-4.1 .5 3.9 .4 .9 .5 .4 .5-2.0 .5-4.9 .4 5.4 .5 .2 .5-.3 .5-2.2 .4 .3 .5-.1 .5-2.5 .5-.1 .4-6.9 .5 3.9 .5-2.3 .5 .1 .4-1.8 .5-.5 .5 .8 .5 .6 .5 2.4 .4 1.8 .5-2.1 .5 4.6 .5 1.4 .4 3.8 .5-1.1 .5-.1 .5-1.6 .4 3.7 .5-6.7 .5 7.7 .5-1.0 .4-4.4 .5-2.4 .5 3.3 .5-.7 .4-1.7 .5-.6 .5-1.1 .5-6.9 .4 2.2 .5-1.5 .5 .4 .5 1.4 .4 1.5 .5 1.2 .5 3.0 .5-5.3 .4 8.0 .5-1.5 .5 2.6 .5 .6 .4 1.9 .5-1.6 .5 .6 .5 .1 .5 .9 .4-2.6 .5 3.3 .5-1.7 .5 1.7 .4 1.0 .5 .3 .5-3.0 .5 2.4 .4-.7 .5-3.6 .5 1.8 .5-.2 .4 1.2 .5 .3 .5 .6 .5 .1 .4-.7 .5 2.7 .5-1.3 .5 1.9 .4-2.3 .5-.4 .5 .2 .5-2.8 .4 2.6 .5-1.4 .5 5.8 .5-2.6 .4-2.8 .5 1.1 .5 .5 .5 .0 .5-.6 .4-.4 .5 2.4 .5-3.0 .5-4.2 .4 5.6 .5 .0 .5-5.8 .5 3.3 .4 .1 .5-2.2 .5 1.8 .5-4.5 .4 .5 .5 .4 .5-2.6 .5-6.0 .4-.1 .5-1.2 .5 .6 .5 2.1 .4-1.7 .5 4.0 .5 2.2 .5 2.1 .4 .8 .5 2.5 .5-1.4 .5 3.4 .4-.4 .5 1.0 .5 .6 .5-1.0 .5 .0 .4 1.9 .5-1.3 .5 .4 .5 .4 .4-1.4 .5 2.7 .5-3.9 .5 5.7 .4-2.7 .5-1.6 .5 2.4 .5 .2 .4-1.5 .5 .7 .5-3.8 .5 3.3 .4 3.9 .5-8.1 .5 4.0 .5 1.3 .4-1.8 .5-3.0 .5 3.6 .5 2.8 .4-1.1 .5 1.9 .5-6.1 .5 1.8 .4 3.7 .5 .7 .5-3.5 .5-5.4 .5 5.8 .4 1.7 .5-2.3 .5 2.8 .5-7.6 .4 6.2 .5-3.5 .5 4.7 .5-2.3 .4 1.0 .5-4.5 .5 4.2 .5-2.7 .4 2.0 .5 .2 .5 1.1 .5-1.4 .4-1.9 .5 2.7 .5-4.4 .5 1.8 .4 2.1 .5-.1 .5-2.5 .5 .4 .4 3.2 .5-.5 .5-1.0 .5 2.1 .4-3.1 .5 2.7 .5-3.3 .5 4.1 .5-1.8 .4-.6 .5-.8 .5-1.0 .5 1.8 .4 1.2 .5-.4 .5-.5 .5-1.1 .4 3.4 .5-3.1 .5 .0 .5 1.7 .4-.6 .5-.6 .5-.2 .5 3.5 .4-2.9 .5-2.3 .5 1.7 .5 3.9 .4-5.4 .5 2.3 .5-5.7 .5 6.6 .4-1.4 .5 1.3 .5 .6 .5-1.3 .4-3.1 .5 2.1 .5 .5 .5 1.3 .5-1.9 .4-.6 .5 .2 .5 1.2 .5 1.0 .4 2.1 .5-2.9 .5 1.3 .5 1.3 .4-2.5 .5 2.4 .5-2.7 .5 .1 .4 .0 .5-1.6 .5-.9 .5 3.2 .4-4.5 .5 3.8 .5 4.9 .5-5.4 .4 1.2 .5-1.1 .5-.2 .5 1.1 .4 .7 .5-2.5 .5 1.8 .5-1.2 .4-3.7 .5 4.1 .5 .8 .5-.8 .5 .7 .4 .1 .5-.8 .5 .6 .5-.8 .4 4.4 .5-3.2 .5-5.9 .5 6.9 .4-.3 .5 .3 .5-1.9 .5-2.6 .4 3.4 .5-1.1 .5 .1 .5-1.2 .4 6.9 .5-5.6 .5-1.2 .5 1.3 .4 1.7 .5-1.2 .5 1.3 .5 .4 .4 .1 .5-.8 .5-.6 .5-.9 .4 .2 .5-.4 .5-.6 .5 1.6 .5-3.7 .4 4.5 .5-5.4 .5 3.0 .5 .1 .4 1.1 .5-.5 .5-1.4 .5 2.7 .4 .2 .5-2.6 .5 .4 .5 2.6 .4-3.1 .5 1.4 .5-5.8 .5 1.2 .4 3.9 .5-2.9 .5-.5 .5-1.0 .4-1.7 .5-.6 .5 2.8 .5-.2 .4-10.0 .5 .2 .5-2.2 .5-2.9 .4-.5 .5-.2 .5 .1 .5 2.4 .5 3.3 .4 .4 .5 7.1 .5 1.2 .5-4.2 .4 3.1 .5-.1 .5 2.2 .5 .6 .4 1.0 .5 3.8 .5-1.4 .5-2.0 .4-2.6 .5 4.2 .5-.7 .5 .9 .4-.5 .5-1.4 .5 .3 .5 .8 .4 2.0 .5-1.8 .5 6.3 .5-4.4 .4 1.1 .5-2.3 .5 .0 .5-3.5 .4 3.9 .5 1.7 .5-4.4 .5 2.3 .5 1.4 .4-.1 .5-.7 .5-1.2 .5-.6 .4-.1 .5-1.3 .5 2.6 .5-1.1 .4 1.1 .5 1.0 .5-7.5 .5 4.1 .4 .7 .5-.7 .5-.1 .5 1.5 .4-4.9 .5 .2 .5-4.2 .5 .9 .4-2.2 .5-8.0 .5 2.3 .5-.2 .4-4.6 .5-2.6 .5-1.7 .5-.6 .4 .0 .5 2.5 .5-1.1 .5 7.9 .5 .9 .4 2.0 .5 3.0 .5 3.2 .5 3.1 .4 .6 .5 5.1 .5-5.0 .5 .1 .4 2.2 .5-1.8 .5 1.0 .5 2.2 .4 1.7 .5-.9 .5-4.0 .5 7.1 .4-2.2 .5-.8 .5 .2 .5-.8 .4-.2 .5 1.6 .5-2.4 .5 3.3 .4-1.4 .5 .3 .5 .2 .5 1.8 .4-7.2 .5 5.1 .5-2.4 .5 .4 .5 5.8 .4-8.1 .5 2.0 .5 4.0 .5-1.3 .4-2.6 .5 5.3 .5-2.9 .5 3.8 .4-6.3 .5 3.0 .5-2.6 .5 .4 .4 .7 .5 .4 .5 .0 .5-.3 .4-.4 .5-.3 .5 1.3 .5-.4 .4-2.0 .5 .5 .5 2.1 .5-.9 .4-1.0 .5 3.4 .5-2.6 .5 2.4 .4-2.0 .5-2.4 .5 2.9 .5-.7 .4-2.9 .5 .4 .5 2.1 .5 2.3 .5-1.7 .4 1.0 .5-1.3 .5-.4 .5 3.0 .4 1.3 .5-4.4 .5 1.9 .5-2.0 .4-.3 .5 1.2 .5-.6 .5-.5 .4 .6 .5-7.6 .5 7.6 .5-3.0 .4 1.9 .5-1.8 .5-2.5 .5-1.0 .4 .3 .5-1.0 .5-.6 .5-1.2 .4 1.2 .5 .4 .5-2.5 .5 5.8 .4 2.3 .5-1.9 .5 .1 .5-.6 .5-.5 .4 3.3 .5-4.4 .5 5.5 .5-4.9 .4 6.7 .5-2.0 .5 .8 .5 1.2 .4 1.0 .5-4.7 .5 1.3 .5 3.0 .4-3.0 .5 1.0 .5 .6 .5 .9 .4-.6 .5 .1 .5-1.7 .5 2.9 .4-.9 .5 3.0 .5-3.1 .5 .8 .4-2.0 .5 1.3 .5-.8 .5-1.4 .4 7.2 .5-2.0 .5-4.0 .5 1.3 .5 .8 .4-2.4 .5 .3 .5 2.8 .5-2.1 .4 .2 .5 1.0 .5-1.0 .5 .2 .4-.8 .5 3.0 .5-.8 .5-1.9 .4 1.3 .5 1.5 .5-.1 .5-5.1 .4 2.4 .5 .2 .5-1.0 .5 .2 .4 .0 .5 .1 .5 .4 .5 .8 .4-.1 .5-.9 .5-1.1 .5-2.2 .4 .6 .5-4.7 .5-2.5 .5 4.4 .5 .4 .4-.6 .5-.4 .5-.3 .5 .3 .4-.2 .5 .0 .5 1.2 .5 .5 .4 .4 .5 2.2 .5 .1 .5-1.0 .4-.3 .5 2.4 .5 .8 .5-.7 .4 1.5 .5-.7 .5-.1 .5-.7 .4 .6 .5 .7 .5 1.8 .5-2.1 .4-2.7 .5 2.2 .5 1.4 .5-.3 .4-1.1 .5 .9 .5 1.9 .5-2.8 .5 1.8 .4-1.2 .5-.5 .5 3.4 .5-3.1 .4-.1 .5 4.6 .5-4.6 .5-.8 .4-1.2 .5 3.4 .5-.1 .5-1.6 .4 .9 .5 .0 .5 1.2 .5-5.6 .4 3.5 .5-3.4 .5 2.3 .5 1.6 .4 .1 .5-1.0 .5-1.3 .5 5.2 .4-4.3 .5 4.2 .5 .3 .5-3.0 .4-1.8 .5-.2 .5-1.4 .5 2.2 .5 .1 .4-.9 .5-.8 .5-1.2 .5-.5 .4-2.4 .5 .1 .5-3.3 .5 1.2 .4-4.0 .5 3.3 .5-5.7 .5-.6 .4-.7 .5 .3 .5 2.5 .5 1.5 .4 3.2 .5-1.2 .5 .4 .5 .3 .4 4.1 .5-1.2 .5 7.0 .5-6.3 .4 5.0 .5 .3 .5-1.1 .5 3.9 .4-8.4 .5 5.5 .5 .3 .5-.2 .5 .4 .4-.8 .5 .4 .5 2.5 .5 1.1 .4-7.4 .5 3.1 .5 .8 .5-.3 .4-4.1 .5 5.0 .5-1.6 .5 3.3 .4-.4 .5-2.0 .5 1.3 .5-.6 .4-.4 .5 .8 .5-1.5 .5 .3 .4 1.5 .5-1.1 .5-.6 .5 1.0 .4-2.7 .5 1.3 .5 .8 .5 3.8 .4-2.7 .5 .0 .5 .6 .5-1.3 .5 3.0 .4-4.4 .5 4.6 .5-5.8 .5 1.6 .4 5.9 .5-6.8 .5-2.8 .5 4.4 .4-1.3 .5-1.2 .5-.1 .5 1.6 .4 .0 .5 3.9 .5-5.0 .5 2.8 .4-1.9 .5-1.4 .5-1.8 .5 5.2 .4-3.2 .5 .1 .5 .9 .5 5.1 .4-5.5 .5-1.2 .5 1.4 .5-.4 .4 .1 .5-1.8 .5 .9 .5 .9 .5-1.9 .4-1.7 .5 2.5 .5-2.0 .5-.6 .4-1.7 .5 2.4 .5-1.9 .5 .1 .4 3.1 .5-7.6 .5-1.4 .5-.7 .4-2.3 .5 .3 .5-.9 .5-.5 .4-5.2 .5 3.4 .5-3.3 .5-.5 .4-.9 .5-1.4 .5-1.4 .5-.5 .4-2.8 .5-3.1 .5 6.5 .5-6.0 .4-.5 .5-2.2 .5 .3 .5-1.6 .5 .8 .4 .2 .5 1.8 .5 .8 .5 .0 .4 2.1 .5 5.0 .5 1.4 .5 2.8 .4-2.4 .5 5.6 .5-1.8 .5 3.7 .4-6.3 .5-1.9 .5 1.3 .5 .7 .4-4.5 .5-.3 .5 .3 .5 1.0 .4 .6 .5 2.7 .5 1.6 .5-.5 .4 4.7 .5 2.0 .5 2.0 .5 5.4 .4 .4 .5-.4 .5 3.3 .5 1.0 .5 1.1 .4-1.5 .5-.3 .5-1.2 .5 .3 .4 2.2 .5-5.3 .5 2.9 .5 1.8 .4 1.4 .5 3.5 .5-3.6 .5-1.0 .4 .7 .5-1.1 .5 .8 .5 2.2 .4-3.2 .5 .7 .5 2.0 .5-2.2 .4 2.4 .5 3.6 .5-.4 .5-7.7 .4 4.9 .5-.2 .5-.7 .5-.7 .4 .6 .5-.7 .5-5.0 .5 6.6 .5 .2 .4 1.4 .5-5.9 .5 2.8 .5 .8 .4-2.2 .5 3.0 .5-4.8 .5-.5 .4 1.4 .5-4.5 .5 .1 .5 .9 .4-.9 .5-.5 .5-1.1 .5 .2 .4 .3 .5 .2 .5 .0 .5 1.8 .4 2.3 .5-2.3 .5 4.3 .5-1.1 .4 1.4 .5 .4 .5 2.4 .5-.9 .4-.6 .5-1.8 .5 4.4 .5 .4 .4-1.8 .5 .4 .5-1.1 .5 1.8 .5-1.1 .4 .8 .5 3.6 .5 .1 .5-6.2 .4 1.9 .5 1.2 .5-.7 .5 .5 .4-2.0 .5 1.7 .5 3.7 .5-5.1 .4 1.1 .5 2.0 .5-1.8 .5-2.2 .4 1.5 .5 2.3 .5-1.5 .5-.2 .4-.8 .5-3.0 .5 1.5 .5 3.5 .4-1.3 .5-1.2 .5 7.3 .5-6.3 .4-.7 .5 1.3 .5-2.4 .5 .8 .5 2.5 .4 1.6 .5-.1 .5-2.1 .5-1.7 .4 4.8 .5-3.2 .5 .0 .5 .7 .4-.2 .5 .4 .5-1.8 .5 1.4 .4-1.0 .5 .0 .5 2.3 .5-4.6 .4 .4 .5 3.3 .5-3.8 .5 4.4 .4-.5 .5-2.2 .5 .8 .5 .8 .4 .4 .5-1.2 .5 1.9 .5-.4 .4-3.0 .5 2.9 .5 1.4 .5-1.9 .5 1.7 .4-1.1 .5-2.6 .5 3.8 .5-4.3 .4 1.0 .5 4.6 .5-2.3 .5-1.7 .4 1.6 .5-1.3 .5-.7 .5 .4 .4 .1 .5 2.5 .5-1.7 .5 .3 .4 4.8 .5-6.4 .5 2.6 .5-3.4 .4 1.7 .5 .0 .5-1.6 .5 .4 .4 1.7 .5-.5 .5-.8 .5 .0 .4 1.2 .5 .4 .5-.7 .5 .7 .5-1.7 .4 .9 .5-1.2 .5 1.1 .5-.3 .4 .6 .5-1.2 .5-1.2 .5-1.1 .4 3.4 .5 .6 .5-1.7 .5-1.1 .4 1.8 .5 .4 .5 2.0 .5-1.2 .4-1.5 .5-.5 .5 .5 .5-1.4 .4 .4 .5-2.1 .5 .8 .5 1.7 .4 4.3 .5-3.9 .5-2.8 .5 6.2 .4-3.9 .5-.4 .5 1.9 .5-1.9 .5-.4 .4-2.4 .5 4.7 .5-.7 .5-.9 .4-1.8 .5 2.3 .5-2.9 .5-.5 .4 2.8 .5-3.7 .5-3.6 .5 1.7 .4-4.3 .5-1.4 .5-.3 .5-1.7 .4 3.8 .5-9.9 .5-2.2 .5-3.2 .4-.1 .5-2.1 .5-.8 .5 .6 .4 .8 .5-.6 .5 7.2 .5-6.4 .4 2.7 .5 9.2 .5 4.1 .5-1.6 .5 5.8 .4-.1 .5 2.1 .5-2.7 .5 3.4 .4 .3 .5 1.0 .5-.3 .5 .2 .4-.8 .5 2.8 .5-3.0 .5-.3 .4 1.7 .5 1.4 .5 .2 .5 .2 .4-.6 .5 1.1 .5 1.2 .5-3.0 .4 2.4 .5-.1 .5-.3 .5-5.5 .4 5.5 .5 .5 .5-.7 .5 .1 .4-.7 .5 1.4 .5 .4 .5-.4 .5-.2 .4-.4 .5 .9 .5 .3 .5 2.4 .4 2.5 .5-3.4 .5-1.3 .5 4.8 .4-7.5 .5 2.4 .5-2.5 .5 1.6 .4-2.6 .5 3.3 .5-1.4 .5 2.1 .4-5.0 .5 5.1 .5-.4 .5 .4 .4 .1 .5 2.7 .5-1.6 .5-1.1 .4 .0 .5-2.5 .5 1.8 .5 .2 .4-.4 .5-1.0 .5 2.7 .5-.1 .5 .1 .4-.5 .5-1.4 .5-.6 .5 1.1 .4 1.0 .5-2.1 .5 4.1 .5-1.7 .4-.9 .5-.3 .5-4.0 .5 1.4 .4 3.1 .5-.3 .5-.9 .5 1.2 .4-1.2 .5 .0 .5-2.2 .5 4.5 .4-5.9 .5 5.1 .5 .4 .5-2.5 .4 2.3 .5 3.2 .5-4.2 .5-.7 .4 .0 .5 1.3 .5-3.6 .5 1.6 .5-4.4 .4 6.2 .5 2.3 .5-1.7 .5 1.9 .4-6.2 .5 4.0 .5 1.3 .5-2.0 .4-.8 .5 1.8 .5-1.1 .5-.2 .4 3.0 .5-1.2 .5-2.0 .5 .8 .4-.5 .5 .6 .5 .1 .5 1.5 .4-1.1 .5 1.7 .5-4.5 .5 2.1 .4-1.5 .5 4.5 .5-4.3 .5 .6 .4 .2 .5-1.2 .5 1.7 .5 1.1 .5-2.4 .4 3.6 .5-.7 .5-4.8 .5 2.4 .4 .6 .5 .1 .5 2.6 .5-4.2 .4 .8 .5 .1 .5 .1 .5 2.2 .4-3.3 .5 1.2 .5 3.7 .5-5.0 .4 1.2 .5 3.6 .5-3.3 .5 .0 .4-.6 .5 .7 .5-4.0 .5 5.5 .4-5.8 .5 5.0 .5-.9 .5-.1 .4-1.0 .5 1.6 .5-1.5 .5 1.6 .5 4.5 .4-5.9 .5 1.4 .5-2.8 .5 2.2 .4-1.5 .5 1.0 .5-3.0 .5 1.5 .4 1.6 .5 2.3 .5-1.8 .5-2.8 .4 1.5 .5 1.3 .5-4.2 .5 3.9 .4-5.5 .5 5.5 .5-1.6 .5 .9 .4 1.7 .5-3.5 .5 .2 .5-.5 .4-2.5 .5 2.3 .5-.5 .5-.3 .4 .5 .5 1.1 .5-1.0 .5-.3 .5-.6 .4-2.3 .5-1.7 .5-.6 .5 1.8 .4 2.1 .5-3.2 .5-.6 .5-.5 .4-.1 .5 .3 .5-1.5 .5 5.1 .4-3.1 .5 3.2 .5-2.7 .5-2.8 .4 3.2 .5 .5 .5 1.4 .5-1.4 .4-.8 .5 3.9 .5 2.3 .5-.5 .4-1.8 .5-5.3 .5 5.5 .5 2.5 .4-1.4 .5 .2 .5-.1 .5-.7 .4 2.7 .5-1.6 .5 .2 .5-2.9 .5 2.0 .4 .1 .5-1.5 .5 2.8 .5-.7 .4-.9 .5 2.7 .5-1.7 .5-.4 .4 1.9 .5-1.1 .5 2.1 .5 .1 .4-6.8 .5 3.5 .5 .5 .5-2.9 .4 5.4 .5-4.1 .5 1.1 .5 2.5 .4-3.8 .5 .2 .5-1.4 .5-1.6 .4-1.7 .5-1.5 .5 1.0 .5-3.7 .4 2.5 .5-5.3 .5-2.8 .5-8.4 .5 6.4 .4-5.3 .5 .5 .5-5.2 .5-1.2 .4 .2 .5-.2 .5 3.6 .5 5.3 .4 1.5 .5-.4 .5 1.4 .5 5.4 .4 5.1 .5-.4 .5 .5 .5 4.7 .4-5.2 .5 2.6 .5 4.3 .5 .6 .4-2.0 .5 1.6 .5-.3 .5 .4 .4 1.1 .5-2.6 .5-.1 .5 3.3 .4-.4 .5-3.4 .5 6.9 .5-1.1 .5-5.5 .4 .3 .5 4.0 .5-3.8 .5 2.7 .4-2.2 .5 3.6 .5-.8 .5-.4 .4 .3 .5 1.8 .5-1.8 .5-.7 .4 2.6 .5-3.1 .5 2.0 .5 1.3 .4-1.7 .5 .6 .5-1.2 .5 1.0 .4-1.4 .5 1.3 .5-1.6 .5 1.2 .4 .9 .5-1.4 .5 1.3 .5 .3 .4-2.0 .5 1.3 .5 1.4 .5-1.2 .5-.3 .4-4.6 .5 4.1 .5 1.6 .5 2.3 .4-5.4 .5 .6 .5 .9 .5-.6 .4 .5 .5-1.3 .5 1.1 .5 1.1 .4-.4 .5-.6 .5-.1 .5 1.4 .4-.7 .5-1.2 .5 2.1 .5-.5 .4-.2 .5-2.8 .5 8.2 .5-5.3 .4-1.0 .5 2.5 .5-2.2 .5 .2 .4 .5 .5 1.4 .5-1.0 .5 3.4 .5-2.7 .4-1.8 .5 .8 .5 2.4 .5-4.5 .4 1.2 .5-.6 .5 .2 .5 2.4 .4-2.7 .5-.5 .5-2.7 .5 1.0 .4 1.4 .5-1.1 .5 2.3 .5-2.5 .4 2.0 .5-2.5 .5-1.8 .5 .5 .4-1.0 .5-.9 .5 .7 .5 .8 .4-2.8 .5-1.7 .5 5.8 .5-2.4 .4-.7 .5-.1 .5 .4 .5-3.8 .5 4.4 .4-.3 .5 1.9 .5-.4 .5 .4 .4-5.6 .5 3.7 .5 2.2 .5 2.3 .4 .0 .5-2.6 .5 1.8 .5 .8 .4-1.1 .5 2.5 .5-1.7 .5 .4 .4 .7 .5 1.6 .5-.7 .5-.4 .4 1.0 .5-1.8 .5 3.9 .5-2.7 .4-.1 .5 4.9 .5-5.4 .5 1.2 .4-1.9 .5-.9 .5 2.3 .5-4.0 .5 4.6 .4 .4 .5-2.5 .5 1.9 .5-.5 .4 .7 .5-1.4 .5 .3 .5 2.4 .4 3.1 .5 .0 .5-.3 .5-.9 .4-.5 .5-2.4 .5 1.2 .5-3.7 .4-.5 .5 .9 .5 1.8 .5 1.2 .4 .7 .5-4.5 .5 2.5 .5-.4 .4-2.3 .5 1.2 .5 5.8 .5-3.4 .4-3.0 .5-.4 .5 2.6 .5 1.4 .5-.4 .4 .2 .5-.4 .5-3.7 .5 1.1 .4 1.5 .5-1.5 .5 3.2 .5-1.9 .4 2.7 .5-6.5 .5 3.9 .5 1.3 .4-6.2 .5-.3 .5 4.0 .5 .3 .4-.6 .5-.1 .5-2.4 .5 1.8 .4-5.6 .5 5.6 .5-1.0 .5-1.6 .4-2.2 .5 1.0 .5-2.7 .5 1.0 .4 1.5 .5-1.7 .5-.3 .5-.2 .5 .3 .4-3.4 .5 1.0 .5 2.9 .5 1.4 .4 .6 .5-1.4 .5-3.4 .5 4.8 .4 5.1 .5-6.4 .5 4.8 .5-.3 .4 .6 .5 .2 .5 .4 .5-.7 .4 4.5 .5-.7 .5-2.8 .5 1.5 .4-1.1 .5 1.0 .5 2.3 .5-1.2 .4-1.7 .5 .2 .5 .0 .5 .7 .4 1.4 .5-4.6 .5-.5 .5 4.0 .5-3.6 .4 6.5 .5-2.5 .5-1.4 .5 .0 .4-.2 .5 1.1 .5 1.6 .5-1.2 .4 1.0 .5-2.5 .5 .9 .5 3.8 .4-3.0 .5-.5 .5 .4 .5 2.5 .4-4.8 .5 2.5 .5-2.6 .5 1.1 .4 2.4 .5-1.7 .5-1.5 .5-.4 .4 1.8 .5-.4 .5 .1 .5 2.3 .4-2.7 .5 .2 .5-.9 .5 1.0 .5-1.2 .4 1.7 .5 .6 .5-2.1 .5 .1 .4 .1 .5-1.3 .5 2.6 .5-1.9 .4-1.3 .5 2.8 .5 1.5 .5-2.1 .4-1.3 .5-2.1 .5 5.0 .5 2.1 .4-3.5 .5 1.3 .5-3.0 .5 2.2 .4 1.2 .5-1.8 .5 .7 .5 3.2 .4-2.6 .5-.3 .5-4.6 .5 2.5 .4 1.2 .5 .8 .5-.4 .5 .7 .5 4.0 .4-4.8 .5 .2 .5 .4 .5-.9 .4 .8 .5-1.0 .5-2.3 .5 2.8 .4 1.1 .5-2.2 .5 3.3 .5-.9 .4-2.8 .5 1.7 .5 .8 .5-.7 .4 1.2 .5 2.6 .5-3.6 .5 .2 .4-2.1 .5 2.5 .5-.2 .5-2.8 .4 2.6 .5-1.7 .5 2.1 .5-1.3 .4-2.7 .5 4.3 .5-.9 .5-2.0 .4 7.5 .5-3.7 .5-1.9 .5 .8 .5 .7 .4-1.2 .5 1.2 .5-3.3 .5 5.4 .4-2.7 .5-.7 .5 1.7 .5-2.0 .4 .3 .5-.1 .5 .5 .5-2.5 .4 2.9 .5 .5 .5-5.0 .5 3.0 .4 .9 .5-3.8 .5 3.5 .5 1.4 .4-.4 .5-2.0 .5-1.2 .5-1.2 .4 1.8 .5 .7 .5-1.4 .5 .9 .4 .5 .5 .2 .5-1.3 .5 .1 .5 3.6 .4-2.7 .5-1.6 .5 2.2 .5 .8 .4-2.4 .5 .0 .5 2.2 .5 .4 .4-4.2 .5-1.0 .5-.1 .5 1.0 .4-4.2 .5 4.5 .5-.4 .5-.1 .4 .3 .5 .8 .5 .7 .5 .9 .4-2.4 .5 .9 .5-1.5 .5 .3 .4 1.4 .5 .1 .5-2.3 .5 8.4 .4-3.6 .5 .6 .5 .8 .5-3.0 .5 .0 .4-3.0 .5 3.8 .5 1.0 .5-.8 .4-5.1 .5 4.7 .5-.5 .5 .3 .4 1.2 .5-.7 .5 .7 .5-3.1 .4-.4 .5 3.9 .5 1.7 .5-.9 .4-3.5 .5 2.0 .5-.5 .5 .4 .4 2.4 .5-3.1 .5 3.1 .5-.6 .4-2.7 .5 2.5 .5 3.6 .5-3.4 .4-3.9 .5 .9 .5 1.4 .5-.6 .5 3.3 .4-5.7 .5 4.3 .5 .8 .5-1.3 .4-3.1 .5 6.6 .5-5.5 .5-.1 .4-.2 .5 3.9 .5-3.0 .5 1.2 .4-2.5 .5 2.6 .5-1.8 .5-.4 .4 1.5 .5-.1 .5 1.4 .5-1.3 .4-1.9 .5 2.9 .5-.3 .5-.2 .4 2.5 .5-3.5 .5 6.2 .5-3.9 .4 .0 .5 .4 .5-1.2 .5-1.4 .5 .8 .4 .7 .5-3.6 .5-.1 .5 2.7 .4-.3 .5 4.5 .5-2.8 .5-2.2 .4 2.5 .5-4.5 .5 .9 .5 1.9 .4 1.2 .5-1.9 .5 .1 .5 .3 .4-.6 .5-2.5 .5 4.0 .5-.3 .4 2.3 .5-4.6 .5-.1 .5 7.6 .4-4.2 .5-1.7 .5-1.2 .5-.1 .4 3.3 .5-3.8 .5 2.7 .5 .5 .5-2.4 .4-.3 .5 2.0 .5-1.9 .5 1.3 .4-.4 .5 .3 .5 2.8 .5-8.3 .4 5.4 .5-.5 .5 1.2 .5-.1 .4 .6 .5-1.1 .5-.8 .5 3.5 .4-2.0 .5-1.7 .5-.1 .5-.5 .4 1.3 .5 2.1 .5-4.4 .5 .2 .4-.3 .5 .3 .5-1.5 .5-.8 .4 3.5 .5-6.3 .5-.4 .5 6.3 .5-4.0 .4-.4 .5-2.0 .5 1.9 .5 .5 .4 .0 .5-.4 .5 2.3 .5-1.8 .4-1.0 .5-.2 .5 3.4 .5 3.5 .4-5.4 .5 1.4 .5 1.7 .5-3.3 .4 2.9 .5 1.0 .5 1.3 .5-.9 .4-1.2 .5-2.0 .5 2.2 .5-2.8 .4 4.1 .5 1.3 .5-.6 .5-.1 .4-.3 .5 3.4 .5-5.5 .5 3.9 .5-4.1 .4 2.4 .5 2.6 .5-4.4 .5 .8 .4 1.7 .5 .7 .5 .9 .5-1.9 .4 4.4 .5-3.8 .5-2.2 .5 2.7 .4 2.3 .5-5.4 .5 3.1 .5 1.0 .4-1.8 .5-1.4 .5 5.4 .5-4.5 .4-.1 .5-.4 .5 1.1 .5-.8 .4 .6 .5-2.4 .5 .5 .5 2.9 .4-.5 .5 1.3 .5-.8 .5-.4 .5-3.2 .4 2.0 .5 2.1 .5-2.4 .5 .5 .4 5.2 .5-5.8 .5 .3 .5 .4 .4-4.0 .5 5.3 .5-1.4 .5 3.9 .4-3.6 .5 1.3 .5-.7 .5-4.5 .4-.1 .5 .6 .5 .1 .5-2.9 .4 5.7 .5-2.7 .5 .7 .5-1.3 .4-.9 .5 .8 .5 .0 .5-.1 .4 .7 .5-2.7 .5 3.3 .5-3.3 .5 3.1 .4-1.8 .5 2.3 .5 3.7 .5-4.8 .4 1.3 .5 .9 .5-1.7 .5 1.0 .4 .1 .5 1.9 .5-1.3 .5-1.3 .4-1.2 .5 3.0 .5-2.6 .5 2.2 .4-.4 .5 1.0 .5-3.7 .5 5.8 .4-5.2 .5 5.2 .5-.9 .5 .3 .4-2.7 .5-.1 .5 3.7 .5-5.8 .4 2.8 .5 5.9 .5-4.9 .5 .4 .5 .2 .4 1.8 .5-3.5 .5 1.4 .5 .8 .4 3.2 .5-4.7 .5 .7 .5 3.5 .4-4.6 .5 1.2 .5-.4 .5 .9 .4-.1 .5-.8 .5 1.4 .5 3.9 .4-4.6 .5 4.8 .5-3.3 .5-.5 .4-.4 .5-.7 .5 .3 .5 1.2 .4-3.7 .5 6.0 .5-3.5 .5-5.5 .4 5.3 .5 .1 .5-1.0 .5-.7 .5-1.8 .4 4.0 .5 .8 .5-1.5 .5 .5 .4 .6 .5-3.6 .5 3.8 .5-.4 .4 .4 .5-1.3 .5 .0 .5 2.1 .4-.5 .5-4.1 .5 3.3 .5 1.5 .4 1.0 .5-6.3 .5 2.8 .5 1.2 .4-1.7 .5-2.5 .5 5.4 .5-3.9 .4 2.0 .5 1.0 .5-1.7 .5 .9 .4-5.6 .5 4.0 .5-2.2 .5 1.3 .4 2.3 .5 .5 .5-.3 .5 1.8 .5-2.0 .4 .9 .5-.8 .5-2.8 .5 .5 .4 3.1 .5 1.6 .5-1.7 .5 1.8 .4-2.5 .5 1.0 .5-1.3 .5 .4 .4 2.5 .5-1.9 .5-6.2 .5 3.9 .4 2.4 .5-.2 .5 .7 .5 .4 .4-1.5 .5-1.0 .5-4.0 .5 1.8 .4 2.8 .5-.5 .5 2.1 .5-5.5 .4 6.6 .5-5.4 .5 2.6 .5 .2 .5-.9 .4 2.7 .5-3.2 .5 1.1 .5 .5 .4 .4 .5-1.2 .5-3.2 .5 5.8 .4-1.7 .5 1.6 .5-.9 .5-1.4 .4-.8 .5 1.6 .5 1.0 .5-1.6 .4 4.0 .5-4.4 .5 2.7 .5-2.0 .4-4.0 .5 5.7 .5 2.7 .5-4.0 .4-.5 .5-1.8 .5 2.0 .5 .6 .4 .2 .5-.2 .5 .4 .5-1.9 .5 4.6 .4-4.2 .5 .4 .5-2.0 .5 5.5 .4-3.5 .5-.1 .5-1.4 .5 3.8 .4-1.4 .5-1.5 .5 .7 .5 .2 .4 5.3 .5-5.5 .5-.7 .5 2.2 .4-2.0 .5 .7 .5 1.1 .5-1.1 .4-2.4 .5 3.6 .5-3.3 .5 2.4 .4-1.8 .5 3.5 .5-2.3 .5-.2 .4-1.1 .5 .0 .5 1.6 .5 2.8 .5-3.4 .4 1.4 .5-.6 .5-.9 .5 .9 .4 1.5 .5-1.3 .5-2.7 .5 4.4 .4-1.9 .5-3.4 .5 3.4 .5 1.3 .4-.7 .5 2.5 .5-6.7 .5 2.4 .4 1.0 .5 .0 .5 1.0 .5 .9 .4 .3 .5-4.2 .5 1.6 .5-1.2 .4 .8 .5 3.6 .5-5.8 .5 3.8 .4-.8 .5-1.2 .5-.1 .5 1.6 .5-1.5 .4 2.4 .5-3.4 .5-1.0 .5 2.6 .4-1.2 .5 3.6 .5-2.8 .5 1.0 .4 .0 .5-2.2 .5 .6 .5 1.8 .4 .4 .5 2.1 .5-3.5 .5 .2 .4 2.0 .5 .4 .5 .1 .5-4.2 .4 2.3 .5 .4 .5-1.1 .5 .0 .4-1.5 .5 2.6 .5-.3 .5 .6 .4-.9 .5-.6 .5 2.4 .5-1.7 .5-.2 .4 .8 .5-5.4 .5 4.8 .5 .7 .4 3.0 .5-2.8 .5-2.0 .5 3.9 .4-2.9 .5 1.9 .5 1.8 .5-4.5 .4 .6 .5-.3 .5 1.2 .5 .7 .4-1.6 .5-.2 .5-4.2 .5 6.2 .4-1.6 .5 .1 .5-.3 .5-1.9 .4 2.5 .5-6.0 .5 8.1 .5-5.8 .4-2.3 .5 5.1 .5 .8 .5-1.0 .5 1.7 .4-1.5 .5 1.8 .5-1.7 .5 .1 .4 .0 .5-1.3 .5 1.0 .5 .6 .4 .6 .5-1.1 .5-.3 .5 1.9 .4-1.3 .5 .8 .5-1.7 .5 2.7 .4 .9 .5-5.9 .5 5.7 .5-2.2 .4-4.6 .5 1.2 .5 3.8 .5-1.6 .4 .6 .5 .4 .5-.2 .5-1.5 .4 1.3 .5 5.8 .5 .0 .5-5.8 .5 3.6 .4-3.1 .5 .3 .5 .2 .5 2.5 .4-3.8 .5 2.5 .5-.6 .5 .6 .4-1.3 .5 .9 .5-.3 .5 .3 .4-.8 .5 .1 .5-2.2 .5 1.4 .4-.9 .5 5.0 .5-7.7 .5 2.0 .4-1.3 .5 2.3 .5 .5 .5-.5 .4 1.2 .5 3.3 .5-4.3 .5-3.1 .4 2.7 .5 3.8 .5-6.8 .5 3.1 .5 .1 .4 1.2 .5-.2 .5-1.2 .5 1.5 .4-3.6 .5 3.8 .5-1.1 .5 .7 .4-1.1 .5 1.2 .5-4.4 .5 6.4 .4-2.7 .5-.3 .5 .3 .5 1.0 .4-.5 .5 .1 .5-.4 .5 1.1 .4-2.8 .5 2.7 .5-1.9 .5-3.8 .4 3.7 .5 1.4 .5-.6 .5 .1 .4 2.2 .5-2.8 .5 .3 .5 2.7 .5-2.2 .4-2.1 .5-1.9 .5 3.6 .5 3.8 .4-3.1 .5-.4 .5-2.1 .5-.5 .4 2.2 .5-.4 .5 3.2 .5-1.1 .4 2.2 .5-4.4 .5 4.0 .5-2.1 .4-2.4 .5 2.2 .5-4.2 .5-2.4 .4 6.6 .5-1.7 .5 .4 .5-1.6 .4 .0 .5 7.0 .5-8.5 .5 3.1 .4 1.6 .5-.8 .5-.7 .5 3.7 .5-1.1 .4-5.6 .5 3.0 .5 .9 .5-1.6 .4 1.3 .5-2.0 .5-.2 .5-.2 .4 5.0 .5-4.4 .5 3.2 .5-1.0 .4-2.8 .5 2.2 .5-.3 .5 .3 .4-.6 .5 2.0 .5 .2 .5-1.8 .4 .1 .5-2.1 .5-2.1 .5 3.6 .4 .9 .5-1.0 .5 1.0 .5-2.2 .4 1.7 .5 .4 .5 3.4 .5-4.9 .5-1.7 .4-.5 .5-2.3 .5 6.4 .5-1.7 .4 .5 .5 2.7 .5-3.3 .5 2.1 .4-2.4 .5-3.0 .5 2.6 .5-.3 .4 1.6 .5 2.6 .5-.2 .5 .3 .4-4.2 .5 3.3 .5-.8 .5 .2 .4-1.5 .5-.2 .5-.9 .5 1.3 .4 .2 .5-1.4 .5 1.7 .5 1.3 .4-.7 .5-1.6 .5 .9 .5-1.3 .4-.8 .5-.1 .5 4.3 .5-1.5 .5-1.7 .4 3.2 .5-2.3 .5 1.7 .5-2.5 .4 1.3 .5 .2 .5 1.3 .5-1.0 .4-.1 .5-3.6 .5 3.3 .5-2.5 .4 1.4 .5 .2 .5-.2 .5 1.3 .4-.5 .5 .1 .5-2.5 .5 3.4 .4-.9 .5-.2 .5-1.8 .5 1.9 .4-.8 .5 2.4 .5-1.9 .5-.9 .4 1.7 .5-.8 .5 1.2 .5-5.3 .5 5.2 .4-1.3 .5 2.6 .5-2.3 .5-.3 .4 2.7 .5 2.7 .5-6.0 .5-3.2 .4 4.3 .5-.1 .5-2.9 .5 3.3 .4-.6 .5 4.4 .5-1.7 .5-2.8 .4 1.4 .5-1.1 .5-1.9 .5 2.8 .4-.3 .5 2.0 .5-2.8 .5-3.6 .4 4.1 .5 1.7 .5-1.0 .5-1.4 .4 1.8 .5 2.4 .5-4.2 .5 5.7 .5-4.8 .4 .2 .5-1.9 .5 2.7 .5-1.4 .4-2.2 .5 .3 .5 1.8 .5-.5 .4 3.2 .5-3.4 .5 1.1 .5 .2 .4-.8 .5 2.2 .5-2.3 .5 .6 .4-.4 .5-3.7 .5 3.1 .5 .9 .4 1.7 .5-1.9 .5-1.5 .5 .2 .4 2.8 .5-5.6 .5 3.9 .5 2.2 .4-1.8 .5 .0 .5-1.9 .5-.3 .5 3.8 .4-1.7 .5-3.2 .5 1.6 .5 2.4 .4-.9 .5-3.1 .5 1.6 .5-4.2 .4 6.1 .5-3.5 .5 3.8 .5-1.3 .4 5.8 .5-3.0 .5-3.5 .5 .3 .4-.9 .5-.4 .5 .2 .5 1.3 .4 .0 .5 .0 .5-2.1 .5 3.3 .4-6.1 .5 4.7 .5 1.0 .5-2.2 .4 2.5 .5-.4 .5-2.9 .5 .6 .5 2.6 .4 .7 .5-2.5 .5 3.6 .5-1.6 .4 2.1 .5 .3 .5-3.5 .5 1.1 .4-.8 .5-4.4 .5 2.6 .5 1.0 .4 2.2 .5-2.6 .5 1.1 .5-.6 .4 5.2 .5-3.3 .5-2.6 .5-3.6 .4 6.1 .5 2.7 .5-4.5 .5 .6 .4 .1 .5-1.0 .5 1.3 .5-.5 .4-3.1 .5 4.5 .5 1.6 .5-5.4 .5-.1 .4 2.3 .5 2.7 .5-1.5 .5-2.5 .4 .2 .5 .6 .5-.2 .5 3.4 .4-3.7 .5-4.7 .5 7.7 .5-3.5 .4-2.4 .5 3.9 .5-1.5 .5-.1 .4-.8 .5 .1 .5 .2 .5-.3 .4-.1 .5 .1 .5 1.4 .5 .0 .4 2.1 .5-3.4 .5 .4 .5 2.8 .4-2.9 .5-2.3 .5 3.4"/>
</g>
<g fill="#000">
<path d="M192 30H2138V1459H192Z M197 35V1454H2133V35Z" fill-rule="evenodd"/>
<rect x="211.00" y="1430" width="5" height="24"/>
<rect x="329.94" y="1444" width="5" height="10"/>
<rect x="448.88" y="1430" width="5" height="24"/>
<rect x="567.81" y="1444" width="5" height="10"/>
<rect x="686.75" y="1430" width="5" height="24"/>
<rect x="805.69" y="1444" width="5" height="10"/>
<rect x="924.62" y="1430" width="5" height="24"/>
<rect x="1043.56" y="1444" width="5" height="10"/>
<rect x="1162.50" y="1430" width="5" height="24"/>
<rect x="1281.44" y="1444" width="5" height="10"/>
<rect x="1400.38" y="1430" width="5" height="24"/>
<rect x="1519.31" y="1444" width="5" height="10"/>
<rect x="1638.25" y="1430" width="5" height="24"/>
<rect x="1757.19" y="1444" width="5" height="10"/>
<rect x="1876.12" y="1430" width="5" height="24"/>
<rect x="1995.06" y="1444" width="5" height="10"/>
<rect x="2114.00" y="1430" width="5" height="24"/>
</g>
<g font-family='"Liberation Serif", "Times New Roman", serif' fill="#000">
<text transform="translate(245.55 109.00) scale(1.109 1)" x="-29.67" y="0" font-size="66.12" font-family='"DejaVu Sans", sans-serif'>♣</text>
<text transform="translate(245.40 220.08) scale(1.065 1)" x="-20.99" y="0" font-size="82.30">♦</text>
<text transform="translate(244.55 330.09) scale(1.082 1)" x="-24.06" y="0" font-size="80.88">♥</text>
<text x="277.68" y="109" font-size="85.8">-Akermanite</text>
<text x="277.73" y="220.9" font-size="84.41">-Subsilicic ferrian diopside</text>
<text x="276.72" y="329.8" font-size="84.7">-Magnetite</text>
<text x="1424.12" y="108.8" font-size="85.17">ICSD#98-003-4805</text>
<text x="1419.04" y="219.6" font-size="84.7">ICSD#98-001-7045</text>
<text x="1417.23" y="329.8" font-size="84.85">ICSD#98-015-9969</text>
<text x="1790.9 1828.5 1869.5 1910.5 1950.5 1979.3" y="542.1" font-size="82" style="font-kerning:none">1200°C</text>
<text x="1791.9 1832.4 1870.0 1911.0 1951.0 1979.8" y="813.9" font-size="82" style="font-kerning:none">1195°C</text>
<text x="1797.1 1837.6 1875.2 1916.2 1956.2 1985.0" y="1110.9" font-size="82" style="font-kerning:none">1190°C</text>
<text x="1797.9 1838.4 1876.0 1917.0 1957.0 1985.8" y="1356.9" font-size="82" style="font-kerning:none">1185°C</text>
<text x="214.50" y="1544.7" font-size="82" text-anchor="middle">10</text>
<text x="452.38" y="1544.7" font-size="82" text-anchor="middle">20</text>
<text x="690.25" y="1544.7" font-size="82" text-anchor="middle">30</text>
<text x="928.12" y="1544.7" font-size="82" text-anchor="middle">40</text>
<text x="1166.00" y="1544.7" font-size="82" text-anchor="middle">50</text>
<text x="1403.88" y="1544.7" font-size="82" text-anchor="middle">60</text>
<text x="1641.75" y="1544.7" font-size="82" text-anchor="middle">70</text>
<text x="1879.62" y="1544.7" font-size="82" text-anchor="middle">80</text>
<text x="2117.50" y="1544.7" font-size="82" text-anchor="middle">90</text>
<text x="936.39" y="1655" font-size="82.43">2θ (degrees)</text>
<text transform="translate(80.5 1016) rotate(-90)" x="0" y="0" font-size="81.88">Intensity (a.u.)</text>
<text transform="translate(358.80 553.75) scale(1.085 1)" x="-18.01" y="0" font-size="40.14" font-family='"DejaVu Sans", sans-serif'>♣</text>
<text transform="translate(410.30 564.42) scale(1.100 1)" x="-14.36" y="0" font-size="48.28">♥</text>
<text transform="translate(474.00 553.00) scale(1.085 1)" x="-18.01" y="0" font-size="40.14" font-family='"DejaVu Sans", sans-serif'>♣</text>
<text transform="translate(539.80 550.95) scale(1.085 1)" x="-18.01" y="0" font-size="40.14" font-family='"DejaVu Sans", sans-serif'>♣</text>
<text transform="translate(582.00 555.05) scale(1.085 1)" x="-18.01" y="0" font-size="40.14" font-family='"DejaVu Sans", sans-serif'>♣</text>
<text transform="translate(653.80 514.00) scale(1.085 1)" x="-18.01" y="0" font-size="40.14" font-family='"DejaVu Sans", sans-serif'>♣</text>
<text transform="translate(686.00 504.67) scale(1.088 1)" x="-12.21" y="0" font-size="47.90">♦</text>
<text transform="translate(714.30 335.10) scale(1.085 1)" x="-18.01" y="0" font-size="40.14" font-family='"DejaVu Sans", sans-serif'>♣</text>
<text transform="translate(821.10 438.90) scale(1.085 1)" x="-18.01" y="0" font-size="40.14" font-family='"DejaVu Sans", sans-serif'>♣</text>
<text transform="translate(802.00 534.22) scale(1.088 1)" x="-12.21" y="0" font-size="47.90">♦</text>
<text transform="translate(840.40 531.70) scale(1.085 1)" x="-18.01" y="0" font-size="40.14" font-family='"DejaVu Sans", sans-serif'>♣</text>
<text transform="translate(865.00 542.95) scale(1.085 1)" x="-18.01" y="0" font-size="40.14" font-family='"DejaVu Sans", sans-serif'>♣</text>
<text transform="translate(994.20 551.97) scale(1.088 1)" x="-12.21" y="0" font-size="47.90">♦</text>
<text transform="translate(1031.30 532.10) scale(1.085 1)" x="-18.01" y="0" font-size="40.14" font-family='"DejaVu Sans", sans-serif'>♣</text>
<text transform="translate(1206.30 520.05) scale(1.085 1)" x="-18.01" y="0" font-size="40.14" font-family='"DejaVu Sans", sans-serif'>♣</text>
<text transform="translate(1248.80 557.82) scale(1.100 1)" x="-14.36" y="0" font-size="48.28">♥</text>
<text transform="translate(1333.70 555.17) scale(1.088 1)" x="-12.21" y="0" font-size="47.90">♦</text>
<text transform="translate(1462.70 533.92) scale(1.088 1)" x="-12.21" y="0" font-size="47.90">♦</text>
<text transform="translate(355.30 841.00) scale(1.085 1)" x="-18.01" y="0" font-size="40.14" font-family='"DejaVu Sans", sans-serif'>♣</text>
<text transform="translate(406.70 851.62) scale(1.100 1)" x="-14.36" y="0" font-size="48.28">♥</text>
<text transform="translate(470.50 840.05) scale(1.085 1)" x="-18.01" y="0" font-size="40.14" font-family='"DejaVu Sans", sans-serif'>♣</text>
<text transform="translate(536.20 837.90) scale(1.085 1)" x="-18.01" y="0" font-size="40.14" font-family='"DejaVu Sans", sans-serif'>♣</text>
<text transform="translate(578.90 842.00) scale(1.085 1)" x="-18.01" y="0" font-size="40.14" font-family='"DejaVu Sans", sans-serif'>♣</text>
<text transform="translate(650.30 801.00) scale(1.085 1)" x="-18.01" y="0" font-size="40.14" font-family='"DejaVu Sans", sans-serif'>♣</text>
<text transform="translate(682.70 791.97) scale(1.088 1)" x="-12.21" y="0" font-size="47.90">♦</text>
<text transform="translate(723.00 622.90) scale(1.085 1)" x="-18.01" y="0" font-size="40.14" font-family='"DejaVu Sans", sans-serif'>♣</text>
<text transform="translate(816.70 730.00) scale(1.085 1)" x="-18.01" y="0" font-size="40.14" font-family='"DejaVu Sans", sans-serif'>♣</text>
<text transform="translate(798.70 821.77) scale(1.088 1)" x="-12.21" y="0" font-size="47.90">♦</text>
<text transform="translate(836.80 819.10) scale(1.085 1)" x="-18.01" y="0" font-size="40.14" font-family='"DejaVu Sans", sans-serif'>♣</text>
<text transform="translate(861.30 830.00) scale(1.085 1)" x="-18.01" y="0" font-size="40.14" font-family='"DejaVu Sans", sans-serif'>♣</text>
<text transform="translate(990.00 838.97) scale(1.088 1)" x="-12.21" y="0" font-size="47.90">♦</text>
<text transform="translate(1027.70 818.90) scale(1.085 1)" x="-18.01" y="0" font-size="40.14" font-family='"DejaVu Sans", sans-serif'>♣</text>
<text transform="translate(1202.90 807.15) scale(1.085 1)" x="-18.01" y="0" font-size="40.14" font-family='"DejaVu Sans", sans-serif'>♣</text>
<text transform="translate(1245.40 844.52) scale(1.100 1)" x="-14.36" y="0" font-size="48.28">♥</text>
<text transform="translate(1329.40 841.87) scale(1.088 1)" x="-12.21" y="0" font-size="47.90">♦</text>
<text transform="translate(1458.60 821.07) scale(1.088 1)" x="-12.21" y="0" font-size="47.90">♦</text>
<text transform="translate(350.30 1121.00) scale(1.085 1)" x="-18.01" y="0" font-size="40.14" font-family='"DejaVu Sans", sans-serif'>♣</text>
<text transform="translate(401.50 1131.97) scale(1.100 1)" x="-14.36" y="0" font-size="48.28">♥</text>
<text transform="translate(465.20 1120.05) scale(1.085 1)" x="-18.01" y="0" font-size="40.14" font-family='"DejaVu Sans", sans-serif'>♣</text>
<text transform="translate(531.40 1119.05) scale(1.085 1)" x="-18.01" y="0" font-size="40.14" font-family='"DejaVu Sans", sans-serif'>♣</text>
<text transform="translate(574.00 1122.95) scale(1.085 1)" x="-18.01" y="0" font-size="40.14" font-family='"DejaVu Sans", sans-serif'>♣</text>
<text transform="translate(645.60 1081.05) scale(1.085 1)" x="-18.01" y="0" font-size="40.14" font-family='"DejaVu Sans", sans-serif'>♣</text>
<text transform="translate(677.80 1071.87) scale(1.088 1)" x="-12.21" y="0" font-size="47.90">♦</text>
<text transform="translate(723.00 900.00) scale(1.085 1)" x="-18.01" y="0" font-size="40.14" font-family='"DejaVu Sans", sans-serif'>♣</text>
<text transform="translate(814.70 986.95) scale(1.085 1)" x="-18.01" y="0" font-size="40.14" font-family='"DejaVu Sans", sans-serif'>♣</text>
<text transform="translate(793.50 1101.82) scale(1.088 1)" x="-12.21" y="0" font-size="47.90">♦</text>
<text transform="translate(832.00 1100.05) scale(1.085 1)" x="-18.01" y="0" font-size="40.14" font-family='"DejaVu Sans", sans-serif'>♣</text>
<text transform="translate(856.50 1110.45) scale(1.085 1)" x="-18.01" y="0" font-size="40.14" font-family='"DejaVu Sans", sans-serif'>♣</text>
<text transform="translate(986.00 1119.27) scale(1.088 1)" x="-12.21" y="0" font-size="47.90">♦</text>
<text transform="translate(1022.90 1100.15) scale(1.085 1)" x="-18.01" y="0" font-size="40.14" font-family='"DejaVu Sans", sans-serif'>♣</text>
<text transform="translate(1198.10 1087.15) scale(1.085 1)" x="-18.01" y="0" font-size="40.14" font-family='"DejaVu Sans", sans-serif'>♣</text>
<text transform="translate(1240.80 1125.32) scale(1.100 1)" x="-14.36" y="0" font-size="48.28">♥</text>
<text transform="translate(1325.10 1123.12) scale(1.088 1)" x="-12.21" y="0" font-size="47.90">♦</text>
<text transform="translate(1454.50 1101.07) scale(1.088 1)" x="-12.21" y="0" font-size="47.90">♦</text>
<text transform="translate(362.00 1368.00) scale(1.085 1)" x="-18.01" y="0" font-size="40.14" font-family='"DejaVu Sans", sans-serif'>♣</text>
<text transform="translate(413.50 1378.72) scale(1.100 1)" x="-14.36" y="0" font-size="48.28">♥</text>
<text transform="translate(477.00 1367.30) scale(1.085 1)" x="-18.01" y="0" font-size="40.14" font-family='"DejaVu Sans", sans-serif'>♣</text>
<text transform="translate(542.00 1366.15) scale(1.085 1)" x="-18.01" y="0" font-size="40.14" font-family='"DejaVu Sans", sans-serif'>♣</text>
<text transform="translate(585.20 1369.00) scale(1.085 1)" x="-18.01" y="0" font-size="40.14" font-family='"DejaVu Sans", sans-serif'>♣</text>
<text transform="translate(657.00 1329.05) scale(1.085 1)" x="-18.01" y="0" font-size="40.14" font-family='"DejaVu Sans", sans-serif'>♣</text>
<text transform="translate(688.70 1319.42) scale(1.088 1)" x="-12.21" y="0" font-size="47.90">♦</text>
<text transform="translate(720.50 1175.30) scale(1.085 1)" x="-18.01" y="0" font-size="40.14" font-family='"DejaVu Sans", sans-serif'>♣</text>
<text transform="translate(824.00 1240.95) scale(1.085 1)" x="-18.01" y="0" font-size="40.14" font-family='"DejaVu Sans", sans-serif'>♣</text>
<text transform="translate(804.40 1334.87) scale(1.088 1)" x="-12.21" y="0" font-size="47.90">♦</text>
<text transform="translate(844.00 1332.85) scale(1.085 1)" x="-18.01" y="0" font-size="40.14" font-family='"DejaVu Sans", sans-serif'>♣</text>
<text transform="translate(868.00 1343.90) scale(1.085 1)" x="-18.01" y="0" font-size="40.14" font-family='"DejaVu Sans", sans-serif'>♣</text>
<text transform="translate(996.80 1352.82) scale(1.088 1)" x="-12.21" y="0" font-size="47.90">♦</text>
<text transform="translate(1033.90 1332.70) scale(1.085 1)" x="-18.01" y="0" font-size="40.14" font-family='"DejaVu Sans", sans-serif'>♣</text>
<text transform="translate(1208.70 1337.85) scale(1.085 1)" x="-18.01" y="0" font-size="40.14" font-family='"DejaVu Sans", sans-serif'>♣</text>
<text transform="translate(1252.70 1358.32) scale(1.100 1)" x="-14.36" y="0" font-size="48.28">♥</text>
<text transform="translate(1336.20 1355.87) scale(1.088 1)" x="-12.21" y="0" font-size="47.90">♦</text>
<text transform="translate(1465.20 1334.57) scale(1.088 1)" x="-12.21" y="0" font-size="47.90">♦</text>
</g>
</svg>
</body></html>
